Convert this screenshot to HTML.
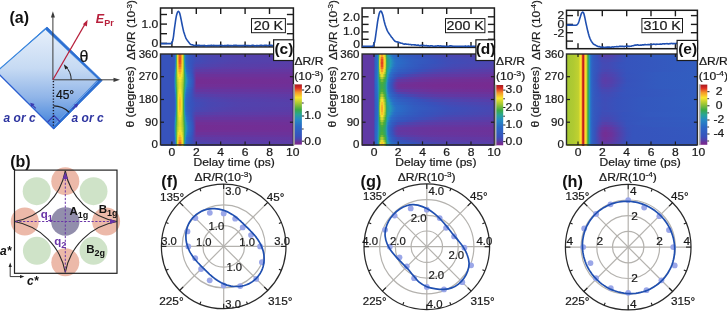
<!DOCTYPE html>
<html><head><meta charset="utf-8"><title>Figure</title>
<style>html,body{margin:0;padding:0;background:#fff}svg{display:block}text{font-family:"Liberation Sans", sans-serif}</style>
</head><body>
<svg width="727" height="311" viewBox="0 0 727 311">
<rect width="727" height="311" fill="#fff"/>
<defs>
<linearGradient id="ga" x1="0" y1="0" x2="0" y2="1"><stop offset="0" stop-color="#e6effa"/><stop offset="0.4" stop-color="#c6daf3"/><stop offset="0.7" stop-color="#8fb4e8"/><stop offset="0.88" stop-color="#5f96e0"/><stop offset="1" stop-color="#3f7ad8"/></linearGradient>
</defs>
<polygon points="47.0,27.0 102.2,80.5 54,129 -3,72.2" fill="#2c6fd2" stroke="#2c6fd2" stroke-width="0.8" stroke-linejoin="round"/>
<polygon points="45.4,29.4 98.2,79.3 52.3,127.0 -3.5,71.6" fill="url(#ga)" stroke="#4a8ee0" stroke-width="0.6"/>
<line x1="-3" y1="72.2" x2="54" y2="129" stroke="#2d5fd0" stroke-width="1.2"/>
<line x1="-3.5" y1="71.8" x2="46" y2="28.4" stroke="#3c88de" stroke-width="1.2"/>
<line x1="97.6" y1="81.2" x2="53.6" y2="125.8" stroke="#b9d2f4" stroke-width="0.5"/>
<path d="M47.6,122.2 L54,115.6 L60.2,121.8" fill="none" stroke="#3a3ab0" stroke-width="1.1"/>
<line x1="52.9" y1="79.8" x2="52.9" y2="14" stroke="#3a3a3a" stroke-width="1"/>
<polygon points="52.9,11.2 50.9,17.5 54.9,17.5" fill="#3a3a3a"/>
<line x1="52.9" y1="79.8" x2="116" y2="79.8" stroke="#3a3a3a" stroke-width="1"/>
<polygon points="120,79.8 113.5,77.7 113.5,81.9" fill="#3a3a3a"/>
<line x1="52.9" y1="79.8" x2="85.4" y2="23.4" stroke="#b8203c" stroke-width="1.2"/>
<polygon points="87.6,19.8 86.9,26.6 82.9,24.3" fill="#b8203c"/>
<path d="M71.2,79.8 A18.3,18.3 0 0 0 65.6,66.6" fill="none" stroke="#222" stroke-width="1"/>
<polygon points="63.8,64.2 68.2,67.6 65.2,69.6" fill="#222"/>
<line x1="53.4" y1="81" x2="53.4" y2="127.5" stroke="#1c1c2c" stroke-width="1.4" stroke-dasharray="1.3,1.6"/>
<path d="M53.6,105.8 A22.8,22.8 0 0 1 69.2,112.2" fill="none" stroke="#222" stroke-width="1.2"/>
<line x1="72.6" y1="109" x2="76.4" y2="105.2" stroke="#3a3ab0" stroke-width="1.1"/><polygon points="78.2,103.4 76.9,107.8 73.8,104.7" fill="#3a3ab0"/>
<line x1="35.8" y1="108.4" x2="32" y2="104.6" stroke="#3a3ab0" stroke-width="1.1"/><polygon points="30.2,102.8 34.6,104.1 31.5,107.2" fill="#3a3ab0"/>
<text transform="translate(9.5 23.2) scale(1 1)" font-size="16" font-weight="bold" fill="#111">(a)</text>
<text transform="translate(95.8 23.0) scale(1 1)" font-size="12.5" font-weight="bold" font-style="italic" fill="#b8203c">E</text>
<text transform="translate(104.2 26.2) scale(1 1)" font-size="9" font-weight="bold" fill="#b8203c">Pr</text>
<text transform="translate(79.6 62.0) scale(1 1)" font-size="16" fill="#111" font-family='"Liberation Serif", serif' stroke="#111" stroke-width="0.22">θ</text>
<text transform="translate(56.0 98.6) scale(1 1)" font-size="12" fill="#111" stroke="#111" stroke-width="0.22">45°</text>
<text transform="translate(3.6 121.6) scale(1 1)" font-size="12" font-weight="bold" font-style="italic" fill="#2e35a0">a or c</text>
<text transform="translate(71.6 121.6) scale(1 1)" font-size="12" font-weight="bold" font-style="italic" fill="#2e35a0">a or c</text>
<circle cx="65.3" cy="181.2" r="14" fill="#ecb9a9"/>
<circle cx="65.3" cy="262.3" r="14" fill="#ecb9a9"/>
<circle cx="24.8" cy="221.5" r="14" fill="#ecb9a9"/>
<circle cx="106.1" cy="221.5" r="14" fill="#ecb9a9"/>
<circle cx="36.7" cy="191.2" r="14" fill="#cfe3c8"/>
<circle cx="93.5" cy="191.2" r="14" fill="#cfe3c8"/>
<circle cx="36.9" cy="250.8" r="14" fill="#cfe3c8"/>
<circle cx="93.5" cy="250.8" r="14" fill="#cfe3c8"/>
<circle cx="65.3" cy="221.5" r="14.2" fill="#928eac"/>
<rect x="14.5" y="170.1" width="102.5" height="103.20000000000002" fill="none" stroke="#222" stroke-width="1.2"/>
<path d="M14.5,221.5 A63,63 0 0 0 65.3,170.9 A63,63 0 0 0 117.0,221.5 A63,63 0 0 0 65.3,272.5 A63,63 0 0 0 14.5,221.5 Z" fill="none" stroke="#2a2a2a" stroke-width="1.1" stroke-linejoin="miter"/>
<line x1="15.5" y1="221.5" x2="112.0" y2="221.5" stroke="#6a35a8" stroke-width="1" stroke-dasharray="2.2,1.6"/>
<line x1="65.3" y1="272.3" x2="65.3" y2="177.1" stroke="#6a35a8" stroke-width="1" stroke-dasharray="2.2,1.6"/>
<polygon points="116.5,221.5 110.0,218.9 110.0,224.1" fill="#6a35a8"/>
<polygon points="65.3,172.1 62.699999999999996,179.1 67.89999999999999,179.1" fill="#6a35a8"/>
<text transform="translate(10.2 166.5) scale(1 1)" font-size="16" font-weight="bold" fill="#111">(b)</text>
<text transform="translate(69.4 215.2) scale(1 1)" font-size="11.5" font-weight="bold" fill="#111">A<tspan font-size="9" dy="2.6">1g</tspan></text>
<text transform="translate(98.8 213.4) scale(1 1)" font-size="11.5" font-weight="bold" fill="#111">B<tspan font-size="9" dy="2.6">1g</tspan></text>
<text transform="translate(86.2 253.2) scale(1 1)" font-size="11.5" font-weight="bold" fill="#111">B<tspan font-size="9" dy="2.6">2g</tspan></text>
<text transform="translate(40.8 218.2) scale(1 1)" font-size="11.5" font-weight="bold" fill="#6a35a8">q<tspan font-size="9" dy="2.6">1</tspan></text>
<text transform="translate(54.2 245.2) scale(1 1)" font-size="11.5" font-weight="bold" fill="#6a35a8">q<tspan font-size="9" dy="2.6">2</tspan></text>
<text transform="translate(0.0 254.8) scale(1 1)" font-size="12" font-weight="bold" font-style="italic" fill="#111">a*</text>
<text transform="translate(27.0 284.5) scale(1 1)" font-size="12" font-weight="bold" font-style="italic" fill="#111">c*</text>
<path d="M10.2,265 L10.2,276.6 L21.5,276.6" fill="none" stroke="#222" stroke-width="0.9"/>
<polygon points="10.2,262.6 8.6,267 11.8,267" fill="#222"/><polygon points="24.4,276.6 20,275 20,278.2" fill="#222"/>
<rect x="160.5" y="8.0" width="132.9" height="38.9" fill="#fff" stroke="#1c1c1c" stroke-width="1.5"/>
<line x1="171.9" y1="8.0" x2="171.9" y2="14.0" stroke="#1c1c1c" stroke-width="1.4"/>
<line x1="171.9" y1="46.9" x2="171.9" y2="41.4" stroke="#1c1c1c" stroke-width="1.4"/>
<line x1="196.3" y1="8.0" x2="196.3" y2="14.0" stroke="#1c1c1c" stroke-width="1.4"/>
<line x1="196.3" y1="46.9" x2="196.3" y2="41.4" stroke="#1c1c1c" stroke-width="1.4"/>
<line x1="220.7" y1="8.0" x2="220.7" y2="14.0" stroke="#1c1c1c" stroke-width="1.4"/>
<line x1="220.7" y1="46.9" x2="220.7" y2="41.4" stroke="#1c1c1c" stroke-width="1.4"/>
<line x1="245.1" y1="8.0" x2="245.1" y2="14.0" stroke="#1c1c1c" stroke-width="1.4"/>
<line x1="245.1" y1="46.9" x2="245.1" y2="41.4" stroke="#1c1c1c" stroke-width="1.4"/>
<line x1="269.5" y1="8.0" x2="269.5" y2="14.0" stroke="#1c1c1c" stroke-width="1.4"/>
<line x1="269.5" y1="46.9" x2="269.5" y2="41.4" stroke="#1c1c1c" stroke-width="1.4"/>
<line x1="160.5" y1="14.5" x2="167.0" y2="14.5" stroke="#1c1c1c" stroke-width="1.4"/>
<line x1="160.5" y1="24.1" x2="167.0" y2="24.1" stroke="#1c1c1c" stroke-width="1.4"/>
<line x1="160.5" y1="33.7" x2="167.0" y2="33.7" stroke="#1c1c1c" stroke-width="1.4"/>
<line x1="160.5" y1="43.4" x2="167.0" y2="43.4" stroke="#1c1c1c" stroke-width="1.4"/>
<line x1="293.4" y1="14.5" x2="286.9" y2="14.5" stroke="#1c1c1c" stroke-width="1.4"/>
<line x1="293.4" y1="24.1" x2="286.9" y2="24.1" stroke="#1c1c1c" stroke-width="1.4"/>
<line x1="293.4" y1="33.7" x2="286.9" y2="33.7" stroke="#1c1c1c" stroke-width="1.4"/>
<text transform="translate(158.3 28.1) scale(1.1 1)" font-size="11" text-anchor="end" fill="#1a1a1a" stroke="#1a1a1a" stroke-width="0.22">1.0</text>
<text transform="translate(158.3 47.4) scale(1.1 1)" font-size="11" text-anchor="end" fill="#1a1a1a" stroke="#1a1a1a" stroke-width="0.22">0</text>
<clipPath id="cp0"><rect x="160.5" y="8.0" width="132.9" height="38.9"/></clipPath>
<path d="M160.7,43.6 L161.3,43.6 L161.8,43.6 L162.3,43.6 L162.8,43.6 L163.3,43.6 L163.8,43.6 L164.3,43.6 L164.8,43.6 L165.3,43.6 L165.9,43.6 L166.4,43.6 L166.9,43.6 L167.4,43.6 L167.9,43.6 L168.4,43.6 L168.9,43.6 L169.4,43.6 L169.9,43.6 L170.5,43.6 L171.0,43.5 L171.5,43.2 L172.0,42.7 L172.5,41.4 L173.0,39.3 L173.5,36.3 L174.0,32.1 L174.5,28.1 L175.1,24.0 L175.6,20.4 L176.1,17.4 L176.6,14.9 L177.1,13.3 L177.6,12.0 L178.1,11.5 L178.6,11.4 L179.1,12.0 L179.7,13.2 L180.2,15.2 L180.7,17.5 L181.2,19.9 L181.7,22.5 L182.2,25.0 L182.7,27.4 L183.2,29.6 L183.7,31.7 L184.3,33.5 L184.8,35.1 L185.3,36.5 L185.8,37.8 L186.3,38.9 L186.8,39.6 L187.3,40.4 L187.8,41.0 L188.4,41.8 L188.9,42.4 L189.4,43.2 L189.9,43.7 L190.4,44.3 L190.9,44.5 L191.4,44.7 L191.9,44.7 L192.4,44.8 L193.0,45.1 L193.5,45.2 L194.0,45.4 L194.5,45.5 L195.0,45.5 L195.5,45.4 L196.0,45.4 L196.5,45.4 L197.0,45.6 L197.6,45.3 L198.1,45.4 L198.6,45.3 L199.1,45.4 L199.6,45.4 L200.1,45.6 L200.6,45.5 L201.1,45.6 L201.6,45.5 L202.2,45.6 L202.7,45.5 L203.2,45.5 L203.7,45.5 L204.2,45.4 L204.7,45.5 L205.2,45.8 L205.7,45.9 L206.2,45.9 L206.8,45.7 L207.3,45.7 L207.8,45.6 L208.3,45.6 L208.8,45.6 L209.3,45.5 L209.8,45.6 L210.3,45.6 L210.8,45.4 L211.4,45.3 L211.9,45.4 L212.4,45.6 L212.9,45.6 L213.4,45.4 L213.9,45.4 L214.4,45.5 L214.9,45.6 L215.4,45.6 L216.0,45.5 L216.5,45.5 L217.0,45.6 L217.5,45.6 L218.0,45.5 L218.5,45.6 L219.0,45.5 L219.5,45.5 L220.0,45.4 L220.6,45.5 L221.1,45.4 L221.6,45.5 L222.1,45.4 L222.6,45.6 L223.1,45.7 L223.6,45.7 L224.1,45.6 L224.6,45.5 L225.2,45.5 L225.7,45.6 L226.2,45.6 L226.7,45.7 L227.2,45.4 L227.7,45.3 L228.2,45.3 L228.7,45.5 L229.3,45.6 L229.8,45.6 L230.3,45.5 L230.8,45.5 L231.3,45.6 L231.8,45.8 L232.3,45.7 L232.8,45.6 L233.3,45.4 L233.9,45.5 L234.4,45.4 L234.9,45.5 L235.4,45.4 L235.9,45.4 L236.4,45.4 L236.9,45.5 L237.4,45.5 L237.9,45.6 L238.5,45.5 L239.0,45.6 L239.5,45.5 L240.0,45.6 L240.5,45.6 L241.0,45.6 L241.5,45.5 L242.0,45.5 L242.5,45.5 L243.1,45.6 L243.6,45.7 L244.1,45.4 L244.6,45.4 L245.1,45.4 L245.6,45.5 L246.1,45.6 L246.6,45.5 L247.1,45.5 L247.7,45.5 L248.2,45.5 L248.7,45.7 L249.2,45.6 L249.7,45.7 L250.2,45.8 L250.7,45.8 L251.2,45.6 L251.7,45.4 L252.3,45.2 L252.8,45.3 L253.3,45.4 L253.8,45.5 L254.3,45.8 L254.8,45.8 L255.3,45.9 L255.8,45.7 L256.3,45.5 L256.9,45.5 L257.4,45.6 L257.9,45.8 L258.4,45.7 L258.9,45.6 L259.4,45.5 L259.9,45.5 L260.4,45.4 L260.9,45.3 L261.5,45.3 L262.0,45.5 L262.5,45.6 L263.0,45.6 L263.5,45.5 L264.0,45.5 L264.5,45.4 L265.0,45.3 L265.5,45.3 L266.1,45.3 L266.6,45.4 L267.1,45.5 L267.6,45.6 L268.1,45.5 L268.6,45.5 L269.1,45.2 L269.6,45.4 L270.2,45.4 L270.7,45.4 L271.2,45.4 L271.7,45.4 L272.2,45.5 L272.7,45.6 L273.2,45.6 L273.7,45.6 L274.2,45.5 L274.8,45.5 L275.3,45.3 L275.8,45.6 L276.3,45.6 L276.8,45.7 L277.3,45.5 L277.8,45.4 L278.3,45.4 L278.8,45.4 L279.4,45.5 L279.9,45.3 L280.4,45.2 L280.9,45.2 L281.4,45.5 L281.9,45.5 L282.4,45.7 L282.9,45.6 L283.4,45.4 L284.0,45.3 L284.5,45.2 L285.0,45.3 L285.5,45.2 L286.0,45.2 L286.5,45.2 L287.0,45.2 L287.5,45.3 L288.0,45.3 L288.6,45.6 L289.1,45.6 L289.6,45.8 L290.1,45.6 L290.6,45.6 L291.1,45.7 L291.6,45.7 L292.1,45.4 L292.6,45.3 L293.2,45.3" fill="none" stroke="#1f4fb0" stroke-width="1.6" stroke-linejoin="round" clip-path="url(#cp0)"/>
<rect x="251.5" y="18.6" width="33.9" height="14.1" fill="#fff" stroke="#1c1c1c" stroke-width="1"/>
<text transform="translate(268.4 30.1) scale(1.1 1)" font-size="13" text-anchor="middle" fill="#1a1a1a" stroke="#1a1a1a" stroke-width="0.22">20 K</text>
<text transform="translate(135.3 60.0) rotate(-90) scale(1 0.94)" font-size="12" fill="#1a1a1a" stroke="#1a1a1a" stroke-width="0.22">ΔR/R (10<tspan font-size="7.5" dy="-4">-3</tspan><tspan dy="4">)</tspan></text>
<rect x="362.1" y="8.0" width="132.3" height="39.4" fill="#fff" stroke="#1c1c1c" stroke-width="1.5"/>
<line x1="374.0" y1="8.0" x2="374.0" y2="14.0" stroke="#1c1c1c" stroke-width="1.4"/>
<line x1="374.0" y1="47.4" x2="374.0" y2="41.9" stroke="#1c1c1c" stroke-width="1.4"/>
<line x1="398.2" y1="8.0" x2="398.2" y2="14.0" stroke="#1c1c1c" stroke-width="1.4"/>
<line x1="398.2" y1="47.4" x2="398.2" y2="41.9" stroke="#1c1c1c" stroke-width="1.4"/>
<line x1="422.5" y1="8.0" x2="422.5" y2="14.0" stroke="#1c1c1c" stroke-width="1.4"/>
<line x1="422.5" y1="47.4" x2="422.5" y2="41.9" stroke="#1c1c1c" stroke-width="1.4"/>
<line x1="446.7" y1="8.0" x2="446.7" y2="14.0" stroke="#1c1c1c" stroke-width="1.4"/>
<line x1="446.7" y1="47.4" x2="446.7" y2="41.9" stroke="#1c1c1c" stroke-width="1.4"/>
<line x1="471.0" y1="8.0" x2="471.0" y2="14.0" stroke="#1c1c1c" stroke-width="1.4"/>
<line x1="471.0" y1="47.4" x2="471.0" y2="41.9" stroke="#1c1c1c" stroke-width="1.4"/>
<line x1="362.1" y1="16.8" x2="368.6" y2="16.8" stroke="#1c1c1c" stroke-width="1.4"/>
<line x1="362.1" y1="24.4" x2="368.6" y2="24.4" stroke="#1c1c1c" stroke-width="1.4"/>
<line x1="362.1" y1="31.9" x2="368.6" y2="31.9" stroke="#1c1c1c" stroke-width="1.4"/>
<line x1="362.1" y1="39.3" x2="368.6" y2="39.3" stroke="#1c1c1c" stroke-width="1.4"/>
<line x1="494.4" y1="16.8" x2="487.9" y2="16.8" stroke="#1c1c1c" stroke-width="1.4"/>
<line x1="494.4" y1="24.4" x2="487.9" y2="24.4" stroke="#1c1c1c" stroke-width="1.4"/>
<line x1="494.4" y1="31.9" x2="487.9" y2="31.9" stroke="#1c1c1c" stroke-width="1.4"/>
<line x1="494.4" y1="39.3" x2="487.9" y2="39.3" stroke="#1c1c1c" stroke-width="1.4"/>
<text transform="translate(359.9 20.8) scale(1.1 1)" font-size="11" text-anchor="end" fill="#1a1a1a" stroke="#1a1a1a" stroke-width="0.22">2.0</text>
<text transform="translate(359.9 35.3) scale(1.1 1)" font-size="11" text-anchor="end" fill="#1a1a1a" stroke="#1a1a1a" stroke-width="0.22">1.0</text>
<text transform="translate(359.9 48.3) scale(1.1 1)" font-size="11" text-anchor="end" fill="#1a1a1a" stroke="#1a1a1a" stroke-width="0.22">0</text>
<clipPath id="cp1"><rect x="362.1" y="8.0" width="132.3" height="39.4"/></clipPath>
<path d="M362.3,46.3 L362.9,46.3 L363.4,46.3 L363.9,46.3 L364.4,46.3 L364.9,46.3 L365.4,46.3 L365.9,46.3 L366.4,46.3 L366.9,46.3 L367.4,46.3 L367.9,46.3 L368.4,46.3 L369.0,46.3 L369.5,46.3 L370.0,46.3 L370.5,46.3 L371.0,46.3 L371.5,46.3 L372.0,46.3 L372.5,46.3 L373.0,46.1 L373.5,45.2 L374.0,43.8 L374.6,42.2 L375.1,39.6 L375.6,36.1 L376.1,32.5 L376.6,29.0 L377.1,25.3 L377.6,21.7 L378.1,18.9 L378.6,16.3 L379.1,14.0 L379.6,12.4 L380.2,11.5 L380.7,11.0 L381.2,11.2 L381.7,12.1 L382.2,13.4 L382.7,14.8 L383.2,16.8 L383.7,19.2 L384.2,21.3 L384.7,23.2 L385.2,25.0 L385.8,26.7 L386.3,28.1 L386.8,29.4 L387.3,30.6 L387.8,31.6 L388.3,32.4 L388.8,33.3 L389.3,33.9 L389.8,34.6 L390.3,35.4 L390.8,36.1 L391.4,36.9 L391.9,37.5 L392.4,38.1 L392.9,38.8 L393.4,39.4 L393.9,40.2 L394.4,40.6 L394.9,41.2 L395.4,41.3 L395.9,41.7 L396.4,41.8 L397.0,41.9 L397.5,41.9 L398.0,42.1 L398.5,42.3 L399.0,42.5 L399.5,42.6 L400.0,42.8 L400.5,43.0 L401.0,43.2 L401.5,43.2 L402.0,43.3 L402.5,43.5 L403.1,43.8 L403.6,44.0 L404.1,44.1 L404.6,44.2 L405.1,43.9 L405.6,44.0 L406.1,44.1 L406.6,44.3 L407.1,44.3 L407.6,44.2 L408.1,44.3 L408.7,44.4 L409.2,44.5 L409.7,44.5 L410.2,44.5 L410.7,44.5 L411.2,44.7 L411.7,44.9 L412.2,44.8 L412.7,44.8 L413.2,44.7 L413.7,44.7 L414.3,44.9 L414.8,44.8 L415.3,44.9 L415.8,45.0 L416.3,45.2 L416.8,45.2 L417.3,45.3 L417.8,45.1 L418.3,45.1 L418.8,45.3 L419.3,45.5 L419.9,45.7 L420.4,45.5 L420.9,45.4 L421.4,45.3 L421.9,45.4 L422.4,45.6 L422.9,45.5 L423.4,45.4 L423.9,45.5 L424.4,45.6 L424.9,45.7 L425.5,45.7 L426.0,45.6 L426.5,45.6 L427.0,45.7 L427.5,45.9 L428.0,45.9 L428.5,45.9 L429.0,45.9 L429.5,46.1 L430.0,46.0 L430.5,45.9 L431.0,45.8 L431.6,45.8 L432.1,45.9 L432.6,46.0 L433.1,46.2 L433.6,46.2 L434.1,46.2 L434.6,46.2 L435.1,46.1 L435.6,46.1 L436.1,46.1 L436.6,46.0 L437.2,45.9 L437.7,45.8 L438.2,45.8 L438.7,45.9 L439.2,46.1 L439.7,46.0 L440.2,45.9 L440.7,46.0 L441.2,46.0 L441.7,46.1 L442.2,46.1 L442.8,46.2 L443.3,46.2 L443.8,46.1 L444.3,46.3 L444.8,46.3 L445.3,46.4 L445.8,46.4 L446.3,46.3 L446.8,46.4 L447.3,46.3 L447.8,46.5 L448.4,46.4 L448.9,46.3 L449.4,46.0 L449.9,45.9 L450.4,45.8 L450.9,46.0 L451.4,45.9 L451.9,46.1 L452.4,46.1 L452.9,46.4 L453.4,46.4 L454.0,46.3 L454.5,46.2 L455.0,46.3 L455.5,46.4 L456.0,46.4 L456.5,46.4 L457.0,46.5 L457.5,46.3 L458.0,46.5 L458.5,46.4 L459.0,46.5 L459.5,46.3 L460.1,46.2 L460.6,46.3 L461.1,46.3 L461.6,46.3 L462.1,46.2 L462.6,46.3 L463.1,46.3 L463.6,46.5 L464.1,46.4 L464.6,46.2 L465.1,46.1 L465.7,46.1 L466.2,46.3 L466.7,46.6 L467.2,46.4 L467.7,46.3 L468.2,46.1 L468.7,46.1 L469.2,46.2 L469.7,46.2 L470.2,46.4 L470.7,46.5 L471.3,46.4 L471.8,46.2 L472.3,46.3 L472.8,46.3 L473.3,46.4 L473.8,46.2 L474.3,46.3 L474.8,46.4 L475.3,46.4 L475.8,46.5 L476.3,46.2 L476.9,46.0 L477.4,46.0 L477.9,46.2 L478.4,46.3 L478.9,46.3 L479.4,46.1 L479.9,46.0 L480.4,45.9 L480.9,46.0 L481.4,46.3 L481.9,46.5 L482.5,46.4 L483.0,46.4 L483.5,46.3 L484.0,46.2 L484.5,46.1 L485.0,46.3 L485.5,46.3 L486.0,46.2 L486.5,46.3 L487.0,46.3 L487.5,46.5 L488.1,46.4 L488.6,46.4 L489.1,46.4 L489.6,46.2 L490.1,46.1 L490.6,46.2 L491.1,46.4 L491.6,46.4 L492.1,46.4 L492.6,46.3 L493.1,46.3 L493.6,46.2 L494.2,46.2" fill="none" stroke="#1f4fb0" stroke-width="1.6" stroke-linejoin="round" clip-path="url(#cp1)"/>
<rect x="445.5" y="18.6" width="39.4" height="14.1" fill="#fff" stroke="#1c1c1c" stroke-width="1"/>
<text transform="translate(465.2 30.1) scale(1.1 1)" font-size="13" text-anchor="middle" fill="#1a1a1a" stroke="#1a1a1a" stroke-width="0.22">200 K</text>
<text transform="translate(336.8 60.0) rotate(-90) scale(1 0.94)" font-size="12" fill="#1a1a1a" stroke="#1a1a1a" stroke-width="0.22">ΔR/R (10<tspan font-size="7.5" dy="-4">-3</tspan><tspan dy="4">)</tspan></text>
<rect x="566.5" y="10.3" width="130.9" height="38.4" fill="#fff" stroke="#1c1c1c" stroke-width="1.5"/>
<line x1="578.0" y1="10.3" x2="578.0" y2="16.3" stroke="#1c1c1c" stroke-width="1.4"/>
<line x1="578.0" y1="48.7" x2="578.0" y2="43.2" stroke="#1c1c1c" stroke-width="1.4"/>
<line x1="602.3" y1="10.3" x2="602.3" y2="16.3" stroke="#1c1c1c" stroke-width="1.4"/>
<line x1="602.3" y1="48.7" x2="602.3" y2="43.2" stroke="#1c1c1c" stroke-width="1.4"/>
<line x1="626.7" y1="10.3" x2="626.7" y2="16.3" stroke="#1c1c1c" stroke-width="1.4"/>
<line x1="626.7" y1="48.7" x2="626.7" y2="43.2" stroke="#1c1c1c" stroke-width="1.4"/>
<line x1="651.0" y1="10.3" x2="651.0" y2="16.3" stroke="#1c1c1c" stroke-width="1.4"/>
<line x1="651.0" y1="48.7" x2="651.0" y2="43.2" stroke="#1c1c1c" stroke-width="1.4"/>
<line x1="675.4" y1="10.3" x2="675.4" y2="16.3" stroke="#1c1c1c" stroke-width="1.4"/>
<line x1="675.4" y1="48.7" x2="675.4" y2="43.2" stroke="#1c1c1c" stroke-width="1.4"/>
<line x1="566.5" y1="15.6" x2="573.0" y2="15.6" stroke="#1c1c1c" stroke-width="1.4"/>
<line x1="566.5" y1="24.4" x2="573.0" y2="24.4" stroke="#1c1c1c" stroke-width="1.4"/>
<line x1="566.5" y1="32.7" x2="573.0" y2="32.7" stroke="#1c1c1c" stroke-width="1.4"/>
<line x1="566.5" y1="41.1" x2="573.0" y2="41.1" stroke="#1c1c1c" stroke-width="1.4"/>
<line x1="697.4" y1="15.6" x2="690.9" y2="15.6" stroke="#1c1c1c" stroke-width="1.4"/>
<line x1="697.4" y1="24.4" x2="690.9" y2="24.4" stroke="#1c1c1c" stroke-width="1.4"/>
<line x1="697.4" y1="32.7" x2="690.9" y2="32.7" stroke="#1c1c1c" stroke-width="1.4"/>
<text transform="translate(564.3 18.6) scale(1.1 1)" font-size="11" text-anchor="end" fill="#1a1a1a" stroke="#1a1a1a" stroke-width="0.22">2</text>
<text transform="translate(564.3 28.4) scale(1.1 1)" font-size="11" text-anchor="end" fill="#1a1a1a" stroke="#1a1a1a" stroke-width="0.22">0</text>
<text transform="translate(564.3 37.2) scale(1.1 1)" font-size="11" text-anchor="end" fill="#1a1a1a" stroke="#1a1a1a" stroke-width="0.22">-2</text>
<clipPath id="cp2"><rect x="566.5" y="10.3" width="130.9" height="38.4"/></clipPath>
<path d="M566.7,25.1 L567.2,25.1 L567.8,25.1 L568.3,25.1 L568.8,25.1 L569.3,25.1 L569.8,25.1 L570.3,25.1 L570.8,25.1 L571.3,25.1 L571.8,25.1 L572.3,25.1 L572.8,25.1 L573.3,25.2 L573.8,25.2 L574.3,25.2 L574.8,25.2 L575.3,25.2 L575.8,25.2 L576.3,25.1 L576.8,24.9 L577.3,24.6 L577.8,23.9 L578.3,23.1 L578.8,21.8 L579.3,20.2 L579.8,18.4 L580.3,16.9 L580.8,15.2 L581.3,13.7 L581.8,12.8 L582.4,12.3 L582.9,12.1 L583.4,12.5 L583.9,13.8 L584.4,15.7 L584.9,17.9 L585.4,20.4 L585.9,22.8 L586.4,25.1 L586.9,27.4 L587.4,29.6 L587.9,31.5 L588.4,33.5 L588.9,35.3 L589.4,36.9 L589.9,38.2 L590.4,39.4 L590.9,40.4 L591.4,41.3 L591.9,42.1 L592.4,42.7 L592.9,43.4 L593.4,44.0 L593.9,44.3 L594.4,44.7 L594.9,44.8 L595.4,45.1 L595.9,45.4 L596.5,45.8 L597.0,46.0 L597.5,46.2 L598.0,46.4 L598.5,46.6 L599.0,46.7 L599.5,46.6 L600.0,46.8 L600.5,47.1 L601.0,47.2 L601.5,47.4 L602.0,47.1 L602.5,47.0 L603.0,47.0 L603.5,47.2 L604.0,47.5 L604.5,47.5 L605.0,47.4 L605.5,47.3 L606.0,47.4 L606.5,47.2 L607.0,47.1 L607.5,47.1 L608.0,47.1 L608.5,47.1 L609.0,47.0 L609.5,47.1 L610.0,47.2 L610.6,47.3 L611.1,47.2 L611.6,47.1 L612.1,47.0 L612.6,46.9 L613.1,47.1 L613.6,47.0 L614.1,46.9 L614.6,46.8 L615.1,46.8 L615.6,46.8 L616.1,46.7 L616.6,46.5 L617.1,46.5 L617.6,46.7 L618.1,46.7 L618.6,46.6 L619.1,46.4 L619.6,46.5 L620.1,46.3 L620.6,46.5 L621.1,46.3 L621.6,46.5 L622.1,46.4 L622.6,46.4 L623.1,46.4 L623.6,46.5 L624.1,46.7 L624.6,46.6 L625.2,46.2 L625.7,46.2 L626.2,46.2 L626.7,46.2 L627.2,46.0 L627.7,46.0 L628.2,46.2 L628.7,46.4 L629.2,46.4 L629.7,46.2 L630.2,46.2 L630.7,46.3 L631.2,46.2 L631.7,46.0 L632.2,45.8 L632.7,45.8 L633.2,45.8 L633.7,45.6 L634.2,45.4 L634.7,45.1 L635.2,45.1 L635.7,45.1 L636.2,45.1 L636.7,45.0 L637.2,44.9 L637.7,44.8 L638.2,45.0 L638.7,45.2 L639.3,45.2 L639.8,45.2 L640.3,45.0 L640.8,45.1 L641.3,45.2 L641.8,45.0 L642.3,44.9 L642.8,44.8 L643.3,44.9 L643.8,44.9 L644.3,44.7 L644.8,44.5 L645.3,44.5 L645.8,44.7 L646.3,44.8 L646.8,44.8 L647.3,44.7 L647.8,44.6 L648.3,44.5 L648.8,44.6 L649.3,44.5 L649.8,44.6 L650.3,44.5 L650.8,44.5 L651.3,44.5 L651.8,44.5 L652.3,44.5 L652.8,44.3 L653.3,44.3 L653.9,44.1 L654.4,44.2 L654.9,44.3 L655.4,44.5 L655.9,44.4 L656.4,44.4 L656.9,44.1 L657.4,44.2 L657.9,44.2 L658.4,44.2 L658.9,44.2 L659.4,44.2 L659.9,44.1 L660.4,44.1 L660.9,44.1 L661.4,44.2 L661.9,44.1 L662.4,43.9 L662.9,43.8 L663.4,43.8 L663.9,43.9 L664.4,43.9 L664.9,43.9 L665.4,43.8 L665.9,43.8 L666.4,43.7 L666.9,43.6 L667.4,43.8 L668.0,43.9 L668.5,44.0 L669.0,43.9 L669.5,43.8 L670.0,43.6 L670.5,43.6 L671.0,43.6 L671.5,43.4 L672.0,43.5 L672.5,43.6 L673.0,43.8 L673.5,43.6 L674.0,43.5 L674.5,43.5 L675.0,43.6 L675.5,43.5 L676.0,43.5 L676.5,43.4 L677.0,43.5 L677.5,43.5 L678.0,43.4 L678.5,43.3 L679.0,43.3 L679.5,43.2 L680.0,43.3 L680.5,43.3 L681.0,43.2 L681.5,43.1 L682.1,43.1 L682.6,43.2 L683.1,43.3 L683.6,43.2 L684.1,43.1 L684.6,43.1 L685.1,43.3 L685.6,43.2 L686.1,43.3 L686.6,43.2 L687.1,43.3 L687.6,43.1 L688.1,43.0 L688.6,43.0 L689.1,43.0 L689.6,43.1 L690.1,43.2 L690.6,43.1 L691.1,43.1 L691.6,42.9 L692.1,42.9 L692.6,42.8 L693.1,42.7 L693.6,42.6 L694.1,42.6 L694.6,42.6 L695.1,42.6 L695.6,42.6 L696.1,42.7 L696.7,42.7 L697.2,42.8" fill="none" stroke="#1f4fb0" stroke-width="1.6" stroke-linejoin="round" clip-path="url(#cp2)"/>
<rect x="641.9" y="18.5" width="40.6" height="14.2" fill="#fff" stroke="#1c1c1c" stroke-width="1"/>
<text transform="translate(662.2 30.1) scale(1.1 1)" font-size="13" text-anchor="middle" fill="#1a1a1a" stroke="#1a1a1a" stroke-width="0.22">310 K</text>
<text transform="translate(539.8 60.0) rotate(-90) scale(1 0.94)" font-size="12" fill="#1a1a1a" stroke="#1a1a1a" stroke-width="0.22">ΔR/R (10<tspan font-size="7.5" dy="-4">-4</tspan><tspan dy="4">)</tspan></text>
<defs>
<linearGradient id="h0_0"><stop offset="0.000" stop-color="#3753bc"/><stop offset="0.100" stop-color="#3753bc"/><stop offset="0.104" stop-color="#3457be"/><stop offset="0.109" stop-color="#2e64c3"/><stop offset="0.113" stop-color="#277bc4"/><stop offset="0.118" stop-color="#28a092"/><stop offset="0.122" stop-color="#71b838"/><stop offset="0.127" stop-color="#e5de2e"/><stop offset="0.132" stop-color="#f8bf2b"/><stop offset="0.136" stop-color="#f59528"/><stop offset="0.141" stop-color="#ea6926"/><stop offset="0.145" stop-color="#e44e25"/><stop offset="0.150" stop-color="#e75c25"/><stop offset="0.155" stop-color="#f18427"/><stop offset="0.164" stop-color="#f8cc2b"/><stop offset="0.168" stop-color="#e4de2e"/><stop offset="0.173" stop-color="#9cc534"/><stop offset="0.178" stop-color="#37a85b"/><stop offset="0.182" stop-color="#249cae"/><stop offset="0.187" stop-color="#277bc4"/><stop offset="0.191" stop-color="#2a6cc6"/><stop offset="0.196" stop-color="#2d65c4"/><stop offset="0.219" stop-color="#3457be"/><stop offset="0.242" stop-color="#3851bb"/><stop offset="0.265" stop-color="#444ab5"/><stop offset="0.384" stop-color="#4d45b0"/><stop offset="0.545" stop-color="#5341ac"/><stop offset="1.000" stop-color="#583ea9"/></linearGradient>
<linearGradient id="h0_1"><stop offset="0.000" stop-color="#3753bc"/><stop offset="0.100" stop-color="#3753bc"/><stop offset="0.104" stop-color="#3557be"/><stop offset="0.109" stop-color="#2f63c3"/><stop offset="0.113" stop-color="#2778c5"/><stop offset="0.118" stop-color="#28a096"/><stop offset="0.122" stop-color="#6fb838"/><stop offset="0.127" stop-color="#e7df2e"/><stop offset="0.132" stop-color="#f7bb2a"/><stop offset="0.136" stop-color="#f38c28"/><stop offset="0.141" stop-color="#e85e25"/><stop offset="0.145" stop-color="#e14224"/><stop offset="0.150" stop-color="#e45025"/><stop offset="0.159" stop-color="#f6a229"/><stop offset="0.164" stop-color="#f8c82b"/><stop offset="0.168" stop-color="#e7df2e"/><stop offset="0.173" stop-color="#9bc434"/><stop offset="0.178" stop-color="#35a75e"/><stop offset="0.182" stop-color="#249cb3"/><stop offset="0.187" stop-color="#2778c5"/><stop offset="0.191" stop-color="#2b6bc6"/><stop offset="0.196" stop-color="#2e64c3"/><stop offset="0.214" stop-color="#3458bf"/><stop offset="0.242" stop-color="#3752bc"/><stop offset="0.265" stop-color="#404cb7"/><stop offset="0.361" stop-color="#4947b2"/><stop offset="0.591" stop-color="#5242ad"/><stop offset="1.000" stop-color="#5640aa"/></linearGradient>
<linearGradient id="h0_2"><stop offset="0.000" stop-color="#3753bc"/><stop offset="0.100" stop-color="#3753bc"/><stop offset="0.104" stop-color="#3557be"/><stop offset="0.109" stop-color="#2f63c3"/><stop offset="0.113" stop-color="#2779c5"/><stop offset="0.118" stop-color="#28a096"/><stop offset="0.122" stop-color="#6fb838"/><stop offset="0.127" stop-color="#e8df2e"/><stop offset="0.132" stop-color="#f7ba2a"/><stop offset="0.136" stop-color="#f28b27"/><stop offset="0.141" stop-color="#e75d25"/><stop offset="0.145" stop-color="#e14124"/><stop offset="0.150" stop-color="#e44f25"/><stop offset="0.159" stop-color="#f6a129"/><stop offset="0.164" stop-color="#f8c72b"/><stop offset="0.168" stop-color="#e7df2e"/><stop offset="0.173" stop-color="#9cc534"/><stop offset="0.178" stop-color="#35a75d"/><stop offset="0.182" stop-color="#249cb3"/><stop offset="0.187" stop-color="#2779c5"/><stop offset="0.191" stop-color="#2b6bc6"/><stop offset="0.196" stop-color="#2e64c3"/><stop offset="0.214" stop-color="#3458bf"/><stop offset="0.242" stop-color="#3752bc"/><stop offset="0.265" stop-color="#404cb7"/><stop offset="0.361" stop-color="#4947b2"/><stop offset="0.591" stop-color="#5242ad"/><stop offset="1.000" stop-color="#5640aa"/></linearGradient>
<linearGradient id="h0_3"><stop offset="0.000" stop-color="#3753bc"/><stop offset="0.100" stop-color="#3753bc"/><stop offset="0.104" stop-color="#3457be"/><stop offset="0.109" stop-color="#2e64c3"/><stop offset="0.113" stop-color="#277cc4"/><stop offset="0.118" stop-color="#28a091"/><stop offset="0.122" stop-color="#72b938"/><stop offset="0.127" stop-color="#e7df2e"/><stop offset="0.132" stop-color="#f7bd2a"/><stop offset="0.136" stop-color="#f49328"/><stop offset="0.141" stop-color="#ea6626"/><stop offset="0.145" stop-color="#e34b24"/><stop offset="0.150" stop-color="#e65925"/><stop offset="0.155" stop-color="#f08127"/><stop offset="0.164" stop-color="#f8ca2b"/><stop offset="0.168" stop-color="#e6df2e"/><stop offset="0.173" stop-color="#9ec534"/><stop offset="0.178" stop-color="#37a85a"/><stop offset="0.182" stop-color="#259dae"/><stop offset="0.187" stop-color="#277cc4"/><stop offset="0.191" stop-color="#2a6cc6"/><stop offset="0.196" stop-color="#2d65c4"/><stop offset="0.219" stop-color="#3457be"/><stop offset="0.242" stop-color="#3851bb"/><stop offset="0.265" stop-color="#444ab5"/><stop offset="0.384" stop-color="#4d45b0"/><stop offset="0.545" stop-color="#5341ac"/><stop offset="1.000" stop-color="#583ea9"/></linearGradient>
<linearGradient id="h0_4"><stop offset="0.000" stop-color="#3753bc"/><stop offset="0.100" stop-color="#3753bc"/><stop offset="0.104" stop-color="#3458be"/><stop offset="0.109" stop-color="#2d66c4"/><stop offset="0.113" stop-color="#2682c2"/><stop offset="0.118" stop-color="#29a188"/><stop offset="0.122" stop-color="#77ba37"/><stop offset="0.127" stop-color="#e4de2e"/><stop offset="0.132" stop-color="#f8c42b"/><stop offset="0.141" stop-color="#ee7927"/><stop offset="0.145" stop-color="#e86025"/><stop offset="0.150" stop-color="#eb6d26"/><stop offset="0.155" stop-color="#f49228"/><stop offset="0.159" stop-color="#f7ae2a"/><stop offset="0.164" stop-color="#f9d02c"/><stop offset="0.168" stop-color="#e3de2f"/><stop offset="0.173" stop-color="#a0c633"/><stop offset="0.178" stop-color="#3aa954"/><stop offset="0.182" stop-color="#269ea4"/><stop offset="0.187" stop-color="#2682c2"/><stop offset="0.191" stop-color="#296ec7"/><stop offset="0.201" stop-color="#2f63c3"/><stop offset="0.210" stop-color="#325cc0"/><stop offset="0.237" stop-color="#3752bc"/><stop offset="0.256" stop-color="#454ab4"/><stop offset="0.269" stop-color="#4b46b1"/><stop offset="0.499" stop-color="#5640aa"/><stop offset="1.000" stop-color="#5b3ca7"/></linearGradient>
<linearGradient id="h0_5"><stop offset="0.000" stop-color="#3753bc"/><stop offset="0.100" stop-color="#3753bc"/><stop offset="0.104" stop-color="#335abf"/><stop offset="0.109" stop-color="#2b69c5"/><stop offset="0.113" stop-color="#258abf"/><stop offset="0.118" stop-color="#2ba37d"/><stop offset="0.122" stop-color="#7dbc37"/><stop offset="0.127" stop-color="#dfdc2f"/><stop offset="0.132" stop-color="#f8ce2b"/><stop offset="0.136" stop-color="#f6ac29"/><stop offset="0.145" stop-color="#ef7e27"/><stop offset="0.150" stop-color="#f28827"/><stop offset="0.164" stop-color="#f9d82c"/><stop offset="0.168" stop-color="#dfdc2f"/><stop offset="0.173" stop-color="#a2c633"/><stop offset="0.178" stop-color="#3eaa4c"/><stop offset="0.182" stop-color="#28a097"/><stop offset="0.187" stop-color="#258abf"/><stop offset="0.191" stop-color="#2774c6"/><stop offset="0.201" stop-color="#2d66c4"/><stop offset="0.210" stop-color="#315ec1"/><stop offset="0.237" stop-color="#3851bb"/><stop offset="0.256" stop-color="#4b46b1"/><stop offset="0.269" stop-color="#5341ac"/><stop offset="0.453" stop-color="#5b3da8"/><stop offset="1.000" stop-color="#5f3aa5"/></linearGradient>
<linearGradient id="h0_6"><stop offset="0.000" stop-color="#3753bc"/><stop offset="0.100" stop-color="#3753bc"/><stop offset="0.104" stop-color="#325cc0"/><stop offset="0.109" stop-color="#296dc7"/><stop offset="0.113" stop-color="#2495bb"/><stop offset="0.118" stop-color="#2da56f"/><stop offset="0.122" stop-color="#82bd36"/><stop offset="0.127" stop-color="#d8d92f"/><stop offset="0.132" stop-color="#f9da2c"/><stop offset="0.136" stop-color="#f7be2a"/><stop offset="0.141" stop-color="#f6a929"/><stop offset="0.145" stop-color="#f59d28"/><stop offset="0.150" stop-color="#f6a329"/><stop offset="0.159" stop-color="#f8ca2b"/><stop offset="0.164" stop-color="#fae32d"/><stop offset="0.168" stop-color="#d8d92f"/><stop offset="0.173" stop-color="#a3c733"/><stop offset="0.178" stop-color="#42ab43"/><stop offset="0.182" stop-color="#2aa287"/><stop offset="0.187" stop-color="#2495bb"/><stop offset="0.191" stop-color="#267fc3"/><stop offset="0.196" stop-color="#286fc8"/><stop offset="0.205" stop-color="#2d65c4"/><stop offset="0.237" stop-color="#3852bc"/><stop offset="0.260" stop-color="#5640aa"/><stop offset="0.269" stop-color="#5c3ca6"/><stop offset="0.407" stop-color="#6139a4"/><stop offset="1.000" stop-color="#6437a1"/></linearGradient>
<linearGradient id="h0_7"><stop offset="0.000" stop-color="#3753bc"/><stop offset="0.100" stop-color="#3753bc"/><stop offset="0.104" stop-color="#3060c2"/><stop offset="0.109" stop-color="#2776c6"/><stop offset="0.113" stop-color="#249cb0"/><stop offset="0.118" stop-color="#33a763"/><stop offset="0.122" stop-color="#86be36"/><stop offset="0.127" stop-color="#d0d630"/><stop offset="0.132" stop-color="#f7e52d"/><stop offset="0.136" stop-color="#f9d02c"/><stop offset="0.141" stop-color="#f8bf2b"/><stop offset="0.145" stop-color="#f7b52a"/><stop offset="0.150" stop-color="#f7ba2a"/><stop offset="0.159" stop-color="#f9db2c"/><stop offset="0.164" stop-color="#efe22e"/><stop offset="0.168" stop-color="#cfd630"/><stop offset="0.173" stop-color="#a2c633"/><stop offset="0.178" stop-color="#47ac3c"/><stop offset="0.182" stop-color="#2ca478"/><stop offset="0.187" stop-color="#249cb0"/><stop offset="0.191" stop-color="#258bbf"/><stop offset="0.201" stop-color="#296ec7"/><stop offset="0.237" stop-color="#3653bc"/><stop offset="0.260" stop-color="#5b3ca7"/><stop offset="0.269" stop-color="#6536a0"/><stop offset="1.000" stop-color="#68349d"/></linearGradient>
<linearGradient id="h0_8"><stop offset="0.000" stop-color="#3753bc"/><stop offset="0.100" stop-color="#3753bc"/><stop offset="0.104" stop-color="#2e64c3"/><stop offset="0.109" stop-color="#2682c2"/><stop offset="0.113" stop-color="#279f9e"/><stop offset="0.118" stop-color="#38a859"/><stop offset="0.122" stop-color="#86be36"/><stop offset="0.127" stop-color="#c6d230"/><stop offset="0.132" stop-color="#e7df2e"/><stop offset="0.136" stop-color="#fae32d"/><stop offset="0.141" stop-color="#f9d52c"/><stop offset="0.145" stop-color="#f8cc2b"/><stop offset="0.150" stop-color="#f9d02c"/><stop offset="0.155" stop-color="#f9dd2c"/><stop offset="0.159" stop-color="#f4e42d"/><stop offset="0.164" stop-color="#e0dc2f"/><stop offset="0.168" stop-color="#c5d231"/><stop offset="0.173" stop-color="#9ec534"/><stop offset="0.178" stop-color="#4faf3b"/><stop offset="0.182" stop-color="#2ea56b"/><stop offset="0.187" stop-color="#279f9e"/><stop offset="0.191" stop-color="#2497bb"/><stop offset="0.201" stop-color="#2778c5"/><stop offset="0.205" stop-color="#296fc7"/><stop offset="0.242" stop-color="#3752bc"/><stop offset="0.260" stop-color="#5e3ba6"/><stop offset="0.269" stop-color="#6c329a"/><stop offset="1.000" stop-color="#6c329a"/></linearGradient>
<linearGradient id="h0_9"><stop offset="0.000" stop-color="#3753bc"/><stop offset="0.100" stop-color="#3753bc"/><stop offset="0.104" stop-color="#2c68c5"/><stop offset="0.109" stop-color="#258bbe"/><stop offset="0.113" stop-color="#28a092"/><stop offset="0.118" stop-color="#3ba953"/><stop offset="0.122" stop-color="#82bd36"/><stop offset="0.127" stop-color="#bbcf31"/><stop offset="0.132" stop-color="#d8d92f"/><stop offset="0.141" stop-color="#f9e62d"/><stop offset="0.145" stop-color="#fae02d"/><stop offset="0.150" stop-color="#fae32d"/><stop offset="0.155" stop-color="#f1e32e"/><stop offset="0.159" stop-color="#e3dd2f"/><stop offset="0.168" stop-color="#bbce31"/><stop offset="0.173" stop-color="#97c334"/><stop offset="0.178" stop-color="#53b03b"/><stop offset="0.182" stop-color="#32a663"/><stop offset="0.187" stop-color="#28a092"/><stop offset="0.191" stop-color="#249cb2"/><stop offset="0.196" stop-color="#248fbd"/><stop offset="0.210" stop-color="#296ec7"/><stop offset="0.246" stop-color="#3a50ba"/><stop offset="0.269" stop-color="#722f96"/><stop offset="1.000" stop-color="#6f3098"/></linearGradient>
<linearGradient id="h0_10"><stop offset="0.000" stop-color="#3753bc"/><stop offset="0.100" stop-color="#3753bc"/><stop offset="0.104" stop-color="#2b6ac6"/><stop offset="0.109" stop-color="#2490bd"/><stop offset="0.113" stop-color="#29a18d"/><stop offset="0.118" stop-color="#3ba952"/><stop offset="0.122" stop-color="#7cbb37"/><stop offset="0.127" stop-color="#b2cb32"/><stop offset="0.132" stop-color="#cbd530"/><stop offset="0.141" stop-color="#eae02e"/><stop offset="0.145" stop-color="#f1e32e"/><stop offset="0.150" stop-color="#ede12e"/><stop offset="0.159" stop-color="#d6d82f"/><stop offset="0.168" stop-color="#b1cb32"/><stop offset="0.173" stop-color="#8fc135"/><stop offset="0.178" stop-color="#50af3b"/><stop offset="0.182" stop-color="#33a761"/><stop offset="0.187" stop-color="#29a18d"/><stop offset="0.191" stop-color="#259dab"/><stop offset="0.196" stop-color="#2494bc"/><stop offset="0.210" stop-color="#2871c8"/><stop offset="0.246" stop-color="#3752bc"/><stop offset="0.260" stop-color="#5c3ca7"/><stop offset="0.269" stop-color="#742d93"/><stop offset="1.000" stop-color="#712f96"/></linearGradient>
<linearGradient id="h0_11"><stop offset="0.000" stop-color="#3753bc"/><stop offset="0.100" stop-color="#3753bc"/><stop offset="0.104" stop-color="#2b69c5"/><stop offset="0.109" stop-color="#248ebd"/><stop offset="0.113" stop-color="#28a091"/><stop offset="0.118" stop-color="#39a857"/><stop offset="0.122" stop-color="#73b938"/><stop offset="0.127" stop-color="#a9c833"/><stop offset="0.132" stop-color="#c3d131"/><stop offset="0.141" stop-color="#e1dd2f"/><stop offset="0.145" stop-color="#e8df2e"/><stop offset="0.150" stop-color="#e4de2e"/><stop offset="0.159" stop-color="#cdd530"/><stop offset="0.164" stop-color="#becf31"/><stop offset="0.168" stop-color="#a8c833"/><stop offset="0.173" stop-color="#85be36"/><stop offset="0.178" stop-color="#48ad3c"/><stop offset="0.182" stop-color="#31a666"/><stop offset="0.187" stop-color="#28a091"/><stop offset="0.191" stop-color="#249cae"/><stop offset="0.196" stop-color="#2492bc"/><stop offset="0.210" stop-color="#2870c8"/><stop offset="0.246" stop-color="#3752bc"/><stop offset="0.260" stop-color="#5d3ba6"/><stop offset="0.269" stop-color="#742d93"/><stop offset="1.000" stop-color="#712f96"/></linearGradient>
<linearGradient id="h0_12"><stop offset="0.000" stop-color="#3753bc"/><stop offset="0.100" stop-color="#3753bc"/><stop offset="0.104" stop-color="#2d67c4"/><stop offset="0.109" stop-color="#2587c0"/><stop offset="0.113" stop-color="#279f9d"/><stop offset="0.118" stop-color="#34a760"/><stop offset="0.122" stop-color="#68b639"/><stop offset="0.127" stop-color="#a1c633"/><stop offset="0.132" stop-color="#bfd031"/><stop offset="0.136" stop-color="#d2d730"/><stop offset="0.141" stop-color="#dfdc2f"/><stop offset="0.145" stop-color="#e7df2e"/><stop offset="0.150" stop-color="#e3dd2f"/><stop offset="0.159" stop-color="#cad430"/><stop offset="0.164" stop-color="#b9ce31"/><stop offset="0.168" stop-color="#a1c633"/><stop offset="0.173" stop-color="#7cbb37"/><stop offset="0.178" stop-color="#43ab43"/><stop offset="0.182" stop-color="#2da570"/><stop offset="0.187" stop-color="#279f9d"/><stop offset="0.191" stop-color="#239ab9"/><stop offset="0.196" stop-color="#258abf"/><stop offset="0.205" stop-color="#2873c7"/><stop offset="0.242" stop-color="#3654bd"/><stop offset="0.246" stop-color="#3c4fb9"/><stop offset="0.269" stop-color="#722f96"/><stop offset="1.000" stop-color="#6f3098"/></linearGradient>
<linearGradient id="h0_13"><stop offset="0.000" stop-color="#3753bc"/><stop offset="0.100" stop-color="#3753bc"/><stop offset="0.104" stop-color="#2f63c3"/><stop offset="0.109" stop-color="#277bc4"/><stop offset="0.113" stop-color="#249caf"/><stop offset="0.118" stop-color="#2da56d"/><stop offset="0.122" stop-color="#5cb23a"/><stop offset="0.127" stop-color="#9dc534"/><stop offset="0.132" stop-color="#bfd031"/><stop offset="0.141" stop-color="#e4de2e"/><stop offset="0.145" stop-color="#ede12e"/><stop offset="0.150" stop-color="#e8df2e"/><stop offset="0.159" stop-color="#cbd530"/><stop offset="0.164" stop-color="#b8cd31"/><stop offset="0.168" stop-color="#9cc534"/><stop offset="0.173" stop-color="#72b938"/><stop offset="0.178" stop-color="#3daa4d"/><stop offset="0.182" stop-color="#2ba37f"/><stop offset="0.187" stop-color="#249caf"/><stop offset="0.191" stop-color="#248fbd"/><stop offset="0.196" stop-color="#267fc3"/><stop offset="0.201" stop-color="#2872c7"/><stop offset="0.205" stop-color="#2a6dc7"/><stop offset="0.242" stop-color="#3951bb"/><stop offset="0.260" stop-color="#5f3aa5"/><stop offset="0.269" stop-color="#6c329a"/><stop offset="1.000" stop-color="#6c329a"/></linearGradient>
<linearGradient id="h0_14"><stop offset="0.000" stop-color="#3753bc"/><stop offset="0.100" stop-color="#3753bc"/><stop offset="0.109" stop-color="#286fc8"/><stop offset="0.113" stop-color="#2495bb"/><stop offset="0.118" stop-color="#2ba37d"/><stop offset="0.122" stop-color="#50af3b"/><stop offset="0.127" stop-color="#9ac434"/><stop offset="0.132" stop-color="#c2d131"/><stop offset="0.136" stop-color="#dbdb2f"/><stop offset="0.141" stop-color="#eee12e"/><stop offset="0.145" stop-color="#f8e52d"/><stop offset="0.150" stop-color="#f3e32d"/><stop offset="0.159" stop-color="#d1d730"/><stop offset="0.164" stop-color="#bace31"/><stop offset="0.168" stop-color="#9ac434"/><stop offset="0.173" stop-color="#69b639"/><stop offset="0.178" stop-color="#38a859"/><stop offset="0.182" stop-color="#28a091"/><stop offset="0.187" stop-color="#2495bb"/><stop offset="0.196" stop-color="#2872c7"/><stop offset="0.201" stop-color="#2a6cc6"/><stop offset="0.237" stop-color="#3752bc"/><stop offset="0.260" stop-color="#5c3ca7"/><stop offset="0.269" stop-color="#6536a0"/><stop offset="1.000" stop-color="#68349d"/></linearGradient>
<linearGradient id="h0_15"><stop offset="0.000" stop-color="#3753bc"/><stop offset="0.100" stop-color="#3753bc"/><stop offset="0.104" stop-color="#325bc0"/><stop offset="0.109" stop-color="#2b6ac6"/><stop offset="0.113" stop-color="#2589bf"/><stop offset="0.118" stop-color="#29a18e"/><stop offset="0.122" stop-color="#45ac3e"/><stop offset="0.127" stop-color="#99c434"/><stop offset="0.132" stop-color="#c7d330"/><stop offset="0.136" stop-color="#e5de2e"/><stop offset="0.141" stop-color="#fae62d"/><stop offset="0.145" stop-color="#f9db2c"/><stop offset="0.150" stop-color="#fae02d"/><stop offset="0.155" stop-color="#ede12e"/><stop offset="0.159" stop-color="#d8d92f"/><stop offset="0.164" stop-color="#bed031"/><stop offset="0.168" stop-color="#98c334"/><stop offset="0.173" stop-color="#60b439"/><stop offset="0.178" stop-color="#32a665"/><stop offset="0.182" stop-color="#269ea3"/><stop offset="0.187" stop-color="#2589bf"/><stop offset="0.191" stop-color="#2776c6"/><stop offset="0.201" stop-color="#2c67c4"/><stop offset="0.237" stop-color="#3951bb"/><stop offset="0.256" stop-color="#5142ad"/><stop offset="0.269" stop-color="#5c3ca6"/><stop offset="0.407" stop-color="#6139a4"/><stop offset="1.000" stop-color="#6437a1"/></linearGradient>
<linearGradient id="h0_16"><stop offset="0.000" stop-color="#3753bc"/><stop offset="0.100" stop-color="#3753bc"/><stop offset="0.104" stop-color="#3459bf"/><stop offset="0.109" stop-color="#2d66c4"/><stop offset="0.113" stop-color="#267ec3"/><stop offset="0.118" stop-color="#279f9d"/><stop offset="0.122" stop-color="#42ab45"/><stop offset="0.127" stop-color="#98c334"/><stop offset="0.132" stop-color="#cdd530"/><stop offset="0.136" stop-color="#efe22e"/><stop offset="0.141" stop-color="#f9da2c"/><stop offset="0.145" stop-color="#f8cd2b"/><stop offset="0.150" stop-color="#f9d32c"/><stop offset="0.155" stop-color="#f9e62d"/><stop offset="0.159" stop-color="#e0dc2f"/><stop offset="0.164" stop-color="#c2d131"/><stop offset="0.168" stop-color="#97c334"/><stop offset="0.173" stop-color="#58b13a"/><stop offset="0.178" stop-color="#2da570"/><stop offset="0.182" stop-color="#249cb4"/><stop offset="0.187" stop-color="#267ec3"/><stop offset="0.191" stop-color="#296ec7"/><stop offset="0.201" stop-color="#2e63c3"/><stop offset="0.233" stop-color="#3753bc"/><stop offset="0.260" stop-color="#4f44ae"/><stop offset="0.269" stop-color="#5341ac"/><stop offset="0.453" stop-color="#5b3da8"/><stop offset="1.000" stop-color="#5f3aa5"/></linearGradient>
<linearGradient id="h0_17"><stop offset="0.000" stop-color="#3753bc"/><stop offset="0.100" stop-color="#3753bc"/><stop offset="0.104" stop-color="#3457be"/><stop offset="0.109" stop-color="#2e63c3"/><stop offset="0.113" stop-color="#2776c6"/><stop offset="0.118" stop-color="#259da9"/><stop offset="0.122" stop-color="#3faa4b"/><stop offset="0.127" stop-color="#97c334"/><stop offset="0.132" stop-color="#d2d730"/><stop offset="0.136" stop-color="#f9e52d"/><stop offset="0.141" stop-color="#f9cf2c"/><stop offset="0.145" stop-color="#f8c12b"/><stop offset="0.150" stop-color="#f8c82b"/><stop offset="0.155" stop-color="#fade2d"/><stop offset="0.159" stop-color="#e8df2e"/><stop offset="0.164" stop-color="#c6d230"/><stop offset="0.168" stop-color="#97c334"/><stop offset="0.173" stop-color="#51af3b"/><stop offset="0.178" stop-color="#2ba37a"/><stop offset="0.182" stop-color="#2496bb"/><stop offset="0.187" stop-color="#2776c6"/><stop offset="0.196" stop-color="#2e65c4"/><stop offset="0.210" stop-color="#335bc0"/><stop offset="0.237" stop-color="#3851bb"/><stop offset="0.269" stop-color="#4b46b1"/><stop offset="0.499" stop-color="#5640aa"/><stop offset="1.000" stop-color="#5b3ca7"/></linearGradient>
<linearGradient id="h0_18"><stop offset="0.000" stop-color="#3753bc"/><stop offset="0.100" stop-color="#3753bc"/><stop offset="0.104" stop-color="#3556be"/><stop offset="0.113" stop-color="#2870c8"/><stop offset="0.118" stop-color="#249cb2"/><stop offset="0.122" stop-color="#3ca94f"/><stop offset="0.127" stop-color="#97c334"/><stop offset="0.132" stop-color="#d5d82f"/><stop offset="0.136" stop-color="#fae12d"/><stop offset="0.141" stop-color="#f8c72b"/><stop offset="0.145" stop-color="#f7b72a"/><stop offset="0.150" stop-color="#f8bf2b"/><stop offset="0.155" stop-color="#f9d72c"/><stop offset="0.159" stop-color="#ede12e"/><stop offset="0.164" stop-color="#c8d330"/><stop offset="0.168" stop-color="#96c334"/><stop offset="0.173" stop-color="#4cae3b"/><stop offset="0.178" stop-color="#2aa281"/><stop offset="0.182" stop-color="#2491bc"/><stop offset="0.187" stop-color="#2870c8"/><stop offset="0.201" stop-color="#315fc1"/><stop offset="0.237" stop-color="#3752bc"/><stop offset="0.265" stop-color="#444ab5"/><stop offset="0.384" stop-color="#4d45b0"/><stop offset="0.545" stop-color="#5341ac"/><stop offset="1.000" stop-color="#583ea9"/></linearGradient>
<linearGradient id="h0_19"><stop offset="0.000" stop-color="#3753bc"/><stop offset="0.100" stop-color="#3753bc"/><stop offset="0.104" stop-color="#3556be"/><stop offset="0.113" stop-color="#296fc8"/><stop offset="0.118" stop-color="#239bb7"/><stop offset="0.122" stop-color="#3ba952"/><stop offset="0.127" stop-color="#96c334"/><stop offset="0.132" stop-color="#d7d92f"/><stop offset="0.136" stop-color="#fadf2d"/><stop offset="0.141" stop-color="#f8c32b"/><stop offset="0.145" stop-color="#f7b32a"/><stop offset="0.150" stop-color="#f7bb2a"/><stop offset="0.155" stop-color="#f9d42c"/><stop offset="0.159" stop-color="#f0e22e"/><stop offset="0.164" stop-color="#c9d430"/><stop offset="0.168" stop-color="#95c334"/><stop offset="0.173" stop-color="#49ad3c"/><stop offset="0.178" stop-color="#2aa285"/><stop offset="0.182" stop-color="#248ebd"/><stop offset="0.187" stop-color="#296fc8"/><stop offset="0.201" stop-color="#315ec1"/><stop offset="0.219" stop-color="#3556be"/><stop offset="0.242" stop-color="#3752bc"/><stop offset="0.265" stop-color="#404cb7"/><stop offset="0.361" stop-color="#4947b2"/><stop offset="0.591" stop-color="#5242ad"/><stop offset="1.000" stop-color="#5640aa"/></linearGradient>
<linearGradient id="h0_20"><stop offset="0.000" stop-color="#3753bc"/><stop offset="0.100" stop-color="#3753bc"/><stop offset="0.104" stop-color="#3556be"/><stop offset="0.113" stop-color="#296fc8"/><stop offset="0.118" stop-color="#239bb7"/><stop offset="0.122" stop-color="#3ba952"/><stop offset="0.127" stop-color="#95c334"/><stop offset="0.132" stop-color="#d6d92f"/><stop offset="0.136" stop-color="#fadf2d"/><stop offset="0.141" stop-color="#f8c42b"/><stop offset="0.145" stop-color="#f7b32a"/><stop offset="0.150" stop-color="#f7bc2a"/><stop offset="0.155" stop-color="#f9d52c"/><stop offset="0.159" stop-color="#efe22e"/><stop offset="0.164" stop-color="#c9d430"/><stop offset="0.168" stop-color="#94c235"/><stop offset="0.173" stop-color="#48ad3c"/><stop offset="0.178" stop-color="#2aa286"/><stop offset="0.182" stop-color="#258ebe"/><stop offset="0.187" stop-color="#296fc8"/><stop offset="0.201" stop-color="#315ec1"/><stop offset="0.219" stop-color="#3556be"/><stop offset="0.242" stop-color="#3752bc"/><stop offset="0.265" stop-color="#404cb7"/><stop offset="0.361" stop-color="#4947b2"/><stop offset="0.591" stop-color="#5242ad"/><stop offset="1.000" stop-color="#5640aa"/></linearGradient>
<linearGradient id="h0_21"><stop offset="0.000" stop-color="#3753bc"/><stop offset="0.100" stop-color="#3753bc"/><stop offset="0.104" stop-color="#3556be"/><stop offset="0.113" stop-color="#2870c8"/><stop offset="0.118" stop-color="#249cb3"/><stop offset="0.122" stop-color="#3ca950"/><stop offset="0.127" stop-color="#94c235"/><stop offset="0.132" stop-color="#d3d830"/><stop offset="0.136" stop-color="#fae32d"/><stop offset="0.141" stop-color="#f8c92b"/><stop offset="0.145" stop-color="#f7b92a"/><stop offset="0.150" stop-color="#f8c12b"/><stop offset="0.155" stop-color="#f9d92c"/><stop offset="0.159" stop-color="#ebe02e"/><stop offset="0.164" stop-color="#c6d330"/><stop offset="0.168" stop-color="#94c235"/><stop offset="0.173" stop-color="#4aad3c"/><stop offset="0.178" stop-color="#2aa282"/><stop offset="0.182" stop-color="#2491bd"/><stop offset="0.187" stop-color="#2870c8"/><stop offset="0.201" stop-color="#315fc1"/><stop offset="0.237" stop-color="#3752bc"/><stop offset="0.265" stop-color="#444ab5"/><stop offset="0.384" stop-color="#4d45b0"/><stop offset="0.545" stop-color="#5341ac"/><stop offset="1.000" stop-color="#583ea9"/></linearGradient>
<linearGradient id="h0_22"><stop offset="0.000" stop-color="#3753bc"/><stop offset="0.100" stop-color="#3753bc"/><stop offset="0.104" stop-color="#3457be"/><stop offset="0.109" stop-color="#2e63c3"/><stop offset="0.113" stop-color="#2775c6"/><stop offset="0.118" stop-color="#259daa"/><stop offset="0.122" stop-color="#3eaa4d"/><stop offset="0.127" stop-color="#94c235"/><stop offset="0.132" stop-color="#ced630"/><stop offset="0.136" stop-color="#f5e42d"/><stop offset="0.145" stop-color="#f8c42b"/><stop offset="0.150" stop-color="#f8cb2b"/><stop offset="0.155" stop-color="#fae12d"/><stop offset="0.159" stop-color="#e4de2e"/><stop offset="0.164" stop-color="#c2d131"/><stop offset="0.168" stop-color="#93c235"/><stop offset="0.173" stop-color="#4eae3b"/><stop offset="0.178" stop-color="#2ba37c"/><stop offset="0.182" stop-color="#2496bb"/><stop offset="0.187" stop-color="#2775c6"/><stop offset="0.196" stop-color="#2e65c3"/><stop offset="0.205" stop-color="#315dc1"/><stop offset="0.237" stop-color="#3851bb"/><stop offset="0.269" stop-color="#4b46b1"/><stop offset="0.499" stop-color="#5640aa"/><stop offset="1.000" stop-color="#5b3ca7"/></linearGradient>
<linearGradient id="h0_23"><stop offset="0.000" stop-color="#3753bc"/><stop offset="0.100" stop-color="#3753bc"/><stop offset="0.104" stop-color="#3459bf"/><stop offset="0.109" stop-color="#2d66c4"/><stop offset="0.113" stop-color="#267ec3"/><stop offset="0.118" stop-color="#279f9f"/><stop offset="0.122" stop-color="#40aa47"/><stop offset="0.127" stop-color="#93c235"/><stop offset="0.132" stop-color="#c8d330"/><stop offset="0.136" stop-color="#eae02e"/><stop offset="0.141" stop-color="#fade2d"/><stop offset="0.145" stop-color="#f9d12c"/><stop offset="0.155" stop-color="#f4e42d"/><stop offset="0.159" stop-color="#dcdb2f"/><stop offset="0.164" stop-color="#bdcf31"/><stop offset="0.168" stop-color="#92c235"/><stop offset="0.173" stop-color="#54b03b"/><stop offset="0.178" stop-color="#2ca473"/><stop offset="0.182" stop-color="#239bb5"/><stop offset="0.187" stop-color="#267ec3"/><stop offset="0.191" stop-color="#296ec7"/><stop offset="0.201" stop-color="#2e63c3"/><stop offset="0.233" stop-color="#3753bc"/><stop offset="0.260" stop-color="#4f44ae"/><stop offset="0.269" stop-color="#5341ac"/><stop offset="0.453" stop-color="#5b3da8"/><stop offset="1.000" stop-color="#5f3aa5"/></linearGradient>
<linearGradient id="h0_24"><stop offset="0.000" stop-color="#3753bc"/><stop offset="0.100" stop-color="#3753bc"/><stop offset="0.104" stop-color="#325bc0"/><stop offset="0.109" stop-color="#2b6ac6"/><stop offset="0.113" stop-color="#2588c0"/><stop offset="0.118" stop-color="#28a090"/><stop offset="0.122" stop-color="#43ab41"/><stop offset="0.127" stop-color="#92c235"/><stop offset="0.132" stop-color="#c1d131"/><stop offset="0.136" stop-color="#dfdc2f"/><stop offset="0.141" stop-color="#f4e42d"/><stop offset="0.145" stop-color="#fae02d"/><stop offset="0.150" stop-color="#fae52d"/><stop offset="0.159" stop-color="#d2d730"/><stop offset="0.164" stop-color="#b8cd31"/><stop offset="0.168" stop-color="#92c235"/><stop offset="0.173" stop-color="#5bb23a"/><stop offset="0.178" stop-color="#30a668"/><stop offset="0.182" stop-color="#269ea5"/><stop offset="0.187" stop-color="#2588c0"/><stop offset="0.191" stop-color="#2775c6"/><stop offset="0.201" stop-color="#2d67c4"/><stop offset="0.233" stop-color="#3653bc"/><stop offset="0.260" stop-color="#563faa"/><stop offset="0.269" stop-color="#5c3ca6"/><stop offset="0.407" stop-color="#6139a4"/><stop offset="1.000" stop-color="#6437a1"/></linearGradient>
<linearGradient id="h0_25"><stop offset="0.000" stop-color="#3753bc"/><stop offset="0.100" stop-color="#3753bc"/><stop offset="0.104" stop-color="#315ec1"/><stop offset="0.109" stop-color="#286fc8"/><stop offset="0.113" stop-color="#2493bc"/><stop offset="0.118" stop-color="#2ba381"/><stop offset="0.122" stop-color="#49ad3c"/><stop offset="0.127" stop-color="#92c235"/><stop offset="0.132" stop-color="#bbcf31"/><stop offset="0.136" stop-color="#d4d830"/><stop offset="0.141" stop-color="#e6df2e"/><stop offset="0.145" stop-color="#f1e32e"/><stop offset="0.150" stop-color="#ece12e"/><stop offset="0.159" stop-color="#cad430"/><stop offset="0.164" stop-color="#b4cc32"/><stop offset="0.168" stop-color="#92c235"/><stop offset="0.173" stop-color="#62b439"/><stop offset="0.178" stop-color="#36a75d"/><stop offset="0.182" stop-color="#28a094"/><stop offset="0.187" stop-color="#2493bc"/><stop offset="0.196" stop-color="#2871c8"/><stop offset="0.214" stop-color="#3060c2"/><stop offset="0.237" stop-color="#3752bc"/><stop offset="0.260" stop-color="#5c3ca7"/><stop offset="0.269" stop-color="#6536a0"/><stop offset="1.000" stop-color="#68349d"/></linearGradient>
<linearGradient id="h0_26"><stop offset="0.000" stop-color="#3753bc"/><stop offset="0.100" stop-color="#3753bc"/><stop offset="0.104" stop-color="#2f62c3"/><stop offset="0.109" stop-color="#277ac4"/><stop offset="0.113" stop-color="#249cb2"/><stop offset="0.118" stop-color="#2da571"/><stop offset="0.122" stop-color="#54b03b"/><stop offset="0.127" stop-color="#94c235"/><stop offset="0.132" stop-color="#b8cd31"/><stop offset="0.136" stop-color="#cdd530"/><stop offset="0.141" stop-color="#dcdb2f"/><stop offset="0.145" stop-color="#e5de2e"/><stop offset="0.150" stop-color="#e0dc2f"/><stop offset="0.159" stop-color="#c4d231"/><stop offset="0.164" stop-color="#b1cb32"/><stop offset="0.168" stop-color="#93c235"/><stop offset="0.173" stop-color="#6ab639"/><stop offset="0.178" stop-color="#3ba952"/><stop offset="0.182" stop-color="#2aa283"/><stop offset="0.187" stop-color="#249cb2"/><stop offset="0.191" stop-color="#258dbe"/><stop offset="0.201" stop-color="#2871c8"/><stop offset="0.242" stop-color="#3951bb"/><stop offset="0.260" stop-color="#5f3aa5"/><stop offset="0.269" stop-color="#6c329a"/><stop offset="1.000" stop-color="#6c329a"/></linearGradient>
<linearGradient id="h0_27"><stop offset="0.000" stop-color="#3753bc"/><stop offset="0.100" stop-color="#3753bc"/><stop offset="0.104" stop-color="#2d66c4"/><stop offset="0.109" stop-color="#2685c1"/><stop offset="0.113" stop-color="#269ea0"/><stop offset="0.118" stop-color="#32a664"/><stop offset="0.122" stop-color="#5fb33a"/><stop offset="0.127" stop-color="#98c334"/><stop offset="0.132" stop-color="#b7cd31"/><stop offset="0.141" stop-color="#d6d92f"/><stop offset="0.145" stop-color="#dedc2f"/><stop offset="0.150" stop-color="#dada2f"/><stop offset="0.159" stop-color="#c2d131"/><stop offset="0.164" stop-color="#b1cb32"/><stop offset="0.168" stop-color="#97c334"/><stop offset="0.173" stop-color="#73b938"/><stop offset="0.178" stop-color="#40aa48"/><stop offset="0.182" stop-color="#2ca474"/><stop offset="0.187" stop-color="#269ea0"/><stop offset="0.191" stop-color="#2398ba"/><stop offset="0.201" stop-color="#277cc4"/><stop offset="0.205" stop-color="#2872c7"/><stop offset="0.242" stop-color="#3654bd"/><stop offset="0.246" stop-color="#3c4fb9"/><stop offset="0.269" stop-color="#722f96"/><stop offset="1.000" stop-color="#6f3098"/></linearGradient>
<linearGradient id="h0_28"><stop offset="0.000" stop-color="#3753bc"/><stop offset="0.100" stop-color="#3753bc"/><stop offset="0.104" stop-color="#2b69c5"/><stop offset="0.109" stop-color="#258dbe"/><stop offset="0.113" stop-color="#28a094"/><stop offset="0.118" stop-color="#36a85b"/><stop offset="0.122" stop-color="#6ab639"/><stop offset="0.127" stop-color="#9fc534"/><stop offset="0.132" stop-color="#bbce31"/><stop offset="0.141" stop-color="#d8d92f"/><stop offset="0.145" stop-color="#dfdc2f"/><stop offset="0.150" stop-color="#dcdb2f"/><stop offset="0.159" stop-color="#c5d231"/><stop offset="0.164" stop-color="#b5cc32"/><stop offset="0.168" stop-color="#9ec534"/><stop offset="0.173" stop-color="#7cbb37"/><stop offset="0.178" stop-color="#44ab40"/><stop offset="0.182" stop-color="#2fa66a"/><stop offset="0.187" stop-color="#28a094"/><stop offset="0.191" stop-color="#249cb2"/><stop offset="0.196" stop-color="#2490bd"/><stop offset="0.210" stop-color="#286fc8"/><stop offset="0.246" stop-color="#3752bc"/><stop offset="0.260" stop-color="#5d3ba6"/><stop offset="0.269" stop-color="#742d93"/><stop offset="1.000" stop-color="#712f96"/></linearGradient>
<linearGradient id="h0_29"><stop offset="0.000" stop-color="#3753bc"/><stop offset="0.100" stop-color="#3753bc"/><stop offset="0.104" stop-color="#2b69c5"/><stop offset="0.109" stop-color="#248ebd"/><stop offset="0.113" stop-color="#28a091"/><stop offset="0.118" stop-color="#39a857"/><stop offset="0.122" stop-color="#73b938"/><stop offset="0.127" stop-color="#a9c833"/><stop offset="0.132" stop-color="#c3d131"/><stop offset="0.141" stop-color="#e1dd2f"/><stop offset="0.145" stop-color="#e8df2e"/><stop offset="0.150" stop-color="#e4de2e"/><stop offset="0.159" stop-color="#cdd530"/><stop offset="0.164" stop-color="#becf31"/><stop offset="0.168" stop-color="#a8c833"/><stop offset="0.173" stop-color="#85be36"/><stop offset="0.178" stop-color="#48ad3c"/><stop offset="0.182" stop-color="#31a666"/><stop offset="0.187" stop-color="#28a091"/><stop offset="0.191" stop-color="#249cae"/><stop offset="0.196" stop-color="#2492bc"/><stop offset="0.210" stop-color="#2870c8"/><stop offset="0.246" stop-color="#3752bc"/><stop offset="0.260" stop-color="#5d3ba6"/><stop offset="0.269" stop-color="#742d93"/><stop offset="1.000" stop-color="#712f96"/></linearGradient>
<linearGradient id="h0_30"><stop offset="0.000" stop-color="#3753bc"/><stop offset="0.100" stop-color="#3753bc"/><stop offset="0.104" stop-color="#2c67c5"/><stop offset="0.109" stop-color="#258abf"/><stop offset="0.113" stop-color="#28a095"/><stop offset="0.118" stop-color="#38a857"/><stop offset="0.122" stop-color="#7abb37"/><stop offset="0.127" stop-color="#b4cc32"/><stop offset="0.132" stop-color="#d0d630"/><stop offset="0.141" stop-color="#f1e32e"/><stop offset="0.145" stop-color="#f9e62d"/><stop offset="0.150" stop-color="#f5e42d"/><stop offset="0.159" stop-color="#dbda2f"/><stop offset="0.168" stop-color="#b3cc32"/><stop offset="0.173" stop-color="#8ec135"/><stop offset="0.178" stop-color="#4bad3c"/><stop offset="0.182" stop-color="#30a668"/><stop offset="0.187" stop-color="#28a095"/><stop offset="0.191" stop-color="#249cb5"/><stop offset="0.196" stop-color="#258ebe"/><stop offset="0.205" stop-color="#2775c6"/><stop offset="0.210" stop-color="#296ec7"/><stop offset="0.242" stop-color="#3654bd"/><stop offset="0.246" stop-color="#3b50ba"/><stop offset="0.269" stop-color="#722f96"/><stop offset="1.000" stop-color="#6f3098"/></linearGradient>
<linearGradient id="h0_31"><stop offset="0.000" stop-color="#3753bc"/><stop offset="0.100" stop-color="#3753bc"/><stop offset="0.104" stop-color="#2e64c3"/><stop offset="0.109" stop-color="#2681c2"/><stop offset="0.113" stop-color="#269ea2"/><stop offset="0.118" stop-color="#36a75d"/><stop offset="0.122" stop-color="#7ebc37"/><stop offset="0.127" stop-color="#bfd031"/><stop offset="0.132" stop-color="#dfdc2f"/><stop offset="0.136" stop-color="#f6e52d"/><stop offset="0.145" stop-color="#f9d32c"/><stop offset="0.150" stop-color="#f9d72c"/><stop offset="0.155" stop-color="#fae42d"/><stop offset="0.159" stop-color="#ece12e"/><stop offset="0.164" stop-color="#d8d92f"/><stop offset="0.168" stop-color="#bed031"/><stop offset="0.173" stop-color="#96c334"/><stop offset="0.178" stop-color="#48ad3c"/><stop offset="0.182" stop-color="#2da56f"/><stop offset="0.187" stop-color="#269ea2"/><stop offset="0.191" stop-color="#2495bb"/><stop offset="0.201" stop-color="#2777c5"/><stop offset="0.205" stop-color="#296ec7"/><stop offset="0.242" stop-color="#3752bc"/><stop offset="0.260" stop-color="#5e3ba6"/><stop offset="0.269" stop-color="#6c329a"/><stop offset="1.000" stop-color="#6c329a"/></linearGradient>
<linearGradient id="h0_32"><stop offset="0.000" stop-color="#3753bc"/><stop offset="0.100" stop-color="#3753bc"/><stop offset="0.104" stop-color="#3060c1"/><stop offset="0.109" stop-color="#2775c6"/><stop offset="0.113" stop-color="#249cb3"/><stop offset="0.118" stop-color="#31a666"/><stop offset="0.122" stop-color="#7fbc37"/><stop offset="0.127" stop-color="#c9d430"/><stop offset="0.132" stop-color="#f1e32e"/><stop offset="0.136" stop-color="#f9d62c"/><stop offset="0.141" stop-color="#f8c52b"/><stop offset="0.145" stop-color="#f7bc2a"/><stop offset="0.150" stop-color="#f8c02b"/><stop offset="0.159" stop-color="#fae02d"/><stop offset="0.164" stop-color="#e8df2e"/><stop offset="0.168" stop-color="#c9d430"/><stop offset="0.173" stop-color="#9bc434"/><stop offset="0.178" stop-color="#44ac3f"/><stop offset="0.182" stop-color="#2ba37b"/><stop offset="0.187" stop-color="#249cb3"/><stop offset="0.191" stop-color="#258abf"/><stop offset="0.196" stop-color="#2779c5"/><stop offset="0.201" stop-color="#296ec7"/><stop offset="0.237" stop-color="#3753bc"/><stop offset="0.260" stop-color="#5b3ca7"/><stop offset="0.269" stop-color="#6536a0"/><stop offset="1.000" stop-color="#68349d"/></linearGradient>
<linearGradient id="h0_33"><stop offset="0.000" stop-color="#3753bc"/><stop offset="0.100" stop-color="#3753bc"/><stop offset="0.104" stop-color="#325cc0"/><stop offset="0.109" stop-color="#296dc7"/><stop offset="0.113" stop-color="#2494bc"/><stop offset="0.118" stop-color="#2ca472"/><stop offset="0.122" stop-color="#7dbc37"/><stop offset="0.127" stop-color="#d3d730"/><stop offset="0.132" stop-color="#fadf2d"/><stop offset="0.136" stop-color="#f8c32b"/><stop offset="0.141" stop-color="#f7ae2a"/><stop offset="0.145" stop-color="#f6a229"/><stop offset="0.150" stop-color="#f6a829"/><stop offset="0.164" stop-color="#f8e52d"/><stop offset="0.168" stop-color="#d3d730"/><stop offset="0.173" stop-color="#9dc534"/><stop offset="0.178" stop-color="#41ab46"/><stop offset="0.182" stop-color="#29a18a"/><stop offset="0.187" stop-color="#2494bc"/><stop offset="0.191" stop-color="#267ec3"/><stop offset="0.196" stop-color="#296fc8"/><stop offset="0.201" stop-color="#2b69c5"/><stop offset="0.219" stop-color="#325bc0"/><stop offset="0.237" stop-color="#3852bc"/><stop offset="0.260" stop-color="#5640aa"/><stop offset="0.269" stop-color="#5c3ca6"/><stop offset="0.407" stop-color="#6139a4"/><stop offset="1.000" stop-color="#6437a1"/></linearGradient>
<linearGradient id="h0_34"><stop offset="0.000" stop-color="#3753bc"/><stop offset="0.100" stop-color="#3753bc"/><stop offset="0.104" stop-color="#335abf"/><stop offset="0.109" stop-color="#2b69c5"/><stop offset="0.113" stop-color="#258abf"/><stop offset="0.118" stop-color="#2ba37f"/><stop offset="0.122" stop-color="#79bb37"/><stop offset="0.127" stop-color="#dbda2f"/><stop offset="0.132" stop-color="#f9d22c"/><stop offset="0.136" stop-color="#f7b02a"/><stop offset="0.145" stop-color="#f18427"/><stop offset="0.150" stop-color="#f38e28"/><stop offset="0.159" stop-color="#f8bf2b"/><stop offset="0.164" stop-color="#f9dc2c"/><stop offset="0.168" stop-color="#dbda2f"/><stop offset="0.173" stop-color="#9ec534"/><stop offset="0.178" stop-color="#3da94e"/><stop offset="0.182" stop-color="#279f99"/><stop offset="0.187" stop-color="#258abf"/><stop offset="0.191" stop-color="#2874c7"/><stop offset="0.201" stop-color="#2d66c4"/><stop offset="0.210" stop-color="#315ec1"/><stop offset="0.237" stop-color="#3851bb"/><stop offset="0.256" stop-color="#4b46b1"/><stop offset="0.269" stop-color="#5341ac"/><stop offset="0.453" stop-color="#5b3da8"/><stop offset="1.000" stop-color="#5f3aa5"/></linearGradient>
<linearGradient id="h0_35"><stop offset="0.000" stop-color="#3753bc"/><stop offset="0.100" stop-color="#3753bc"/><stop offset="0.104" stop-color="#3458be"/><stop offset="0.109" stop-color="#2d66c4"/><stop offset="0.113" stop-color="#2681c2"/><stop offset="0.118" stop-color="#29a18a"/><stop offset="0.122" stop-color="#74b938"/><stop offset="0.127" stop-color="#e1dd2f"/><stop offset="0.132" stop-color="#f8c72b"/><stop offset="0.136" stop-color="#f6a129"/><stop offset="0.141" stop-color="#ef7d27"/><stop offset="0.145" stop-color="#e96526"/><stop offset="0.150" stop-color="#ec7126"/><stop offset="0.155" stop-color="#f59628"/><stop offset="0.159" stop-color="#f7b12a"/><stop offset="0.164" stop-color="#f9d32c"/><stop offset="0.168" stop-color="#e0dc2f"/><stop offset="0.173" stop-color="#9dc534"/><stop offset="0.178" stop-color="#39a855"/><stop offset="0.182" stop-color="#269ea5"/><stop offset="0.187" stop-color="#2681c2"/><stop offset="0.191" stop-color="#296ec7"/><stop offset="0.196" stop-color="#2c67c5"/><stop offset="0.210" stop-color="#325cc0"/><stop offset="0.237" stop-color="#3752bc"/><stop offset="0.256" stop-color="#454ab4"/><stop offset="0.269" stop-color="#4b46b1"/><stop offset="0.499" stop-color="#5640aa"/><stop offset="1.000" stop-color="#5b3ca7"/></linearGradient>
</defs>
<rect x="160.5" y="54.00" width="132.9" height="3.13" fill="url(#h0_0)" shape-rendering="crispEdges"/>
<rect x="160.5" y="56.52" width="132.9" height="3.13" fill="url(#h0_1)" shape-rendering="crispEdges"/>
<rect x="160.5" y="59.05" width="132.9" height="3.13" fill="url(#h0_2)" shape-rendering="crispEdges"/>
<rect x="160.5" y="61.58" width="132.9" height="3.13" fill="url(#h0_3)" shape-rendering="crispEdges"/>
<rect x="160.5" y="64.10" width="132.9" height="3.13" fill="url(#h0_4)" shape-rendering="crispEdges"/>
<rect x="160.5" y="66.62" width="132.9" height="3.13" fill="url(#h0_5)" shape-rendering="crispEdges"/>
<rect x="160.5" y="69.15" width="132.9" height="3.13" fill="url(#h0_6)" shape-rendering="crispEdges"/>
<rect x="160.5" y="71.68" width="132.9" height="3.13" fill="url(#h0_7)" shape-rendering="crispEdges"/>
<rect x="160.5" y="74.20" width="132.9" height="3.13" fill="url(#h0_8)" shape-rendering="crispEdges"/>
<rect x="160.5" y="76.72" width="132.9" height="3.13" fill="url(#h0_9)" shape-rendering="crispEdges"/>
<rect x="160.5" y="79.25" width="132.9" height="3.13" fill="url(#h0_10)" shape-rendering="crispEdges"/>
<rect x="160.5" y="81.78" width="132.9" height="3.13" fill="url(#h0_11)" shape-rendering="crispEdges"/>
<rect x="160.5" y="84.30" width="132.9" height="3.13" fill="url(#h0_12)" shape-rendering="crispEdges"/>
<rect x="160.5" y="86.83" width="132.9" height="3.13" fill="url(#h0_13)" shape-rendering="crispEdges"/>
<rect x="160.5" y="89.35" width="132.9" height="3.13" fill="url(#h0_14)" shape-rendering="crispEdges"/>
<rect x="160.5" y="91.88" width="132.9" height="3.13" fill="url(#h0_15)" shape-rendering="crispEdges"/>
<rect x="160.5" y="94.40" width="132.9" height="3.13" fill="url(#h0_16)" shape-rendering="crispEdges"/>
<rect x="160.5" y="96.93" width="132.9" height="3.13" fill="url(#h0_17)" shape-rendering="crispEdges"/>
<rect x="160.5" y="99.45" width="132.9" height="3.13" fill="url(#h0_18)" shape-rendering="crispEdges"/>
<rect x="160.5" y="101.98" width="132.9" height="3.13" fill="url(#h0_19)" shape-rendering="crispEdges"/>
<rect x="160.5" y="104.50" width="132.9" height="3.13" fill="url(#h0_20)" shape-rendering="crispEdges"/>
<rect x="160.5" y="107.03" width="132.9" height="3.13" fill="url(#h0_21)" shape-rendering="crispEdges"/>
<rect x="160.5" y="109.55" width="132.9" height="3.13" fill="url(#h0_22)" shape-rendering="crispEdges"/>
<rect x="160.5" y="112.08" width="132.9" height="3.13" fill="url(#h0_23)" shape-rendering="crispEdges"/>
<rect x="160.5" y="114.60" width="132.9" height="3.13" fill="url(#h0_24)" shape-rendering="crispEdges"/>
<rect x="160.5" y="117.12" width="132.9" height="3.13" fill="url(#h0_25)" shape-rendering="crispEdges"/>
<rect x="160.5" y="119.65" width="132.9" height="3.13" fill="url(#h0_26)" shape-rendering="crispEdges"/>
<rect x="160.5" y="122.18" width="132.9" height="3.13" fill="url(#h0_27)" shape-rendering="crispEdges"/>
<rect x="160.5" y="124.70" width="132.9" height="3.13" fill="url(#h0_28)" shape-rendering="crispEdges"/>
<rect x="160.5" y="127.23" width="132.9" height="3.13" fill="url(#h0_29)" shape-rendering="crispEdges"/>
<rect x="160.5" y="129.75" width="132.9" height="3.13" fill="url(#h0_30)" shape-rendering="crispEdges"/>
<rect x="160.5" y="132.28" width="132.9" height="3.13" fill="url(#h0_31)" shape-rendering="crispEdges"/>
<rect x="160.5" y="134.80" width="132.9" height="3.13" fill="url(#h0_32)" shape-rendering="crispEdges"/>
<rect x="160.5" y="137.33" width="132.9" height="3.13" fill="url(#h0_33)" shape-rendering="crispEdges"/>
<rect x="160.5" y="139.85" width="132.9" height="3.13" fill="url(#h0_34)" shape-rendering="crispEdges"/>
<rect x="160.5" y="142.38" width="132.9" height="3.13" fill="url(#h0_35)" shape-rendering="crispEdges"/>
<rect x="160.5" y="54.0" width="132.9" height="90.9" fill="none" stroke="#2a2a2a" stroke-width="1.4"/>
<line x1="171.9" y1="144.9" x2="171.9" y2="141.4" stroke="#1c1c1c" stroke-width="1.2"/>
<line x1="171.9" y1="54.0" x2="171.9" y2="57.0" stroke="#1c1c1c" stroke-width="1.2"/>
<line x1="196.3" y1="144.9" x2="196.3" y2="141.4" stroke="#1c1c1c" stroke-width="1.2"/>
<line x1="196.3" y1="54.0" x2="196.3" y2="57.0" stroke="#1c1c1c" stroke-width="1.2"/>
<line x1="220.7" y1="144.9" x2="220.7" y2="141.4" stroke="#1c1c1c" stroke-width="1.2"/>
<line x1="220.7" y1="54.0" x2="220.7" y2="57.0" stroke="#1c1c1c" stroke-width="1.2"/>
<line x1="245.1" y1="144.9" x2="245.1" y2="141.4" stroke="#1c1c1c" stroke-width="1.2"/>
<line x1="245.1" y1="54.0" x2="245.1" y2="57.0" stroke="#1c1c1c" stroke-width="1.2"/>
<line x1="269.5" y1="144.9" x2="269.5" y2="141.4" stroke="#1c1c1c" stroke-width="1.2"/>
<line x1="269.5" y1="54.0" x2="269.5" y2="57.0" stroke="#1c1c1c" stroke-width="1.2"/>
<text transform="translate(157.9 148.0) scale(1.05 1)" font-size="11" text-anchor="end" fill="#1a1a1a" stroke="#1a1a1a" stroke-width="0.22">0</text>
<line x1="160.5" y1="122.2" x2="164.0" y2="122.2" stroke="#1c1c1c" stroke-width="1.2"/>
<line x1="293.4" y1="122.2" x2="289.9" y2="122.2" stroke="#1c1c1c" stroke-width="1.2"/>
<text transform="translate(157.9 125.9) scale(1.05 1)" font-size="11" text-anchor="end" fill="#1a1a1a" stroke="#1a1a1a" stroke-width="0.22">90</text>
<line x1="160.5" y1="99.5" x2="164.0" y2="99.5" stroke="#1c1c1c" stroke-width="1.2"/>
<line x1="293.4" y1="99.5" x2="289.9" y2="99.5" stroke="#1c1c1c" stroke-width="1.2"/>
<text transform="translate(157.9 103.2) scale(1.05 1)" font-size="11" text-anchor="end" fill="#1a1a1a" stroke="#1a1a1a" stroke-width="0.22">180</text>
<line x1="160.5" y1="76.7" x2="164.0" y2="76.7" stroke="#1c1c1c" stroke-width="1.2"/>
<line x1="293.4" y1="76.7" x2="289.9" y2="76.7" stroke="#1c1c1c" stroke-width="1.2"/>
<text transform="translate(157.9 80.4) scale(1.05 1)" font-size="11" text-anchor="end" fill="#1a1a1a" stroke="#1a1a1a" stroke-width="0.22">270</text>
<text transform="translate(157.9 57.7) scale(1.05 1)" font-size="11" text-anchor="end" fill="#1a1a1a" stroke="#1a1a1a" stroke-width="0.22">360</text>
<text transform="translate(171.9 156.2) scale(1.1 1)" font-size="11" text-anchor="middle" fill="#1a1a1a" stroke="#1a1a1a" stroke-width="0.22">0</text>
<text transform="translate(196.3 156.2) scale(1.1 1)" font-size="11" text-anchor="middle" fill="#1a1a1a" stroke="#1a1a1a" stroke-width="0.22">2</text>
<text transform="translate(220.7 156.2) scale(1.1 1)" font-size="11" text-anchor="middle" fill="#1a1a1a" stroke="#1a1a1a" stroke-width="0.22">4</text>
<text transform="translate(245.1 156.2) scale(1.1 1)" font-size="11" text-anchor="middle" fill="#1a1a1a" stroke="#1a1a1a" stroke-width="0.22">6</text>
<text transform="translate(269.5 156.2) scale(1.1 1)" font-size="11" text-anchor="middle" fill="#1a1a1a" stroke="#1a1a1a" stroke-width="0.22">8</text>
<text transform="translate(292.7 156.2) scale(1.1 1)" font-size="11" text-anchor="middle" fill="#1a1a1a" stroke="#1a1a1a" stroke-width="0.22">10</text>
<text transform="translate(234.1 166.1) scale(1.1 1)" font-size="11" text-anchor="middle" fill="#1a1a1a" stroke="#1a1a1a" stroke-width="0.22">Delay time (ps)</text>
<defs>
<linearGradient id="h1_0"><stop offset="0.000" stop-color="#5f3aa5"/><stop offset="0.090" stop-color="#5f3aa5"/><stop offset="0.095" stop-color="#3457be"/><stop offset="0.099" stop-color="#2e63c3"/><stop offset="0.113" stop-color="#296dc7"/><stop offset="0.117" stop-color="#277cc4"/><stop offset="0.122" stop-color="#2399ba"/><stop offset="0.127" stop-color="#3aa954"/><stop offset="0.131" stop-color="#a9c833"/><stop offset="0.136" stop-color="#efe22e"/><stop offset="0.140" stop-color="#f8c52b"/><stop offset="0.145" stop-color="#f6a629"/><stop offset="0.149" stop-color="#f49328"/><stop offset="0.154" stop-color="#f59d28"/><stop offset="0.163" stop-color="#f9d72c"/><stop offset="0.168" stop-color="#eae02e"/><stop offset="0.172" stop-color="#ced530"/><stop offset="0.177" stop-color="#a7c833"/><stop offset="0.182" stop-color="#4bad3c"/><stop offset="0.186" stop-color="#2da570"/><stop offset="0.191" stop-color="#29a18f"/><stop offset="0.195" stop-color="#269ea0"/><stop offset="0.204" stop-color="#239ab9"/><stop offset="0.218" stop-color="#2680c2"/><stop offset="0.232" stop-color="#296fc8"/><stop offset="0.264" stop-color="#2e63c3"/><stop offset="0.342" stop-color="#335abf"/><stop offset="0.456" stop-color="#3852bc"/><stop offset="0.640" stop-color="#4947b2"/><stop offset="1.000" stop-color="#5341ac"/></linearGradient>
<linearGradient id="h1_1"><stop offset="0.000" stop-color="#5f3aa5"/><stop offset="0.090" stop-color="#5f3aa5"/><stop offset="0.095" stop-color="#3557be"/><stop offset="0.099" stop-color="#2f63c3"/><stop offset="0.113" stop-color="#2a6cc7"/><stop offset="0.117" stop-color="#2779c5"/><stop offset="0.122" stop-color="#2496bb"/><stop offset="0.127" stop-color="#3ca94f"/><stop offset="0.131" stop-color="#bccf31"/><stop offset="0.136" stop-color="#f9d82c"/><stop offset="0.140" stop-color="#f6a729"/><stop offset="0.145" stop-color="#ef7c27"/><stop offset="0.149" stop-color="#e75d25"/><stop offset="0.154" stop-color="#eb6d26"/><stop offset="0.159" stop-color="#f59a28"/><stop offset="0.168" stop-color="#f9dd2c"/><stop offset="0.172" stop-color="#e6de2e"/><stop offset="0.177" stop-color="#bdcf31"/><stop offset="0.182" stop-color="#5db23a"/><stop offset="0.186" stop-color="#30a668"/><stop offset="0.191" stop-color="#2aa284"/><stop offset="0.209" stop-color="#249cb5"/><stop offset="0.218" stop-color="#258cbe"/><stop offset="0.241" stop-color="#2870c8"/><stop offset="0.273" stop-color="#2c67c4"/><stop offset="0.319" stop-color="#2f61c2"/><stop offset="0.456" stop-color="#3654bd"/><stop offset="0.640" stop-color="#434bb5"/><stop offset="1.000" stop-color="#4f44ae"/></linearGradient>
<linearGradient id="h1_2"><stop offset="0.000" stop-color="#5f3aa5"/><stop offset="0.090" stop-color="#5f3aa5"/><stop offset="0.095" stop-color="#3556be"/><stop offset="0.099" stop-color="#2f62c2"/><stop offset="0.113" stop-color="#2a6cc6"/><stop offset="0.117" stop-color="#2777c6"/><stop offset="0.122" stop-color="#2494bb"/><stop offset="0.127" stop-color="#3daa4d"/><stop offset="0.131" stop-color="#c7d330"/><stop offset="0.136" stop-color="#f8c92b"/><stop offset="0.140" stop-color="#f49328"/><stop offset="0.145" stop-color="#e75c25"/><stop offset="0.149" stop-color="#df3a24"/><stop offset="0.154" stop-color="#e34b24"/><stop offset="0.159" stop-color="#ef7e27"/><stop offset="0.163" stop-color="#f6ab29"/><stop offset="0.168" stop-color="#f9ce2c"/><stop offset="0.172" stop-color="#f5e42d"/><stop offset="0.177" stop-color="#cad430"/><stop offset="0.182" stop-color="#67b539"/><stop offset="0.186" stop-color="#32a664"/><stop offset="0.191" stop-color="#2ba37d"/><stop offset="0.204" stop-color="#279f9b"/><stop offset="0.214" stop-color="#239bb7"/><stop offset="0.241" stop-color="#2778c5"/><stop offset="0.259" stop-color="#296dc7"/><stop offset="0.365" stop-color="#315ec1"/><stop offset="0.548" stop-color="#3752bc"/><stop offset="0.640" stop-color="#3f4db7"/><stop offset="1.000" stop-color="#4c45b0"/></linearGradient>
<linearGradient id="h1_3"><stop offset="0.000" stop-color="#5f3aa5"/><stop offset="0.090" stop-color="#5f3aa5"/><stop offset="0.095" stop-color="#3556be"/><stop offset="0.099" stop-color="#2f62c2"/><stop offset="0.113" stop-color="#2a6bc6"/><stop offset="0.117" stop-color="#2776c6"/><stop offset="0.122" stop-color="#2493bc"/><stop offset="0.127" stop-color="#3eaa4d"/><stop offset="0.131" stop-color="#cbd530"/><stop offset="0.136" stop-color="#f8c42b"/><stop offset="0.140" stop-color="#f28a27"/><stop offset="0.145" stop-color="#e45125"/><stop offset="0.149" stop-color="#dc2e23"/><stop offset="0.154" stop-color="#e03f24"/><stop offset="0.163" stop-color="#f6a529"/><stop offset="0.168" stop-color="#f8c92b"/><stop offset="0.172" stop-color="#fae62d"/><stop offset="0.177" stop-color="#ced630"/><stop offset="0.182" stop-color="#6bb738"/><stop offset="0.186" stop-color="#33a762"/><stop offset="0.191" stop-color="#2ba37b"/><stop offset="0.204" stop-color="#28a097"/><stop offset="0.214" stop-color="#249cb3"/><stop offset="0.218" stop-color="#2397ba"/><stop offset="0.241" stop-color="#277bc4"/><stop offset="0.259" stop-color="#296ec7"/><stop offset="0.388" stop-color="#325cc0"/><stop offset="0.548" stop-color="#3752bc"/><stop offset="0.640" stop-color="#3f4db8"/><stop offset="1.000" stop-color="#4c45b0"/></linearGradient>
<linearGradient id="h1_4"><stop offset="0.000" stop-color="#5f3aa5"/><stop offset="0.090" stop-color="#5f3aa5"/><stop offset="0.095" stop-color="#3556be"/><stop offset="0.099" stop-color="#2f62c2"/><stop offset="0.113" stop-color="#2a6cc6"/><stop offset="0.117" stop-color="#2777c6"/><stop offset="0.122" stop-color="#2494bb"/><stop offset="0.127" stop-color="#3daa4d"/><stop offset="0.131" stop-color="#c7d330"/><stop offset="0.136" stop-color="#f8c92b"/><stop offset="0.140" stop-color="#f49328"/><stop offset="0.145" stop-color="#e75c25"/><stop offset="0.149" stop-color="#df3a24"/><stop offset="0.154" stop-color="#e34b24"/><stop offset="0.159" stop-color="#ef7e27"/><stop offset="0.163" stop-color="#f6ab29"/><stop offset="0.168" stop-color="#f9ce2c"/><stop offset="0.172" stop-color="#f5e42d"/><stop offset="0.177" stop-color="#cad430"/><stop offset="0.182" stop-color="#67b539"/><stop offset="0.186" stop-color="#32a664"/><stop offset="0.191" stop-color="#2ba37d"/><stop offset="0.204" stop-color="#279f9b"/><stop offset="0.214" stop-color="#239bb8"/><stop offset="0.232" stop-color="#2681c2"/><stop offset="0.250" stop-color="#2870c8"/><stop offset="0.269" stop-color="#2b6ac6"/><stop offset="0.342" stop-color="#3060c2"/><stop offset="0.456" stop-color="#3555bd"/><stop offset="0.685" stop-color="#444ab5"/><stop offset="1.000" stop-color="#4f44ae"/></linearGradient>
<linearGradient id="h1_5"><stop offset="0.000" stop-color="#5f3aa5"/><stop offset="0.090" stop-color="#5f3aa5"/><stop offset="0.095" stop-color="#3557be"/><stop offset="0.099" stop-color="#2f63c3"/><stop offset="0.113" stop-color="#2a6cc7"/><stop offset="0.117" stop-color="#2779c5"/><stop offset="0.122" stop-color="#2496bb"/><stop offset="0.127" stop-color="#3ca94f"/><stop offset="0.131" stop-color="#bccf31"/><stop offset="0.136" stop-color="#f9d82c"/><stop offset="0.140" stop-color="#f6a729"/><stop offset="0.145" stop-color="#ef7c27"/><stop offset="0.149" stop-color="#e75d25"/><stop offset="0.154" stop-color="#eb6d26"/><stop offset="0.159" stop-color="#f59a28"/><stop offset="0.168" stop-color="#f9dd2c"/><stop offset="0.172" stop-color="#e6de2e"/><stop offset="0.177" stop-color="#bdcf31"/><stop offset="0.182" stop-color="#5db23a"/><stop offset="0.186" stop-color="#30a668"/><stop offset="0.191" stop-color="#2aa284"/><stop offset="0.209" stop-color="#239bb6"/><stop offset="0.223" stop-color="#2684c1"/><stop offset="0.241" stop-color="#286fc8"/><stop offset="0.269" stop-color="#2d66c4"/><stop offset="0.342" stop-color="#315dc0"/><stop offset="0.456" stop-color="#3653bc"/><stop offset="0.640" stop-color="#4748b3"/><stop offset="1.000" stop-color="#5341ac"/></linearGradient>
<linearGradient id="h1_6"><stop offset="0.000" stop-color="#5f3aa5"/><stop offset="0.090" stop-color="#5f3aa5"/><stop offset="0.095" stop-color="#3457be"/><stop offset="0.099" stop-color="#2e63c3"/><stop offset="0.113" stop-color="#296dc7"/><stop offset="0.117" stop-color="#277cc4"/><stop offset="0.122" stop-color="#2399ba"/><stop offset="0.127" stop-color="#3aa954"/><stop offset="0.131" stop-color="#a9c833"/><stop offset="0.136" stop-color="#efe22e"/><stop offset="0.140" stop-color="#f8c52b"/><stop offset="0.145" stop-color="#f6a629"/><stop offset="0.149" stop-color="#f49328"/><stop offset="0.154" stop-color="#f59d28"/><stop offset="0.163" stop-color="#f9d72c"/><stop offset="0.168" stop-color="#eae02e"/><stop offset="0.172" stop-color="#ced530"/><stop offset="0.177" stop-color="#a7c833"/><stop offset="0.182" stop-color="#4bad3c"/><stop offset="0.186" stop-color="#2da570"/><stop offset="0.191" stop-color="#29a18f"/><stop offset="0.200" stop-color="#249cae"/><stop offset="0.204" stop-color="#239ab9"/><stop offset="0.214" stop-color="#2587c0"/><stop offset="0.227" stop-color="#2871c8"/><stop offset="0.273" stop-color="#3060c2"/><stop offset="0.411" stop-color="#3752bc"/><stop offset="0.548" stop-color="#4947b2"/><stop offset="0.777" stop-color="#5540ab"/><stop offset="1.000" stop-color="#5a3da8"/></linearGradient>
<linearGradient id="h1_7"><stop offset="0.000" stop-color="#5f3aa5"/><stop offset="0.090" stop-color="#5f3aa5"/><stop offset="0.095" stop-color="#3457be"/><stop offset="0.099" stop-color="#2e64c3"/><stop offset="0.113" stop-color="#296ec7"/><stop offset="0.117" stop-color="#267fc3"/><stop offset="0.122" stop-color="#239bb8"/><stop offset="0.127" stop-color="#37a85b"/><stop offset="0.131" stop-color="#8abf36"/><stop offset="0.136" stop-color="#ccd530"/><stop offset="0.140" stop-color="#f5e42d"/><stop offset="0.149" stop-color="#f8c22b"/><stop offset="0.154" stop-color="#f8c92b"/><stop offset="0.159" stop-color="#fae02d"/><stop offset="0.163" stop-color="#e3de2f"/><stop offset="0.172" stop-color="#aeca32"/><stop offset="0.177" stop-color="#85be36"/><stop offset="0.182" stop-color="#40aa48"/><stop offset="0.186" stop-color="#2ba37b"/><stop offset="0.191" stop-color="#279f9e"/><stop offset="0.195" stop-color="#249cb2"/><stop offset="0.200" stop-color="#2495bb"/><stop offset="0.218" stop-color="#2870c8"/><stop offset="0.250" stop-color="#305fc1"/><stop offset="0.273" stop-color="#3359bf"/><stop offset="0.342" stop-color="#3753bc"/><stop offset="0.456" stop-color="#4b46b0"/><stop offset="0.594" stop-color="#573faa"/><stop offset="1.000" stop-color="#6139a3"/></linearGradient>
<linearGradient id="h1_8"><stop offset="0.000" stop-color="#5f3aa5"/><stop offset="0.090" stop-color="#5f3aa5"/><stop offset="0.095" stop-color="#3458be"/><stop offset="0.099" stop-color="#2e65c4"/><stop offset="0.113" stop-color="#286fc8"/><stop offset="0.117" stop-color="#2681c2"/><stop offset="0.122" stop-color="#249cb5"/><stop offset="0.127" stop-color="#32a665"/><stop offset="0.131" stop-color="#66b539"/><stop offset="0.136" stop-color="#a1c633"/><stop offset="0.140" stop-color="#c5d231"/><stop offset="0.145" stop-color="#dddb2f"/><stop offset="0.149" stop-color="#ebe02e"/><stop offset="0.154" stop-color="#e4de2e"/><stop offset="0.163" stop-color="#b7cd31"/><stop offset="0.172" stop-color="#81bd36"/><stop offset="0.177" stop-color="#5cb23a"/><stop offset="0.182" stop-color="#37a85a"/><stop offset="0.186" stop-color="#29a189"/><stop offset="0.191" stop-color="#249cae"/><stop offset="0.195" stop-color="#2493bc"/><stop offset="0.209" stop-color="#2872c7"/><stop offset="0.241" stop-color="#325bc0"/><stop offset="0.273" stop-color="#3851bb"/><stop offset="0.365" stop-color="#4c45b0"/><stop offset="0.456" stop-color="#593ea9"/><stop offset="0.548" stop-color="#5f3aa5"/><stop offset="1.000" stop-color="#68359e"/></linearGradient>
<linearGradient id="h1_9"><stop offset="0.000" stop-color="#5f3aa5"/><stop offset="0.090" stop-color="#5f3aa5"/><stop offset="0.095" stop-color="#3458be"/><stop offset="0.099" stop-color="#2d65c4"/><stop offset="0.113" stop-color="#2870c8"/><stop offset="0.117" stop-color="#2682c2"/><stop offset="0.122" stop-color="#249cb5"/><stop offset="0.127" stop-color="#2da571"/><stop offset="0.131" stop-color="#44ab40"/><stop offset="0.136" stop-color="#6fb838"/><stop offset="0.140" stop-color="#90c135"/><stop offset="0.145" stop-color="#a7c833"/><stop offset="0.149" stop-color="#b3cc32"/><stop offset="0.154" stop-color="#aeca32"/><stop offset="0.172" stop-color="#52af3b"/><stop offset="0.177" stop-color="#40aa49"/><stop offset="0.182" stop-color="#2da56e"/><stop offset="0.186" stop-color="#279f98"/><stop offset="0.191" stop-color="#2397ba"/><stop offset="0.200" stop-color="#2779c5"/><stop offset="0.204" stop-color="#286fc8"/><stop offset="0.218" stop-color="#2f62c2"/><stop offset="0.246" stop-color="#3753bc"/><stop offset="0.269" stop-color="#4c45b0"/><stop offset="0.365" stop-color="#5d3ba6"/><stop offset="0.456" stop-color="#6537a0"/><stop offset="0.594" stop-color="#6a349c"/><stop offset="1.000" stop-color="#6e3198"/></linearGradient>
<linearGradient id="h1_10"><stop offset="0.000" stop-color="#5f3aa5"/><stop offset="0.090" stop-color="#5f3aa5"/><stop offset="0.095" stop-color="#3458be"/><stop offset="0.099" stop-color="#2e65c4"/><stop offset="0.113" stop-color="#286fc8"/><stop offset="0.117" stop-color="#2682c2"/><stop offset="0.122" stop-color="#239bb8"/><stop offset="0.127" stop-color="#2ba37f"/><stop offset="0.131" stop-color="#39a856"/><stop offset="0.136" stop-color="#45ac3e"/><stop offset="0.145" stop-color="#6fb838"/><stop offset="0.149" stop-color="#7abb37"/><stop offset="0.154" stop-color="#74b938"/><stop offset="0.163" stop-color="#51af3b"/><stop offset="0.168" stop-color="#43ab42"/><stop offset="0.172" stop-color="#3da94f"/><stop offset="0.177" stop-color="#34a761"/><stop offset="0.182" stop-color="#2aa283"/><stop offset="0.186" stop-color="#259da7"/><stop offset="0.191" stop-color="#258dbe"/><stop offset="0.200" stop-color="#296fc8"/><stop offset="0.214" stop-color="#3060c2"/><stop offset="0.232" stop-color="#3653bd"/><stop offset="0.264" stop-color="#5b3ca7"/><stop offset="0.269" stop-color="#5f3aa5"/><stop offset="0.296" stop-color="#6437a1"/><stop offset="0.548" stop-color="#703097"/><stop offset="1.000" stop-color="#732e94"/></linearGradient>
<linearGradient id="h1_11"><stop offset="0.000" stop-color="#5f3aa5"/><stop offset="0.090" stop-color="#5f3aa5"/><stop offset="0.095" stop-color="#3458be"/><stop offset="0.099" stop-color="#2e65c3"/><stop offset="0.113" stop-color="#296fc8"/><stop offset="0.117" stop-color="#2680c2"/><stop offset="0.122" stop-color="#2399ba"/><stop offset="0.127" stop-color="#29a18a"/><stop offset="0.131" stop-color="#31a667"/><stop offset="0.136" stop-color="#3ba953"/><stop offset="0.145" stop-color="#46ac3c"/><stop offset="0.149" stop-color="#4faf3b"/><stop offset="0.159" stop-color="#43ab42"/><stop offset="0.172" stop-color="#33a763"/><stop offset="0.177" stop-color="#2ca474"/><stop offset="0.186" stop-color="#249cb4"/><stop offset="0.191" stop-color="#2586c0"/><stop offset="0.195" stop-color="#2874c7"/><stop offset="0.200" stop-color="#2a6bc6"/><stop offset="0.209" stop-color="#2f61c2"/><stop offset="0.227" stop-color="#3752bc"/><stop offset="0.250" stop-color="#593ea8"/><stop offset="0.259" stop-color="#6338a2"/><stop offset="0.273" stop-color="#6b339b"/><stop offset="0.433" stop-color="#732e95"/><stop offset="1.000" stop-color="#762c91"/></linearGradient>
<linearGradient id="h1_12"><stop offset="0.000" stop-color="#5f3aa5"/><stop offset="0.090" stop-color="#5f3aa5"/><stop offset="0.095" stop-color="#3457be"/><stop offset="0.099" stop-color="#2e64c3"/><stop offset="0.113" stop-color="#296ec7"/><stop offset="0.117" stop-color="#267ec3"/><stop offset="0.122" stop-color="#2497bb"/><stop offset="0.127" stop-color="#28a092"/><stop offset="0.131" stop-color="#2da570"/><stop offset="0.136" stop-color="#35a75e"/><stop offset="0.145" stop-color="#40aa48"/><stop offset="0.149" stop-color="#42ab43"/><stop offset="0.154" stop-color="#41ab46"/><stop offset="0.163" stop-color="#39a857"/><stop offset="0.172" stop-color="#2da56d"/><stop offset="0.177" stop-color="#2ba37e"/><stop offset="0.186" stop-color="#239aba"/><stop offset="0.191" stop-color="#2682c2"/><stop offset="0.195" stop-color="#2870c8"/><stop offset="0.209" stop-color="#305fc1"/><stop offset="0.227" stop-color="#3a50ba"/><stop offset="0.241" stop-color="#5242ad"/><stop offset="0.255" stop-color="#6238a3"/><stop offset="0.273" stop-color="#6e3199"/><stop offset="0.296" stop-color="#712f96"/><stop offset="0.548" stop-color="#762c92"/><stop offset="1.000" stop-color="#772b91"/></linearGradient>
<linearGradient id="h1_13"><stop offset="0.000" stop-color="#5f3aa5"/><stop offset="0.090" stop-color="#5f3aa5"/><stop offset="0.095" stop-color="#3457be"/><stop offset="0.099" stop-color="#2e64c3"/><stop offset="0.113" stop-color="#296dc7"/><stop offset="0.117" stop-color="#277cc4"/><stop offset="0.122" stop-color="#2494bb"/><stop offset="0.127" stop-color="#28a094"/><stop offset="0.131" stop-color="#2da572"/><stop offset="0.136" stop-color="#35a75e"/><stop offset="0.145" stop-color="#40aa48"/><stop offset="0.149" stop-color="#43ab43"/><stop offset="0.154" stop-color="#41ab45"/><stop offset="0.172" stop-color="#2da56d"/><stop offset="0.177" stop-color="#2ba37e"/><stop offset="0.186" stop-color="#2399ba"/><stop offset="0.191" stop-color="#2682c2"/><stop offset="0.195" stop-color="#2870c8"/><stop offset="0.209" stop-color="#3060c2"/><stop offset="0.227" stop-color="#3752bc"/><stop offset="0.241" stop-color="#4e44af"/><stop offset="0.259" stop-color="#6238a2"/><stop offset="0.273" stop-color="#6a339c"/><stop offset="0.296" stop-color="#6d3299"/><stop offset="0.548" stop-color="#742e94"/><stop offset="1.000" stop-color="#762c92"/></linearGradient>
<linearGradient id="h1_14"><stop offset="0.000" stop-color="#5f3aa5"/><stop offset="0.090" stop-color="#5f3aa5"/><stop offset="0.095" stop-color="#3557be"/><stop offset="0.099" stop-color="#2e63c3"/><stop offset="0.113" stop-color="#2a6dc7"/><stop offset="0.117" stop-color="#277ac4"/><stop offset="0.122" stop-color="#2493bc"/><stop offset="0.127" stop-color="#28a092"/><stop offset="0.131" stop-color="#2fa56b"/><stop offset="0.136" stop-color="#3aa955"/><stop offset="0.145" stop-color="#48ac3c"/><stop offset="0.149" stop-color="#52af3b"/><stop offset="0.154" stop-color="#4dae3b"/><stop offset="0.159" stop-color="#43ab42"/><stop offset="0.172" stop-color="#32a664"/><stop offset="0.177" stop-color="#2ca475"/><stop offset="0.186" stop-color="#239bb7"/><stop offset="0.191" stop-color="#2586c0"/><stop offset="0.195" stop-color="#2776c6"/><stop offset="0.200" stop-color="#2a6dc7"/><stop offset="0.214" stop-color="#305fc1"/><stop offset="0.232" stop-color="#3653bc"/><stop offset="0.259" stop-color="#573faa"/><stop offset="0.269" stop-color="#5e3ba6"/><stop offset="0.296" stop-color="#6338a2"/><stop offset="0.548" stop-color="#6f3198"/><stop offset="1.000" stop-color="#722e95"/></linearGradient>
<linearGradient id="h1_15"><stop offset="0.000" stop-color="#5f3aa5"/><stop offset="0.090" stop-color="#5f3aa5"/><stop offset="0.095" stop-color="#3556be"/><stop offset="0.099" stop-color="#2f63c3"/><stop offset="0.113" stop-color="#2a6cc6"/><stop offset="0.117" stop-color="#2778c5"/><stop offset="0.122" stop-color="#2491bc"/><stop offset="0.127" stop-color="#29a18c"/><stop offset="0.131" stop-color="#35a75e"/><stop offset="0.136" stop-color="#42ab43"/><stop offset="0.140" stop-color="#58b13a"/><stop offset="0.145" stop-color="#6eb738"/><stop offset="0.149" stop-color="#7abb37"/><stop offset="0.154" stop-color="#74b938"/><stop offset="0.163" stop-color="#4bae3b"/><stop offset="0.172" stop-color="#3ba953"/><stop offset="0.177" stop-color="#32a664"/><stop offset="0.186" stop-color="#259dad"/><stop offset="0.191" stop-color="#258dbe"/><stop offset="0.200" stop-color="#2872c7"/><stop offset="0.214" stop-color="#2e64c3"/><stop offset="0.246" stop-color="#3753bc"/><stop offset="0.269" stop-color="#4b46b1"/><stop offset="0.365" stop-color="#5b3ca7"/><stop offset="0.548" stop-color="#67359f"/><stop offset="1.000" stop-color="#6d329a"/></linearGradient>
<linearGradient id="h1_16"><stop offset="0.000" stop-color="#5f3aa5"/><stop offset="0.090" stop-color="#5f3aa5"/><stop offset="0.095" stop-color="#3556be"/><stop offset="0.099" stop-color="#2f62c2"/><stop offset="0.113" stop-color="#2a6bc6"/><stop offset="0.117" stop-color="#2775c6"/><stop offset="0.122" stop-color="#248fbd"/><stop offset="0.127" stop-color="#2aa285"/><stop offset="0.131" stop-color="#3daa4e"/><stop offset="0.136" stop-color="#5fb33a"/><stop offset="0.140" stop-color="#84be36"/><stop offset="0.145" stop-color="#9fc534"/><stop offset="0.149" stop-color="#afca32"/><stop offset="0.154" stop-color="#a7c833"/><stop offset="0.168" stop-color="#5ab23a"/><stop offset="0.172" stop-color="#45ac3d"/><stop offset="0.177" stop-color="#3ca950"/><stop offset="0.182" stop-color="#2ca477"/><stop offset="0.186" stop-color="#269ea1"/><stop offset="0.191" stop-color="#2496bb"/><stop offset="0.200" stop-color="#267fc3"/><stop offset="0.209" stop-color="#296fc7"/><stop offset="0.232" stop-color="#305fc1"/><stop offset="0.273" stop-color="#3752bc"/><stop offset="0.342" stop-color="#4649b4"/><stop offset="0.433" stop-color="#5440ab"/><stop offset="0.548" stop-color="#5d3ba6"/><stop offset="0.685" stop-color="#6238a3"/><stop offset="1.000" stop-color="#66369f"/></linearGradient>
<linearGradient id="h1_17"><stop offset="0.000" stop-color="#5f3aa5"/><stop offset="0.090" stop-color="#5f3aa5"/><stop offset="0.095" stop-color="#3556bd"/><stop offset="0.099" stop-color="#2f61c2"/><stop offset="0.113" stop-color="#2b6ac6"/><stop offset="0.117" stop-color="#2872c7"/><stop offset="0.122" stop-color="#258cbe"/><stop offset="0.127" stop-color="#2ba37f"/><stop offset="0.131" stop-color="#45ac3d"/><stop offset="0.136" stop-color="#85be36"/><stop offset="0.140" stop-color="#b3cb32"/><stop offset="0.145" stop-color="#cdd530"/><stop offset="0.149" stop-color="#dddb2f"/><stop offset="0.154" stop-color="#d5d82f"/><stop offset="0.159" stop-color="#bdcf31"/><stop offset="0.168" stop-color="#81bd36"/><stop offset="0.172" stop-color="#68b639"/><stop offset="0.177" stop-color="#46ac3c"/><stop offset="0.182" stop-color="#30a668"/><stop offset="0.186" stop-color="#28a095"/><stop offset="0.191" stop-color="#249cb3"/><stop offset="0.195" stop-color="#2495bb"/><stop offset="0.214" stop-color="#2873c7"/><stop offset="0.218" stop-color="#296ec7"/><stop offset="0.269" stop-color="#335abf"/><stop offset="0.365" stop-color="#3852bc"/><stop offset="0.456" stop-color="#4947b2"/><stop offset="0.594" stop-color="#5441ab"/><stop offset="1.000" stop-color="#5f3aa5"/></linearGradient>
<linearGradient id="h1_18"><stop offset="0.000" stop-color="#5f3aa5"/><stop offset="0.090" stop-color="#5f3aa5"/><stop offset="0.095" stop-color="#3555bd"/><stop offset="0.099" stop-color="#3060c2"/><stop offset="0.113" stop-color="#2c69c5"/><stop offset="0.117" stop-color="#2870c8"/><stop offset="0.122" stop-color="#2589bf"/><stop offset="0.127" stop-color="#2ba37a"/><stop offset="0.131" stop-color="#5cb23a"/><stop offset="0.136" stop-color="#a9c833"/><stop offset="0.140" stop-color="#d6d92f"/><stop offset="0.145" stop-color="#f6e52d"/><stop offset="0.149" stop-color="#f9d92c"/><stop offset="0.154" stop-color="#fae12d"/><stop offset="0.159" stop-color="#e2dd2f"/><stop offset="0.172" stop-color="#88bf36"/><stop offset="0.177" stop-color="#63b439"/><stop offset="0.182" stop-color="#37a85a"/><stop offset="0.186" stop-color="#29a18b"/><stop offset="0.191" stop-color="#269ea5"/><stop offset="0.200" stop-color="#2399ba"/><stop offset="0.218" stop-color="#277bc4"/><stop offset="0.232" stop-color="#296dc7"/><stop offset="0.264" stop-color="#2f62c3"/><stop offset="0.296" stop-color="#315ec1"/><stop offset="0.433" stop-color="#3752bc"/><stop offset="0.548" stop-color="#4649b3"/><stop offset="0.777" stop-color="#5242ad"/><stop offset="1.000" stop-color="#573faa"/></linearGradient>
<linearGradient id="h1_19"><stop offset="0.000" stop-color="#5f3aa5"/><stop offset="0.090" stop-color="#5f3aa5"/><stop offset="0.095" stop-color="#3655bd"/><stop offset="0.099" stop-color="#305fc1"/><stop offset="0.117" stop-color="#296ec7"/><stop offset="0.122" stop-color="#2586c0"/><stop offset="0.127" stop-color="#2ca477"/><stop offset="0.131" stop-color="#6eb838"/><stop offset="0.136" stop-color="#c1d131"/><stop offset="0.140" stop-color="#f3e32d"/><stop offset="0.145" stop-color="#f8cd2b"/><stop offset="0.149" stop-color="#f7ba2a"/><stop offset="0.154" stop-color="#f8c32b"/><stop offset="0.159" stop-color="#fae02d"/><stop offset="0.163" stop-color="#dddb2f"/><stop offset="0.172" stop-color="#a2c633"/><stop offset="0.177" stop-color="#7abb37"/><stop offset="0.182" stop-color="#3ca950"/><stop offset="0.186" stop-color="#2aa283"/><stop offset="0.191" stop-color="#279f9a"/><stop offset="0.204" stop-color="#249cb4"/><stop offset="0.209" stop-color="#2397ba"/><stop offset="0.227" stop-color="#277cc4"/><stop offset="0.241" stop-color="#286fc8"/><stop offset="0.269" stop-color="#2c67c5"/><stop offset="0.388" stop-color="#3359bf"/><stop offset="0.502" stop-color="#3752bc"/><stop offset="0.640" stop-color="#444ab5"/><stop offset="1.000" stop-color="#5043ae"/></linearGradient>
<linearGradient id="h1_20"><stop offset="0.000" stop-color="#5f3aa5"/><stop offset="0.090" stop-color="#5f3aa5"/><stop offset="0.095" stop-color="#3654bd"/><stop offset="0.099" stop-color="#315fc1"/><stop offset="0.113" stop-color="#2c67c5"/><stop offset="0.117" stop-color="#296ec7"/><stop offset="0.122" stop-color="#2684c1"/><stop offset="0.127" stop-color="#2ca475"/><stop offset="0.131" stop-color="#7abb37"/><stop offset="0.136" stop-color="#cfd630"/><stop offset="0.140" stop-color="#f9dc2c"/><stop offset="0.145" stop-color="#f7ba2a"/><stop offset="0.149" stop-color="#f6a629"/><stop offset="0.154" stop-color="#f7b02a"/><stop offset="0.159" stop-color="#f9cf2c"/><stop offset="0.163" stop-color="#eee22e"/><stop offset="0.168" stop-color="#cbd430"/><stop offset="0.172" stop-color="#b1cb32"/><stop offset="0.177" stop-color="#88bf36"/><stop offset="0.182" stop-color="#3faa4a"/><stop offset="0.186" stop-color="#2ba37e"/><stop offset="0.191" stop-color="#28a093"/><stop offset="0.204" stop-color="#259da8"/><stop offset="0.209" stop-color="#249cb3"/><stop offset="0.214" stop-color="#2397ba"/><stop offset="0.232" stop-color="#2680c2"/><stop offset="0.250" stop-color="#2870c8"/><stop offset="0.388" stop-color="#325cc0"/><stop offset="0.548" stop-color="#3752bc"/><stop offset="0.685" stop-color="#414cb7"/><stop offset="1.000" stop-color="#4b46b0"/></linearGradient>
<linearGradient id="h1_21"><stop offset="0.000" stop-color="#5f3aa5"/><stop offset="0.090" stop-color="#5f3aa5"/><stop offset="0.095" stop-color="#3654bd"/><stop offset="0.099" stop-color="#315fc1"/><stop offset="0.117" stop-color="#296dc7"/><stop offset="0.122" stop-color="#2683c1"/><stop offset="0.127" stop-color="#2ca475"/><stop offset="0.131" stop-color="#7ebc37"/><stop offset="0.136" stop-color="#d4d830"/><stop offset="0.140" stop-color="#f9d62c"/><stop offset="0.145" stop-color="#f7b42a"/><stop offset="0.149" stop-color="#f69f29"/><stop offset="0.154" stop-color="#f6a929"/><stop offset="0.159" stop-color="#f8c92b"/><stop offset="0.163" stop-color="#f4e42d"/><stop offset="0.168" stop-color="#d0d630"/><stop offset="0.172" stop-color="#b6cc32"/><stop offset="0.177" stop-color="#8cc035"/><stop offset="0.182" stop-color="#40aa48"/><stop offset="0.186" stop-color="#2ba37c"/><stop offset="0.191" stop-color="#28a090"/><stop offset="0.204" stop-color="#269ea3"/><stop offset="0.214" stop-color="#239ab9"/><stop offset="0.232" stop-color="#2683c1"/><stop offset="0.259" stop-color="#296fc8"/><stop offset="0.388" stop-color="#315dc1"/><stop offset="0.640" stop-color="#3b4fba"/><stop offset="1.000" stop-color="#4947b2"/></linearGradient>
<linearGradient id="h1_22"><stop offset="0.000" stop-color="#5f3aa5"/><stop offset="0.090" stop-color="#5f3aa5"/><stop offset="0.095" stop-color="#3654bd"/><stop offset="0.099" stop-color="#315fc1"/><stop offset="0.113" stop-color="#2c67c5"/><stop offset="0.117" stop-color="#296ec7"/><stop offset="0.122" stop-color="#2684c1"/><stop offset="0.127" stop-color="#2ca475"/><stop offset="0.131" stop-color="#7abb37"/><stop offset="0.136" stop-color="#cfd630"/><stop offset="0.140" stop-color="#f9dc2c"/><stop offset="0.145" stop-color="#f7ba2a"/><stop offset="0.149" stop-color="#f6a629"/><stop offset="0.154" stop-color="#f7b02a"/><stop offset="0.159" stop-color="#f9cf2c"/><stop offset="0.163" stop-color="#eee22e"/><stop offset="0.168" stop-color="#cbd430"/><stop offset="0.172" stop-color="#b1cb32"/><stop offset="0.177" stop-color="#88bf36"/><stop offset="0.182" stop-color="#3faa4a"/><stop offset="0.186" stop-color="#2ba37e"/><stop offset="0.191" stop-color="#28a093"/><stop offset="0.204" stop-color="#259da7"/><stop offset="0.214" stop-color="#2397ba"/><stop offset="0.237" stop-color="#277cc4"/><stop offset="0.255" stop-color="#286fc8"/><stop offset="0.365" stop-color="#305fc1"/><stop offset="0.456" stop-color="#3457be"/><stop offset="0.640" stop-color="#3c4fb9"/><stop offset="1.000" stop-color="#4947b2"/></linearGradient>
<linearGradient id="h1_23"><stop offset="0.000" stop-color="#5f3aa5"/><stop offset="0.090" stop-color="#5f3aa5"/><stop offset="0.095" stop-color="#3655bd"/><stop offset="0.099" stop-color="#305fc1"/><stop offset="0.117" stop-color="#296ec7"/><stop offset="0.122" stop-color="#2586c0"/><stop offset="0.127" stop-color="#2ca477"/><stop offset="0.131" stop-color="#6eb838"/><stop offset="0.136" stop-color="#c1d131"/><stop offset="0.140" stop-color="#f3e32d"/><stop offset="0.145" stop-color="#f8cd2b"/><stop offset="0.149" stop-color="#f7ba2a"/><stop offset="0.154" stop-color="#f8c32b"/><stop offset="0.159" stop-color="#fae02d"/><stop offset="0.163" stop-color="#dddb2f"/><stop offset="0.172" stop-color="#a2c633"/><stop offset="0.177" stop-color="#7abb37"/><stop offset="0.182" stop-color="#3ca950"/><stop offset="0.186" stop-color="#2aa283"/><stop offset="0.191" stop-color="#279f9a"/><stop offset="0.204" stop-color="#249cb4"/><stop offset="0.209" stop-color="#2397ba"/><stop offset="0.223" stop-color="#2683c1"/><stop offset="0.241" stop-color="#2870c8"/><stop offset="0.264" stop-color="#2b69c5"/><stop offset="0.365" stop-color="#315dc0"/><stop offset="0.456" stop-color="#3555bd"/><stop offset="0.640" stop-color="#3f4db7"/><stop offset="1.000" stop-color="#4b46b0"/></linearGradient>
<linearGradient id="h1_24"><stop offset="0.000" stop-color="#5f3aa5"/><stop offset="0.090" stop-color="#5f3aa5"/><stop offset="0.095" stop-color="#3555bd"/><stop offset="0.099" stop-color="#3060c2"/><stop offset="0.113" stop-color="#2c69c5"/><stop offset="0.117" stop-color="#2870c8"/><stop offset="0.122" stop-color="#2589bf"/><stop offset="0.127" stop-color="#2ba37a"/><stop offset="0.131" stop-color="#5cb23a"/><stop offset="0.136" stop-color="#a9c833"/><stop offset="0.140" stop-color="#d6d92f"/><stop offset="0.145" stop-color="#f6e52d"/><stop offset="0.149" stop-color="#f9d92c"/><stop offset="0.154" stop-color="#fae12d"/><stop offset="0.159" stop-color="#e2dd2f"/><stop offset="0.172" stop-color="#88bf36"/><stop offset="0.177" stop-color="#63b439"/><stop offset="0.182" stop-color="#37a85a"/><stop offset="0.186" stop-color="#29a18b"/><stop offset="0.191" stop-color="#269ea5"/><stop offset="0.200" stop-color="#2399ba"/><stop offset="0.218" stop-color="#277cc4"/><stop offset="0.232" stop-color="#296ec7"/><stop offset="0.269" stop-color="#2e63c3"/><stop offset="0.342" stop-color="#325bc0"/><stop offset="0.456" stop-color="#3753bc"/><stop offset="0.640" stop-color="#4649b4"/><stop offset="1.000" stop-color="#5043ae"/></linearGradient>
<linearGradient id="h1_25"><stop offset="0.000" stop-color="#5f3aa5"/><stop offset="0.090" stop-color="#5f3aa5"/><stop offset="0.095" stop-color="#3556bd"/><stop offset="0.099" stop-color="#2f61c2"/><stop offset="0.113" stop-color="#2b6ac6"/><stop offset="0.117" stop-color="#2872c7"/><stop offset="0.122" stop-color="#258cbe"/><stop offset="0.127" stop-color="#2ba37f"/><stop offset="0.131" stop-color="#45ac3d"/><stop offset="0.136" stop-color="#85be36"/><stop offset="0.140" stop-color="#b3cb32"/><stop offset="0.145" stop-color="#cdd530"/><stop offset="0.149" stop-color="#dddb2f"/><stop offset="0.154" stop-color="#d5d82f"/><stop offset="0.159" stop-color="#bdcf31"/><stop offset="0.168" stop-color="#81bd36"/><stop offset="0.172" stop-color="#68b639"/><stop offset="0.177" stop-color="#46ac3c"/><stop offset="0.182" stop-color="#30a668"/><stop offset="0.186" stop-color="#28a095"/><stop offset="0.191" stop-color="#249cb3"/><stop offset="0.195" stop-color="#2495bb"/><stop offset="0.218" stop-color="#296fc8"/><stop offset="0.241" stop-color="#2e64c3"/><stop offset="0.273" stop-color="#325cc0"/><stop offset="0.388" stop-color="#3753bc"/><stop offset="0.594" stop-color="#4c46b0"/><stop offset="1.000" stop-color="#563faa"/></linearGradient>
<linearGradient id="h1_26"><stop offset="0.000" stop-color="#5f3aa5"/><stop offset="0.090" stop-color="#5f3aa5"/><stop offset="0.095" stop-color="#3556be"/><stop offset="0.099" stop-color="#2f62c2"/><stop offset="0.113" stop-color="#2a6bc6"/><stop offset="0.117" stop-color="#2775c6"/><stop offset="0.122" stop-color="#248fbd"/><stop offset="0.127" stop-color="#2aa285"/><stop offset="0.131" stop-color="#3daa4e"/><stop offset="0.136" stop-color="#5fb33a"/><stop offset="0.140" stop-color="#84be36"/><stop offset="0.145" stop-color="#9fc534"/><stop offset="0.149" stop-color="#afca32"/><stop offset="0.154" stop-color="#a7c833"/><stop offset="0.168" stop-color="#5ab23a"/><stop offset="0.172" stop-color="#45ac3d"/><stop offset="0.177" stop-color="#3ca950"/><stop offset="0.182" stop-color="#2ca477"/><stop offset="0.186" stop-color="#269ea1"/><stop offset="0.191" stop-color="#2496bb"/><stop offset="0.209" stop-color="#286fc8"/><stop offset="0.223" stop-color="#2d65c4"/><stop offset="0.264" stop-color="#3556be"/><stop offset="0.319" stop-color="#3752bc"/><stop offset="0.411" stop-color="#4748b3"/><stop offset="0.502" stop-color="#5043ae"/><stop offset="0.640" stop-color="#573faa"/><stop offset="1.000" stop-color="#5d3ba6"/></linearGradient>
<linearGradient id="h1_27"><stop offset="0.000" stop-color="#5f3aa5"/><stop offset="0.090" stop-color="#5f3aa5"/><stop offset="0.095" stop-color="#3556be"/><stop offset="0.099" stop-color="#2f63c3"/><stop offset="0.113" stop-color="#2a6cc6"/><stop offset="0.117" stop-color="#2778c5"/><stop offset="0.122" stop-color="#2491bc"/><stop offset="0.127" stop-color="#29a18c"/><stop offset="0.131" stop-color="#35a75e"/><stop offset="0.136" stop-color="#42ab43"/><stop offset="0.140" stop-color="#58b13a"/><stop offset="0.145" stop-color="#6eb738"/><stop offset="0.149" stop-color="#7abb37"/><stop offset="0.154" stop-color="#74b938"/><stop offset="0.163" stop-color="#4bae3b"/><stop offset="0.172" stop-color="#3ba953"/><stop offset="0.177" stop-color="#32a664"/><stop offset="0.186" stop-color="#259dad"/><stop offset="0.191" stop-color="#258dbe"/><stop offset="0.200" stop-color="#2873c7"/><stop offset="0.227" stop-color="#325cc0"/><stop offset="0.255" stop-color="#3752bc"/><stop offset="0.269" stop-color="#414cb6"/><stop offset="0.365" stop-color="#5043ae"/><stop offset="0.433" stop-color="#573faa"/><stop offset="0.594" stop-color="#5e3ba6"/><stop offset="1.000" stop-color="#6338a2"/></linearGradient>
<linearGradient id="h1_28"><stop offset="0.000" stop-color="#5f3aa5"/><stop offset="0.090" stop-color="#5f3aa5"/><stop offset="0.095" stop-color="#3557be"/><stop offset="0.099" stop-color="#2e63c3"/><stop offset="0.113" stop-color="#2a6dc7"/><stop offset="0.117" stop-color="#277ac4"/><stop offset="0.122" stop-color="#2493bc"/><stop offset="0.127" stop-color="#28a092"/><stop offset="0.131" stop-color="#2fa56b"/><stop offset="0.136" stop-color="#3aa955"/><stop offset="0.145" stop-color="#48ac3c"/><stop offset="0.149" stop-color="#52af3b"/><stop offset="0.154" stop-color="#4dae3b"/><stop offset="0.159" stop-color="#43ab42"/><stop offset="0.172" stop-color="#32a664"/><stop offset="0.177" stop-color="#2ca475"/><stop offset="0.186" stop-color="#239bb7"/><stop offset="0.191" stop-color="#2586c0"/><stop offset="0.195" stop-color="#2776c6"/><stop offset="0.200" stop-color="#296dc7"/><stop offset="0.214" stop-color="#3060c2"/><stop offset="0.237" stop-color="#3753bc"/><stop offset="0.255" stop-color="#4947b2"/><stop offset="0.269" stop-color="#5341ac"/><stop offset="0.296" stop-color="#573faa"/><stop offset="0.502" stop-color="#6338a2"/><stop offset="1.000" stop-color="#67359e"/></linearGradient>
<linearGradient id="h1_29"><stop offset="0.000" stop-color="#5f3aa5"/><stop offset="0.090" stop-color="#5f3aa5"/><stop offset="0.095" stop-color="#3457be"/><stop offset="0.099" stop-color="#2e64c3"/><stop offset="0.113" stop-color="#296dc7"/><stop offset="0.117" stop-color="#277cc4"/><stop offset="0.122" stop-color="#2494bb"/><stop offset="0.127" stop-color="#28a094"/><stop offset="0.131" stop-color="#2da572"/><stop offset="0.136" stop-color="#35a75e"/><stop offset="0.145" stop-color="#40aa48"/><stop offset="0.149" stop-color="#43ab43"/><stop offset="0.154" stop-color="#41ab45"/><stop offset="0.172" stop-color="#2da56d"/><stop offset="0.177" stop-color="#2ba37e"/><stop offset="0.186" stop-color="#2399ba"/><stop offset="0.191" stop-color="#2682c2"/><stop offset="0.195" stop-color="#2871c8"/><stop offset="0.204" stop-color="#2d65c4"/><stop offset="0.227" stop-color="#3654bd"/><stop offset="0.250" stop-color="#5043ae"/><stop offset="0.273" stop-color="#603aa5"/><stop offset="0.433" stop-color="#67359f"/><stop offset="1.000" stop-color="#6b339b"/></linearGradient>
<linearGradient id="h1_30"><stop offset="0.000" stop-color="#5f3aa5"/><stop offset="0.090" stop-color="#5f3aa5"/><stop offset="0.095" stop-color="#3457be"/><stop offset="0.099" stop-color="#2e64c3"/><stop offset="0.113" stop-color="#296ec7"/><stop offset="0.117" stop-color="#267ec3"/><stop offset="0.122" stop-color="#2497bb"/><stop offset="0.127" stop-color="#28a092"/><stop offset="0.131" stop-color="#2da570"/><stop offset="0.136" stop-color="#35a75e"/><stop offset="0.145" stop-color="#40aa48"/><stop offset="0.149" stop-color="#42ab43"/><stop offset="0.154" stop-color="#41ab46"/><stop offset="0.163" stop-color="#39a857"/><stop offset="0.172" stop-color="#2da56d"/><stop offset="0.177" stop-color="#2ba37e"/><stop offset="0.186" stop-color="#239ab9"/><stop offset="0.191" stop-color="#2682c2"/><stop offset="0.195" stop-color="#2870c8"/><stop offset="0.209" stop-color="#3060c2"/><stop offset="0.227" stop-color="#3752bc"/><stop offset="0.241" stop-color="#4a46b1"/><stop offset="0.259" stop-color="#5d3ba6"/><stop offset="0.269" stop-color="#6238a2"/><stop offset="0.296" stop-color="#6536a0"/><stop offset="0.594" stop-color="#6b339b"/><stop offset="1.000" stop-color="#6c329a"/></linearGradient>
<linearGradient id="h1_31"><stop offset="0.000" stop-color="#5f3aa5"/><stop offset="0.090" stop-color="#5f3aa5"/><stop offset="0.095" stop-color="#3458be"/><stop offset="0.099" stop-color="#2e65c3"/><stop offset="0.113" stop-color="#296fc8"/><stop offset="0.117" stop-color="#2680c2"/><stop offset="0.122" stop-color="#2399ba"/><stop offset="0.127" stop-color="#29a18a"/><stop offset="0.131" stop-color="#31a667"/><stop offset="0.136" stop-color="#3ba953"/><stop offset="0.145" stop-color="#46ac3c"/><stop offset="0.149" stop-color="#4faf3b"/><stop offset="0.159" stop-color="#43ab42"/><stop offset="0.172" stop-color="#33a763"/><stop offset="0.177" stop-color="#2ca474"/><stop offset="0.186" stop-color="#249cb4"/><stop offset="0.191" stop-color="#2586c0"/><stop offset="0.195" stop-color="#2874c7"/><stop offset="0.204" stop-color="#2d66c4"/><stop offset="0.214" stop-color="#315dc1"/><stop offset="0.232" stop-color="#3951bb"/><stop offset="0.255" stop-color="#5540ab"/><stop offset="0.273" stop-color="#6039a4"/><stop offset="0.456" stop-color="#68359e"/><stop offset="1.000" stop-color="#6b339b"/></linearGradient>
<linearGradient id="h1_32"><stop offset="0.000" stop-color="#5f3aa5"/><stop offset="0.090" stop-color="#5f3aa5"/><stop offset="0.095" stop-color="#3458be"/><stop offset="0.099" stop-color="#2e65c4"/><stop offset="0.113" stop-color="#286fc8"/><stop offset="0.117" stop-color="#2682c2"/><stop offset="0.122" stop-color="#239bb8"/><stop offset="0.127" stop-color="#2ba37f"/><stop offset="0.131" stop-color="#39a856"/><stop offset="0.136" stop-color="#45ac3e"/><stop offset="0.145" stop-color="#6fb838"/><stop offset="0.149" stop-color="#7abb37"/><stop offset="0.154" stop-color="#74b938"/><stop offset="0.163" stop-color="#51af3b"/><stop offset="0.168" stop-color="#43ab42"/><stop offset="0.172" stop-color="#3da94f"/><stop offset="0.177" stop-color="#34a761"/><stop offset="0.182" stop-color="#2aa283"/><stop offset="0.186" stop-color="#259da7"/><stop offset="0.191" stop-color="#258dbe"/><stop offset="0.200" stop-color="#286fc8"/><stop offset="0.218" stop-color="#315dc1"/><stop offset="0.237" stop-color="#3753bc"/><stop offset="0.264" stop-color="#5142ad"/><stop offset="0.296" stop-color="#583ea9"/><stop offset="0.502" stop-color="#6437a1"/><stop offset="1.000" stop-color="#68349d"/></linearGradient>
<linearGradient id="h1_33"><stop offset="0.000" stop-color="#5f3aa5"/><stop offset="0.090" stop-color="#5f3aa5"/><stop offset="0.095" stop-color="#3458be"/><stop offset="0.099" stop-color="#2d65c4"/><stop offset="0.113" stop-color="#2870c8"/><stop offset="0.117" stop-color="#2682c2"/><stop offset="0.122" stop-color="#249cb5"/><stop offset="0.127" stop-color="#2da571"/><stop offset="0.131" stop-color="#44ab40"/><stop offset="0.136" stop-color="#6fb838"/><stop offset="0.140" stop-color="#90c135"/><stop offset="0.145" stop-color="#a7c833"/><stop offset="0.149" stop-color="#b3cc32"/><stop offset="0.154" stop-color="#aeca32"/><stop offset="0.172" stop-color="#52af3b"/><stop offset="0.177" stop-color="#40aa49"/><stop offset="0.182" stop-color="#2da56e"/><stop offset="0.186" stop-color="#279f98"/><stop offset="0.191" stop-color="#2397ba"/><stop offset="0.195" stop-color="#2587c0"/><stop offset="0.204" stop-color="#286fc8"/><stop offset="0.227" stop-color="#315dc0"/><stop offset="0.255" stop-color="#3752bc"/><stop offset="0.269" stop-color="#424bb6"/><stop offset="0.365" stop-color="#5142ad"/><stop offset="0.456" stop-color="#5a3da8"/><stop offset="0.594" stop-color="#603aa5"/><stop offset="1.000" stop-color="#6437a1"/></linearGradient>
<linearGradient id="h1_34"><stop offset="0.000" stop-color="#5f3aa5"/><stop offset="0.090" stop-color="#5f3aa5"/><stop offset="0.095" stop-color="#3458be"/><stop offset="0.099" stop-color="#2e65c4"/><stop offset="0.113" stop-color="#286fc8"/><stop offset="0.117" stop-color="#2681c2"/><stop offset="0.122" stop-color="#249cb5"/><stop offset="0.127" stop-color="#32a665"/><stop offset="0.131" stop-color="#66b539"/><stop offset="0.136" stop-color="#a1c633"/><stop offset="0.140" stop-color="#c5d231"/><stop offset="0.145" stop-color="#dddb2f"/><stop offset="0.149" stop-color="#ebe02e"/><stop offset="0.154" stop-color="#e4de2e"/><stop offset="0.163" stop-color="#b7cd31"/><stop offset="0.172" stop-color="#81bd36"/><stop offset="0.177" stop-color="#5cb23a"/><stop offset="0.182" stop-color="#37a85a"/><stop offset="0.186" stop-color="#29a189"/><stop offset="0.191" stop-color="#249cae"/><stop offset="0.195" stop-color="#2493bc"/><stop offset="0.209" stop-color="#2873c7"/><stop offset="0.214" stop-color="#296dc7"/><stop offset="0.237" stop-color="#305fc1"/><stop offset="0.269" stop-color="#3555bd"/><stop offset="0.319" stop-color="#3951bb"/><stop offset="0.456" stop-color="#4f44ae"/><stop offset="0.548" stop-color="#5540ab"/><stop offset="1.000" stop-color="#5f3aa5"/></linearGradient>
<linearGradient id="h1_35"><stop offset="0.000" stop-color="#5f3aa5"/><stop offset="0.090" stop-color="#5f3aa5"/><stop offset="0.095" stop-color="#3457be"/><stop offset="0.099" stop-color="#2e64c3"/><stop offset="0.113" stop-color="#296ec7"/><stop offset="0.117" stop-color="#267fc3"/><stop offset="0.122" stop-color="#239bb8"/><stop offset="0.127" stop-color="#37a85b"/><stop offset="0.131" stop-color="#8abf36"/><stop offset="0.136" stop-color="#ccd530"/><stop offset="0.140" stop-color="#f5e42d"/><stop offset="0.149" stop-color="#f8c22b"/><stop offset="0.154" stop-color="#f8c92b"/><stop offset="0.159" stop-color="#fae02d"/><stop offset="0.163" stop-color="#e3de2f"/><stop offset="0.172" stop-color="#aeca32"/><stop offset="0.177" stop-color="#85be36"/><stop offset="0.182" stop-color="#40aa48"/><stop offset="0.186" stop-color="#2ba37b"/><stop offset="0.191" stop-color="#279f9d"/><stop offset="0.195" stop-color="#249cb2"/><stop offset="0.200" stop-color="#2495bb"/><stop offset="0.214" stop-color="#2779c5"/><stop offset="0.223" stop-color="#296dc7"/><stop offset="0.273" stop-color="#325bc0"/><stop offset="0.388" stop-color="#3752bc"/><stop offset="0.456" stop-color="#434bb5"/><stop offset="0.594" stop-color="#4e44af"/><stop offset="1.000" stop-color="#593ea9"/></linearGradient>
</defs>
<rect x="362.1" y="54.00" width="132.3" height="3.13" fill="url(#h1_0)" shape-rendering="crispEdges"/>
<rect x="362.1" y="56.52" width="132.3" height="3.13" fill="url(#h1_1)" shape-rendering="crispEdges"/>
<rect x="362.1" y="59.05" width="132.3" height="3.13" fill="url(#h1_2)" shape-rendering="crispEdges"/>
<rect x="362.1" y="61.58" width="132.3" height="3.13" fill="url(#h1_3)" shape-rendering="crispEdges"/>
<rect x="362.1" y="64.10" width="132.3" height="3.13" fill="url(#h1_4)" shape-rendering="crispEdges"/>
<rect x="362.1" y="66.62" width="132.3" height="3.13" fill="url(#h1_5)" shape-rendering="crispEdges"/>
<rect x="362.1" y="69.15" width="132.3" height="3.13" fill="url(#h1_6)" shape-rendering="crispEdges"/>
<rect x="362.1" y="71.68" width="132.3" height="3.13" fill="url(#h1_7)" shape-rendering="crispEdges"/>
<rect x="362.1" y="74.20" width="132.3" height="3.13" fill="url(#h1_8)" shape-rendering="crispEdges"/>
<rect x="362.1" y="76.72" width="132.3" height="3.13" fill="url(#h1_9)" shape-rendering="crispEdges"/>
<rect x="362.1" y="79.25" width="132.3" height="3.13" fill="url(#h1_10)" shape-rendering="crispEdges"/>
<rect x="362.1" y="81.78" width="132.3" height="3.13" fill="url(#h1_11)" shape-rendering="crispEdges"/>
<rect x="362.1" y="84.30" width="132.3" height="3.13" fill="url(#h1_12)" shape-rendering="crispEdges"/>
<rect x="362.1" y="86.83" width="132.3" height="3.13" fill="url(#h1_13)" shape-rendering="crispEdges"/>
<rect x="362.1" y="89.35" width="132.3" height="3.13" fill="url(#h1_14)" shape-rendering="crispEdges"/>
<rect x="362.1" y="91.88" width="132.3" height="3.13" fill="url(#h1_15)" shape-rendering="crispEdges"/>
<rect x="362.1" y="94.40" width="132.3" height="3.13" fill="url(#h1_16)" shape-rendering="crispEdges"/>
<rect x="362.1" y="96.93" width="132.3" height="3.13" fill="url(#h1_17)" shape-rendering="crispEdges"/>
<rect x="362.1" y="99.45" width="132.3" height="3.13" fill="url(#h1_18)" shape-rendering="crispEdges"/>
<rect x="362.1" y="101.98" width="132.3" height="3.13" fill="url(#h1_19)" shape-rendering="crispEdges"/>
<rect x="362.1" y="104.50" width="132.3" height="3.13" fill="url(#h1_20)" shape-rendering="crispEdges"/>
<rect x="362.1" y="107.03" width="132.3" height="3.13" fill="url(#h1_21)" shape-rendering="crispEdges"/>
<rect x="362.1" y="109.55" width="132.3" height="3.13" fill="url(#h1_22)" shape-rendering="crispEdges"/>
<rect x="362.1" y="112.08" width="132.3" height="3.13" fill="url(#h1_23)" shape-rendering="crispEdges"/>
<rect x="362.1" y="114.60" width="132.3" height="3.13" fill="url(#h1_24)" shape-rendering="crispEdges"/>
<rect x="362.1" y="117.12" width="132.3" height="3.13" fill="url(#h1_25)" shape-rendering="crispEdges"/>
<rect x="362.1" y="119.65" width="132.3" height="3.13" fill="url(#h1_26)" shape-rendering="crispEdges"/>
<rect x="362.1" y="122.18" width="132.3" height="3.13" fill="url(#h1_27)" shape-rendering="crispEdges"/>
<rect x="362.1" y="124.70" width="132.3" height="3.13" fill="url(#h1_28)" shape-rendering="crispEdges"/>
<rect x="362.1" y="127.23" width="132.3" height="3.13" fill="url(#h1_29)" shape-rendering="crispEdges"/>
<rect x="362.1" y="129.75" width="132.3" height="3.13" fill="url(#h1_30)" shape-rendering="crispEdges"/>
<rect x="362.1" y="132.28" width="132.3" height="3.13" fill="url(#h1_31)" shape-rendering="crispEdges"/>
<rect x="362.1" y="134.80" width="132.3" height="3.13" fill="url(#h1_32)" shape-rendering="crispEdges"/>
<rect x="362.1" y="137.33" width="132.3" height="3.13" fill="url(#h1_33)" shape-rendering="crispEdges"/>
<rect x="362.1" y="139.85" width="132.3" height="3.13" fill="url(#h1_34)" shape-rendering="crispEdges"/>
<rect x="362.1" y="142.38" width="132.3" height="3.13" fill="url(#h1_35)" shape-rendering="crispEdges"/>
<rect x="362.1" y="54.0" width="132.3" height="90.9" fill="none" stroke="#2a2a2a" stroke-width="1.4"/>
<line x1="374.0" y1="144.9" x2="374.0" y2="141.4" stroke="#1c1c1c" stroke-width="1.2"/>
<line x1="374.0" y1="54.0" x2="374.0" y2="57.0" stroke="#1c1c1c" stroke-width="1.2"/>
<line x1="398.2" y1="144.9" x2="398.2" y2="141.4" stroke="#1c1c1c" stroke-width="1.2"/>
<line x1="398.2" y1="54.0" x2="398.2" y2="57.0" stroke="#1c1c1c" stroke-width="1.2"/>
<line x1="422.5" y1="144.9" x2="422.5" y2="141.4" stroke="#1c1c1c" stroke-width="1.2"/>
<line x1="422.5" y1="54.0" x2="422.5" y2="57.0" stroke="#1c1c1c" stroke-width="1.2"/>
<line x1="446.7" y1="144.9" x2="446.7" y2="141.4" stroke="#1c1c1c" stroke-width="1.2"/>
<line x1="446.7" y1="54.0" x2="446.7" y2="57.0" stroke="#1c1c1c" stroke-width="1.2"/>
<line x1="471.0" y1="144.9" x2="471.0" y2="141.4" stroke="#1c1c1c" stroke-width="1.2"/>
<line x1="471.0" y1="54.0" x2="471.0" y2="57.0" stroke="#1c1c1c" stroke-width="1.2"/>
<text transform="translate(359.5 148.0) scale(1.05 1)" font-size="11" text-anchor="end" fill="#1a1a1a" stroke="#1a1a1a" stroke-width="0.22">0</text>
<line x1="362.1" y1="122.2" x2="365.6" y2="122.2" stroke="#1c1c1c" stroke-width="1.2"/>
<line x1="494.4" y1="122.2" x2="490.9" y2="122.2" stroke="#1c1c1c" stroke-width="1.2"/>
<text transform="translate(359.5 125.9) scale(1.05 1)" font-size="11" text-anchor="end" fill="#1a1a1a" stroke="#1a1a1a" stroke-width="0.22">90</text>
<line x1="362.1" y1="99.5" x2="365.6" y2="99.5" stroke="#1c1c1c" stroke-width="1.2"/>
<line x1="494.4" y1="99.5" x2="490.9" y2="99.5" stroke="#1c1c1c" stroke-width="1.2"/>
<text transform="translate(359.5 103.2) scale(1.05 1)" font-size="11" text-anchor="end" fill="#1a1a1a" stroke="#1a1a1a" stroke-width="0.22">180</text>
<line x1="362.1" y1="76.7" x2="365.6" y2="76.7" stroke="#1c1c1c" stroke-width="1.2"/>
<line x1="494.4" y1="76.7" x2="490.9" y2="76.7" stroke="#1c1c1c" stroke-width="1.2"/>
<text transform="translate(359.5 80.4) scale(1.05 1)" font-size="11" text-anchor="end" fill="#1a1a1a" stroke="#1a1a1a" stroke-width="0.22">270</text>
<text transform="translate(359.5 57.7) scale(1.05 1)" font-size="11" text-anchor="end" fill="#1a1a1a" stroke="#1a1a1a" stroke-width="0.22">360</text>
<text transform="translate(374.0 156.2) scale(1.1 1)" font-size="11" text-anchor="middle" fill="#1a1a1a" stroke="#1a1a1a" stroke-width="0.22">0</text>
<text transform="translate(398.2 156.2) scale(1.1 1)" font-size="11" text-anchor="middle" fill="#1a1a1a" stroke="#1a1a1a" stroke-width="0.22">2</text>
<text transform="translate(422.5 156.2) scale(1.1 1)" font-size="11" text-anchor="middle" fill="#1a1a1a" stroke="#1a1a1a" stroke-width="0.22">4</text>
<text transform="translate(446.7 156.2) scale(1.1 1)" font-size="11" text-anchor="middle" fill="#1a1a1a" stroke="#1a1a1a" stroke-width="0.22">6</text>
<text transform="translate(471.0 156.2) scale(1.1 1)" font-size="11" text-anchor="middle" fill="#1a1a1a" stroke="#1a1a1a" stroke-width="0.22">8</text>
<text transform="translate(494.0 156.2) scale(1.1 1)" font-size="11" text-anchor="middle" fill="#1a1a1a" stroke="#1a1a1a" stroke-width="0.22">10</text>
<text transform="translate(435.8 166.1) scale(1.1 1)" font-size="11" text-anchor="middle" fill="#1a1a1a" stroke="#1a1a1a" stroke-width="0.22">Delay time (ps)</text>
<defs>
<linearGradient id="h2_0"><stop offset="0.000" stop-color="#a4c733"/><stop offset="0.051" stop-color="#afca32"/><stop offset="0.088" stop-color="#bed031"/><stop offset="0.093" stop-color="#c2d131"/><stop offset="0.097" stop-color="#ced630"/><stop offset="0.106" stop-color="#f6e52d"/><stop offset="0.111" stop-color="#f9d72c"/><stop offset="0.116" stop-color="#f7b02a"/><stop offset="0.120" stop-color="#e24824"/><stop offset="0.125" stop-color="#c32421"/><stop offset="0.130" stop-color="#bd2220"/><stop offset="0.134" stop-color="#df3924"/><stop offset="0.139" stop-color="#f7b62a"/><stop offset="0.144" stop-color="#f9d62c"/><stop offset="0.148" stop-color="#ece12e"/><stop offset="0.153" stop-color="#cad430"/><stop offset="0.158" stop-color="#93c235"/><stop offset="0.162" stop-color="#4fae3b"/><stop offset="0.167" stop-color="#34a760"/><stop offset="0.172" stop-color="#29a190"/><stop offset="0.176" stop-color="#2399ba"/><stop offset="0.181" stop-color="#2681c2"/><stop offset="0.185" stop-color="#296fc7"/><stop offset="0.190" stop-color="#2c67c5"/><stop offset="0.204" stop-color="#325bc0"/><stop offset="0.227" stop-color="#3752bc"/><stop offset="0.274" stop-color="#5441ab"/><stop offset="0.297" stop-color="#573fa9"/><stop offset="0.344" stop-color="#5242ad"/><stop offset="0.460" stop-color="#3753bc"/><stop offset="0.692" stop-color="#335abf"/><stop offset="1.000" stop-color="#325dc0"/></linearGradient>
<linearGradient id="h2_1"><stop offset="0.000" stop-color="#a4c733"/><stop offset="0.051" stop-color="#afca32"/><stop offset="0.088" stop-color="#bed031"/><stop offset="0.093" stop-color="#c2d131"/><stop offset="0.097" stop-color="#ced630"/><stop offset="0.106" stop-color="#f6e52d"/><stop offset="0.111" stop-color="#f9d72c"/><stop offset="0.116" stop-color="#f7b02a"/><stop offset="0.120" stop-color="#e24824"/><stop offset="0.125" stop-color="#c32421"/><stop offset="0.130" stop-color="#bd2220"/><stop offset="0.134" stop-color="#df3924"/><stop offset="0.139" stop-color="#f7b62a"/><stop offset="0.144" stop-color="#f9d62c"/><stop offset="0.148" stop-color="#ece12e"/><stop offset="0.153" stop-color="#cad430"/><stop offset="0.158" stop-color="#93c235"/><stop offset="0.162" stop-color="#4fae3b"/><stop offset="0.167" stop-color="#34a760"/><stop offset="0.172" stop-color="#29a190"/><stop offset="0.176" stop-color="#2399ba"/><stop offset="0.181" stop-color="#2681c2"/><stop offset="0.185" stop-color="#296fc7"/><stop offset="0.195" stop-color="#2f63c3"/><stop offset="0.204" stop-color="#325bc0"/><stop offset="0.232" stop-color="#3752bc"/><stop offset="0.274" stop-color="#4c45b0"/><stop offset="0.320" stop-color="#4e44af"/><stop offset="0.436" stop-color="#3752bc"/><stop offset="0.460" stop-color="#3653bd"/><stop offset="0.692" stop-color="#335abf"/><stop offset="1.000" stop-color="#325dc0"/></linearGradient>
<linearGradient id="h2_2"><stop offset="0.000" stop-color="#a4c733"/><stop offset="0.051" stop-color="#afca32"/><stop offset="0.088" stop-color="#bed031"/><stop offset="0.093" stop-color="#c2d131"/><stop offset="0.097" stop-color="#ced630"/><stop offset="0.106" stop-color="#f6e52d"/><stop offset="0.111" stop-color="#f9d72c"/><stop offset="0.116" stop-color="#f7b02a"/><stop offset="0.120" stop-color="#e24824"/><stop offset="0.125" stop-color="#c32421"/><stop offset="0.130" stop-color="#bd2220"/><stop offset="0.134" stop-color="#df3924"/><stop offset="0.139" stop-color="#f7b62a"/><stop offset="0.144" stop-color="#f9d62c"/><stop offset="0.148" stop-color="#ece12e"/><stop offset="0.153" stop-color="#cad430"/><stop offset="0.158" stop-color="#93c235"/><stop offset="0.162" stop-color="#4fae3b"/><stop offset="0.167" stop-color="#34a760"/><stop offset="0.172" stop-color="#29a190"/><stop offset="0.176" stop-color="#2399ba"/><stop offset="0.181" stop-color="#2681c2"/><stop offset="0.185" stop-color="#296fc7"/><stop offset="0.190" stop-color="#2c67c5"/><stop offset="0.209" stop-color="#3359bf"/><stop offset="0.237" stop-color="#3752bc"/><stop offset="0.269" stop-color="#4549b4"/><stop offset="0.320" stop-color="#4848b2"/><stop offset="0.460" stop-color="#3654bd"/><stop offset="1.000" stop-color="#325dc0"/></linearGradient>
<linearGradient id="h2_3"><stop offset="0.000" stop-color="#a4c733"/><stop offset="0.051" stop-color="#afca32"/><stop offset="0.088" stop-color="#bed031"/><stop offset="0.093" stop-color="#c2d131"/><stop offset="0.097" stop-color="#ced630"/><stop offset="0.106" stop-color="#f6e52d"/><stop offset="0.111" stop-color="#f9d72c"/><stop offset="0.116" stop-color="#f7b02a"/><stop offset="0.120" stop-color="#e24824"/><stop offset="0.125" stop-color="#c32421"/><stop offset="0.130" stop-color="#bd2220"/><stop offset="0.134" stop-color="#df3924"/><stop offset="0.139" stop-color="#f7b62a"/><stop offset="0.144" stop-color="#f9d62c"/><stop offset="0.148" stop-color="#ece12e"/><stop offset="0.153" stop-color="#cad430"/><stop offset="0.158" stop-color="#93c235"/><stop offset="0.162" stop-color="#4fae3b"/><stop offset="0.167" stop-color="#34a760"/><stop offset="0.172" stop-color="#29a190"/><stop offset="0.176" stop-color="#2399ba"/><stop offset="0.181" stop-color="#2681c2"/><stop offset="0.185" stop-color="#296fc7"/><stop offset="0.199" stop-color="#315fc1"/><stop offset="0.218" stop-color="#3556be"/><stop offset="0.241" stop-color="#3852bc"/><stop offset="0.269" stop-color="#424bb6"/><stop offset="0.297" stop-color="#4649b4"/><stop offset="0.413" stop-color="#3851bb"/><stop offset="0.460" stop-color="#3654bd"/><stop offset="1.000" stop-color="#325dc0"/></linearGradient>
<linearGradient id="h2_4"><stop offset="0.000" stop-color="#a4c733"/><stop offset="0.051" stop-color="#afca32"/><stop offset="0.088" stop-color="#bed031"/><stop offset="0.093" stop-color="#c2d131"/><stop offset="0.097" stop-color="#ced630"/><stop offset="0.106" stop-color="#f6e52d"/><stop offset="0.111" stop-color="#f9d72c"/><stop offset="0.116" stop-color="#f7b02a"/><stop offset="0.120" stop-color="#e24824"/><stop offset="0.125" stop-color="#c32421"/><stop offset="0.130" stop-color="#bd2220"/><stop offset="0.134" stop-color="#df3924"/><stop offset="0.139" stop-color="#f7b62a"/><stop offset="0.144" stop-color="#f9d62c"/><stop offset="0.148" stop-color="#ece12e"/><stop offset="0.153" stop-color="#cad430"/><stop offset="0.158" stop-color="#93c235"/><stop offset="0.162" stop-color="#4fae3b"/><stop offset="0.167" stop-color="#34a760"/><stop offset="0.172" stop-color="#29a190"/><stop offset="0.176" stop-color="#2399ba"/><stop offset="0.181" stop-color="#2681c2"/><stop offset="0.185" stop-color="#296fc7"/><stop offset="0.199" stop-color="#315fc1"/><stop offset="0.218" stop-color="#3556be"/><stop offset="0.241" stop-color="#3752bc"/><stop offset="0.274" stop-color="#434bb5"/><stop offset="0.320" stop-color="#444ab5"/><stop offset="0.413" stop-color="#3852bc"/><stop offset="0.460" stop-color="#3654bd"/><stop offset="1.000" stop-color="#325dc0"/></linearGradient>
<linearGradient id="h2_5"><stop offset="0.000" stop-color="#a4c733"/><stop offset="0.051" stop-color="#afca32"/><stop offset="0.088" stop-color="#bed031"/><stop offset="0.093" stop-color="#c2d131"/><stop offset="0.097" stop-color="#ced630"/><stop offset="0.106" stop-color="#f6e52d"/><stop offset="0.111" stop-color="#f9d72c"/><stop offset="0.116" stop-color="#f7b02a"/><stop offset="0.120" stop-color="#e24824"/><stop offset="0.125" stop-color="#c32421"/><stop offset="0.130" stop-color="#bd2220"/><stop offset="0.134" stop-color="#df3924"/><stop offset="0.139" stop-color="#f7b62a"/><stop offset="0.144" stop-color="#f9d62c"/><stop offset="0.148" stop-color="#ece12e"/><stop offset="0.153" stop-color="#cad430"/><stop offset="0.158" stop-color="#93c235"/><stop offset="0.162" stop-color="#4fae3b"/><stop offset="0.167" stop-color="#34a760"/><stop offset="0.172" stop-color="#29a190"/><stop offset="0.176" stop-color="#2399ba"/><stop offset="0.181" stop-color="#2681c2"/><stop offset="0.185" stop-color="#296fc7"/><stop offset="0.190" stop-color="#2c67c5"/><stop offset="0.199" stop-color="#315fc1"/><stop offset="0.218" stop-color="#3556be"/><stop offset="0.241" stop-color="#3851bb"/><stop offset="0.274" stop-color="#444ab5"/><stop offset="0.320" stop-color="#454ab4"/><stop offset="0.413" stop-color="#3851bb"/><stop offset="0.460" stop-color="#3654bd"/><stop offset="1.000" stop-color="#325dc0"/></linearGradient>
<linearGradient id="h2_6"><stop offset="0.000" stop-color="#a4c733"/><stop offset="0.051" stop-color="#afca32"/><stop offset="0.088" stop-color="#bed031"/><stop offset="0.093" stop-color="#c2d131"/><stop offset="0.097" stop-color="#ced630"/><stop offset="0.106" stop-color="#f6e52d"/><stop offset="0.111" stop-color="#f9d72c"/><stop offset="0.116" stop-color="#f7b02a"/><stop offset="0.120" stop-color="#e24824"/><stop offset="0.125" stop-color="#c32421"/><stop offset="0.130" stop-color="#bd2220"/><stop offset="0.134" stop-color="#df3924"/><stop offset="0.139" stop-color="#f7b62a"/><stop offset="0.144" stop-color="#f9d62c"/><stop offset="0.148" stop-color="#ece12e"/><stop offset="0.153" stop-color="#cad430"/><stop offset="0.158" stop-color="#93c235"/><stop offset="0.162" stop-color="#4fae3b"/><stop offset="0.167" stop-color="#34a760"/><stop offset="0.172" stop-color="#29a190"/><stop offset="0.176" stop-color="#2399ba"/><stop offset="0.181" stop-color="#2681c2"/><stop offset="0.185" stop-color="#296fc7"/><stop offset="0.190" stop-color="#2c67c5"/><stop offset="0.199" stop-color="#315fc1"/><stop offset="0.209" stop-color="#3359bf"/><stop offset="0.237" stop-color="#3852bc"/><stop offset="0.274" stop-color="#4748b3"/><stop offset="0.320" stop-color="#4947b2"/><stop offset="0.460" stop-color="#3654bd"/><stop offset="1.000" stop-color="#325dc0"/></linearGradient>
<linearGradient id="h2_7"><stop offset="0.000" stop-color="#a4c733"/><stop offset="0.051" stop-color="#afca32"/><stop offset="0.088" stop-color="#bed031"/><stop offset="0.093" stop-color="#c2d131"/><stop offset="0.097" stop-color="#ced630"/><stop offset="0.106" stop-color="#f6e52d"/><stop offset="0.111" stop-color="#f9d72c"/><stop offset="0.116" stop-color="#f7b02a"/><stop offset="0.120" stop-color="#e24824"/><stop offset="0.125" stop-color="#c32421"/><stop offset="0.130" stop-color="#bd2220"/><stop offset="0.134" stop-color="#df3924"/><stop offset="0.139" stop-color="#f7b62a"/><stop offset="0.144" stop-color="#f9d62c"/><stop offset="0.148" stop-color="#ece12e"/><stop offset="0.153" stop-color="#cad430"/><stop offset="0.158" stop-color="#93c235"/><stop offset="0.162" stop-color="#4fae3b"/><stop offset="0.167" stop-color="#34a760"/><stop offset="0.172" stop-color="#29a190"/><stop offset="0.176" stop-color="#2399ba"/><stop offset="0.181" stop-color="#2681c2"/><stop offset="0.185" stop-color="#296fc7"/><stop offset="0.190" stop-color="#2c67c5"/><stop offset="0.204" stop-color="#325bc0"/><stop offset="0.232" stop-color="#3752bc"/><stop offset="0.269" stop-color="#4b46b1"/><stop offset="0.297" stop-color="#4f43ae"/><stop offset="0.344" stop-color="#4b46b1"/><stop offset="0.460" stop-color="#3653bd"/><stop offset="0.692" stop-color="#335abf"/><stop offset="1.000" stop-color="#325dc0"/></linearGradient>
<linearGradient id="h2_8"><stop offset="0.000" stop-color="#a4c733"/><stop offset="0.051" stop-color="#afca32"/><stop offset="0.088" stop-color="#bed031"/><stop offset="0.093" stop-color="#c2d131"/><stop offset="0.097" stop-color="#ced630"/><stop offset="0.106" stop-color="#f6e52d"/><stop offset="0.111" stop-color="#f9d72c"/><stop offset="0.116" stop-color="#f7b02a"/><stop offset="0.120" stop-color="#e24824"/><stop offset="0.125" stop-color="#c32421"/><stop offset="0.130" stop-color="#bd2220"/><stop offset="0.134" stop-color="#df3924"/><stop offset="0.139" stop-color="#f7b62a"/><stop offset="0.144" stop-color="#f9d62c"/><stop offset="0.148" stop-color="#ece12e"/><stop offset="0.153" stop-color="#cad430"/><stop offset="0.158" stop-color="#93c235"/><stop offset="0.162" stop-color="#4fae3b"/><stop offset="0.167" stop-color="#34a760"/><stop offset="0.172" stop-color="#29a190"/><stop offset="0.176" stop-color="#2399ba"/><stop offset="0.181" stop-color="#2681c2"/><stop offset="0.185" stop-color="#296fc7"/><stop offset="0.190" stop-color="#2c67c5"/><stop offset="0.204" stop-color="#325bc0"/><stop offset="0.227" stop-color="#3752bc"/><stop offset="0.269" stop-color="#4f43ae"/><stop offset="0.297" stop-color="#5540ab"/><stop offset="0.367" stop-color="#4b46b1"/><stop offset="0.436" stop-color="#3951bb"/><stop offset="0.460" stop-color="#3753bc"/><stop offset="0.692" stop-color="#335abf"/><stop offset="1.000" stop-color="#325dc0"/></linearGradient>
<linearGradient id="h2_9"><stop offset="0.000" stop-color="#a4c733"/><stop offset="0.051" stop-color="#afca32"/><stop offset="0.088" stop-color="#bed031"/><stop offset="0.093" stop-color="#c2d131"/><stop offset="0.097" stop-color="#ced630"/><stop offset="0.106" stop-color="#f6e52d"/><stop offset="0.111" stop-color="#f9d72c"/><stop offset="0.116" stop-color="#f7b02a"/><stop offset="0.120" stop-color="#e24824"/><stop offset="0.125" stop-color="#c32421"/><stop offset="0.130" stop-color="#bd2220"/><stop offset="0.134" stop-color="#df3924"/><stop offset="0.139" stop-color="#f7b62a"/><stop offset="0.144" stop-color="#f9d62c"/><stop offset="0.148" stop-color="#ece12e"/><stop offset="0.153" stop-color="#cad430"/><stop offset="0.158" stop-color="#93c235"/><stop offset="0.162" stop-color="#4fae3b"/><stop offset="0.167" stop-color="#34a760"/><stop offset="0.172" stop-color="#29a190"/><stop offset="0.176" stop-color="#2399ba"/><stop offset="0.181" stop-color="#2681c2"/><stop offset="0.185" stop-color="#296fc7"/><stop offset="0.190" stop-color="#2c67c5"/><stop offset="0.204" stop-color="#325bc0"/><stop offset="0.227" stop-color="#3752bc"/><stop offset="0.274" stop-color="#5540ab"/><stop offset="0.297" stop-color="#593ea9"/><stop offset="0.344" stop-color="#5341ac"/><stop offset="0.460" stop-color="#3753bc"/><stop offset="0.692" stop-color="#335abf"/><stop offset="1.000" stop-color="#325dc0"/></linearGradient>
<linearGradient id="h2_10"><stop offset="0.000" stop-color="#a4c733"/><stop offset="0.051" stop-color="#afca32"/><stop offset="0.088" stop-color="#bed031"/><stop offset="0.093" stop-color="#c2d131"/><stop offset="0.097" stop-color="#ced630"/><stop offset="0.106" stop-color="#f6e52d"/><stop offset="0.111" stop-color="#f9d72c"/><stop offset="0.116" stop-color="#f7b02a"/><stop offset="0.120" stop-color="#e24824"/><stop offset="0.125" stop-color="#c32421"/><stop offset="0.130" stop-color="#bd2220"/><stop offset="0.134" stop-color="#df3924"/><stop offset="0.139" stop-color="#f7b62a"/><stop offset="0.144" stop-color="#f9d62c"/><stop offset="0.148" stop-color="#ece12e"/><stop offset="0.153" stop-color="#cad430"/><stop offset="0.158" stop-color="#93c235"/><stop offset="0.162" stop-color="#4fae3b"/><stop offset="0.167" stop-color="#34a760"/><stop offset="0.172" stop-color="#29a190"/><stop offset="0.176" stop-color="#2399ba"/><stop offset="0.181" stop-color="#2681c2"/><stop offset="0.185" stop-color="#296fc7"/><stop offset="0.190" stop-color="#2c67c5"/><stop offset="0.204" stop-color="#325bc0"/><stop offset="0.227" stop-color="#3851bb"/><stop offset="0.274" stop-color="#573faa"/><stop offset="0.297" stop-color="#5a3da8"/><stop offset="0.344" stop-color="#5440ab"/><stop offset="0.460" stop-color="#3752bc"/><stop offset="0.692" stop-color="#335abf"/><stop offset="1.000" stop-color="#325dc0"/></linearGradient>
<linearGradient id="h2_11"><stop offset="0.000" stop-color="#a4c733"/><stop offset="0.051" stop-color="#afca32"/><stop offset="0.088" stop-color="#bed031"/><stop offset="0.093" stop-color="#c2d131"/><stop offset="0.097" stop-color="#ced630"/><stop offset="0.106" stop-color="#f6e52d"/><stop offset="0.111" stop-color="#f9d72c"/><stop offset="0.116" stop-color="#f7b02a"/><stop offset="0.120" stop-color="#e24824"/><stop offset="0.125" stop-color="#c32421"/><stop offset="0.130" stop-color="#bd2220"/><stop offset="0.134" stop-color="#df3924"/><stop offset="0.139" stop-color="#f7b62a"/><stop offset="0.144" stop-color="#f9d62c"/><stop offset="0.148" stop-color="#ece12e"/><stop offset="0.153" stop-color="#cad430"/><stop offset="0.158" stop-color="#93c235"/><stop offset="0.162" stop-color="#4fae3b"/><stop offset="0.167" stop-color="#34a760"/><stop offset="0.172" stop-color="#29a190"/><stop offset="0.176" stop-color="#2399ba"/><stop offset="0.181" stop-color="#2681c2"/><stop offset="0.185" stop-color="#296fc7"/><stop offset="0.190" stop-color="#2c67c5"/><stop offset="0.204" stop-color="#325bc0"/><stop offset="0.227" stop-color="#3752bc"/><stop offset="0.274" stop-color="#5540ab"/><stop offset="0.297" stop-color="#593ea9"/><stop offset="0.344" stop-color="#5341ac"/><stop offset="0.460" stop-color="#3753bc"/><stop offset="0.692" stop-color="#335abf"/><stop offset="1.000" stop-color="#325dc0"/></linearGradient>
<linearGradient id="h2_12"><stop offset="0.000" stop-color="#a4c733"/><stop offset="0.051" stop-color="#afca32"/><stop offset="0.088" stop-color="#bed031"/><stop offset="0.093" stop-color="#c2d131"/><stop offset="0.097" stop-color="#ced630"/><stop offset="0.106" stop-color="#f6e52d"/><stop offset="0.111" stop-color="#f9d72c"/><stop offset="0.116" stop-color="#f7b02a"/><stop offset="0.120" stop-color="#e24824"/><stop offset="0.125" stop-color="#c32421"/><stop offset="0.130" stop-color="#bd2220"/><stop offset="0.134" stop-color="#df3924"/><stop offset="0.139" stop-color="#f7b62a"/><stop offset="0.144" stop-color="#f9d62c"/><stop offset="0.148" stop-color="#ece12e"/><stop offset="0.153" stop-color="#cad430"/><stop offset="0.158" stop-color="#93c235"/><stop offset="0.162" stop-color="#4fae3b"/><stop offset="0.167" stop-color="#34a760"/><stop offset="0.172" stop-color="#29a190"/><stop offset="0.176" stop-color="#2399ba"/><stop offset="0.181" stop-color="#2681c2"/><stop offset="0.185" stop-color="#296fc7"/><stop offset="0.190" stop-color="#2c67c5"/><stop offset="0.204" stop-color="#325bc0"/><stop offset="0.232" stop-color="#3951bb"/><stop offset="0.269" stop-color="#4f43ae"/><stop offset="0.297" stop-color="#5540ab"/><stop offset="0.344" stop-color="#4f43ae"/><stop offset="0.436" stop-color="#3951bb"/><stop offset="0.460" stop-color="#3753bc"/><stop offset="0.692" stop-color="#335abf"/><stop offset="1.000" stop-color="#325dc0"/></linearGradient>
<linearGradient id="h2_13"><stop offset="0.000" stop-color="#a4c733"/><stop offset="0.051" stop-color="#afca32"/><stop offset="0.088" stop-color="#bed031"/><stop offset="0.093" stop-color="#c2d131"/><stop offset="0.097" stop-color="#ced630"/><stop offset="0.106" stop-color="#f6e52d"/><stop offset="0.111" stop-color="#f9d72c"/><stop offset="0.116" stop-color="#f7b02a"/><stop offset="0.120" stop-color="#e24824"/><stop offset="0.125" stop-color="#c32421"/><stop offset="0.130" stop-color="#bd2220"/><stop offset="0.134" stop-color="#df3924"/><stop offset="0.139" stop-color="#f7b62a"/><stop offset="0.144" stop-color="#f9d62c"/><stop offset="0.148" stop-color="#ece12e"/><stop offset="0.153" stop-color="#cad430"/><stop offset="0.158" stop-color="#93c235"/><stop offset="0.162" stop-color="#4fae3b"/><stop offset="0.167" stop-color="#34a760"/><stop offset="0.172" stop-color="#29a190"/><stop offset="0.176" stop-color="#2399ba"/><stop offset="0.181" stop-color="#2681c2"/><stop offset="0.185" stop-color="#296fc7"/><stop offset="0.195" stop-color="#2f63c3"/><stop offset="0.204" stop-color="#325bc0"/><stop offset="0.232" stop-color="#3752bc"/><stop offset="0.274" stop-color="#4c45b0"/><stop offset="0.320" stop-color="#4d45af"/><stop offset="0.436" stop-color="#3752bc"/><stop offset="0.460" stop-color="#3653bd"/><stop offset="0.692" stop-color="#335abf"/><stop offset="1.000" stop-color="#325dc0"/></linearGradient>
<linearGradient id="h2_14"><stop offset="0.000" stop-color="#a4c733"/><stop offset="0.051" stop-color="#afca32"/><stop offset="0.088" stop-color="#bed031"/><stop offset="0.093" stop-color="#c2d131"/><stop offset="0.097" stop-color="#ced630"/><stop offset="0.106" stop-color="#f6e52d"/><stop offset="0.111" stop-color="#f9d72c"/><stop offset="0.116" stop-color="#f7b02a"/><stop offset="0.120" stop-color="#e24824"/><stop offset="0.125" stop-color="#c32421"/><stop offset="0.130" stop-color="#bd2220"/><stop offset="0.134" stop-color="#df3924"/><stop offset="0.139" stop-color="#f7b62a"/><stop offset="0.144" stop-color="#f9d62c"/><stop offset="0.148" stop-color="#ece12e"/><stop offset="0.153" stop-color="#cad430"/><stop offset="0.158" stop-color="#93c235"/><stop offset="0.162" stop-color="#4fae3b"/><stop offset="0.167" stop-color="#34a760"/><stop offset="0.172" stop-color="#29a190"/><stop offset="0.176" stop-color="#2399ba"/><stop offset="0.181" stop-color="#2681c2"/><stop offset="0.185" stop-color="#296fc7"/><stop offset="0.190" stop-color="#2c67c5"/><stop offset="0.209" stop-color="#3359bf"/><stop offset="0.237" stop-color="#3752bc"/><stop offset="0.269" stop-color="#4549b4"/><stop offset="0.320" stop-color="#4848b2"/><stop offset="0.460" stop-color="#3654bd"/><stop offset="1.000" stop-color="#325dc0"/></linearGradient>
<linearGradient id="h2_15"><stop offset="0.000" stop-color="#a4c733"/><stop offset="0.051" stop-color="#afca32"/><stop offset="0.088" stop-color="#bed031"/><stop offset="0.093" stop-color="#c2d131"/><stop offset="0.097" stop-color="#ced630"/><stop offset="0.106" stop-color="#f6e52d"/><stop offset="0.111" stop-color="#f9d72c"/><stop offset="0.116" stop-color="#f7b02a"/><stop offset="0.120" stop-color="#e24824"/><stop offset="0.125" stop-color="#c32421"/><stop offset="0.130" stop-color="#bd2220"/><stop offset="0.134" stop-color="#df3924"/><stop offset="0.139" stop-color="#f7b62a"/><stop offset="0.144" stop-color="#f9d62c"/><stop offset="0.148" stop-color="#ece12e"/><stop offset="0.153" stop-color="#cad430"/><stop offset="0.158" stop-color="#93c235"/><stop offset="0.162" stop-color="#4fae3b"/><stop offset="0.167" stop-color="#34a760"/><stop offset="0.172" stop-color="#29a190"/><stop offset="0.176" stop-color="#2399ba"/><stop offset="0.181" stop-color="#2681c2"/><stop offset="0.185" stop-color="#296fc7"/><stop offset="0.199" stop-color="#315fc1"/><stop offset="0.218" stop-color="#3556be"/><stop offset="0.241" stop-color="#3752bc"/><stop offset="0.274" stop-color="#434bb5"/><stop offset="0.320" stop-color="#444ab5"/><stop offset="0.413" stop-color="#3852bc"/><stop offset="0.460" stop-color="#3654bd"/><stop offset="1.000" stop-color="#325dc0"/></linearGradient>
<linearGradient id="h2_16"><stop offset="0.000" stop-color="#a4c733"/><stop offset="0.051" stop-color="#afca32"/><stop offset="0.088" stop-color="#bed031"/><stop offset="0.093" stop-color="#c2d131"/><stop offset="0.097" stop-color="#ced630"/><stop offset="0.106" stop-color="#f6e52d"/><stop offset="0.111" stop-color="#f9d72c"/><stop offset="0.116" stop-color="#f7b02a"/><stop offset="0.120" stop-color="#e24824"/><stop offset="0.125" stop-color="#c32421"/><stop offset="0.130" stop-color="#bd2220"/><stop offset="0.134" stop-color="#df3924"/><stop offset="0.139" stop-color="#f7b62a"/><stop offset="0.144" stop-color="#f9d62c"/><stop offset="0.148" stop-color="#ece12e"/><stop offset="0.153" stop-color="#cad430"/><stop offset="0.158" stop-color="#93c235"/><stop offset="0.162" stop-color="#4fae3b"/><stop offset="0.167" stop-color="#34a760"/><stop offset="0.172" stop-color="#29a190"/><stop offset="0.176" stop-color="#2399ba"/><stop offset="0.181" stop-color="#2681c2"/><stop offset="0.185" stop-color="#296fc7"/><stop offset="0.199" stop-color="#315fc1"/><stop offset="0.223" stop-color="#3555bd"/><stop offset="0.246" stop-color="#3752bc"/><stop offset="0.269" stop-color="#3f4db8"/><stop offset="0.320" stop-color="#414cb6"/><stop offset="0.436" stop-color="#3653bd"/><stop offset="1.000" stop-color="#325dc0"/></linearGradient>
<linearGradient id="h2_17"><stop offset="0.000" stop-color="#a4c733"/><stop offset="0.051" stop-color="#afca32"/><stop offset="0.088" stop-color="#bed031"/><stop offset="0.093" stop-color="#c2d131"/><stop offset="0.097" stop-color="#ced630"/><stop offset="0.106" stop-color="#f6e52d"/><stop offset="0.111" stop-color="#f9d72c"/><stop offset="0.116" stop-color="#f7b02a"/><stop offset="0.120" stop-color="#e24824"/><stop offset="0.125" stop-color="#c32421"/><stop offset="0.130" stop-color="#bd2220"/><stop offset="0.134" stop-color="#df3924"/><stop offset="0.139" stop-color="#f7b62a"/><stop offset="0.144" stop-color="#f9d62c"/><stop offset="0.148" stop-color="#ece12e"/><stop offset="0.153" stop-color="#cad430"/><stop offset="0.158" stop-color="#93c235"/><stop offset="0.162" stop-color="#4fae3b"/><stop offset="0.167" stop-color="#34a760"/><stop offset="0.172" stop-color="#29a190"/><stop offset="0.176" stop-color="#2399ba"/><stop offset="0.181" stop-color="#2681c2"/><stop offset="0.185" stop-color="#296fc7"/><stop offset="0.199" stop-color="#315fc1"/><stop offset="0.213" stop-color="#3458be"/><stop offset="0.269" stop-color="#3d4eb9"/><stop offset="0.297" stop-color="#404db7"/><stop offset="0.390" stop-color="#3851bb"/><stop offset="0.553" stop-color="#3457be"/><stop offset="1.000" stop-color="#325dc0"/></linearGradient>
<linearGradient id="h2_18"><stop offset="0.000" stop-color="#a4c733"/><stop offset="0.051" stop-color="#afca32"/><stop offset="0.088" stop-color="#bed031"/><stop offset="0.093" stop-color="#c2d131"/><stop offset="0.097" stop-color="#ced630"/><stop offset="0.106" stop-color="#f6e52d"/><stop offset="0.111" stop-color="#f9d72c"/><stop offset="0.116" stop-color="#f7b02a"/><stop offset="0.120" stop-color="#e24824"/><stop offset="0.125" stop-color="#c32421"/><stop offset="0.130" stop-color="#bd2220"/><stop offset="0.134" stop-color="#df3924"/><stop offset="0.139" stop-color="#f7b62a"/><stop offset="0.144" stop-color="#f9d62c"/><stop offset="0.148" stop-color="#ece12e"/><stop offset="0.153" stop-color="#cad430"/><stop offset="0.158" stop-color="#93c235"/><stop offset="0.162" stop-color="#4fae3b"/><stop offset="0.167" stop-color="#34a760"/><stop offset="0.172" stop-color="#29a190"/><stop offset="0.176" stop-color="#2399ba"/><stop offset="0.181" stop-color="#2681c2"/><stop offset="0.185" stop-color="#296fc7"/><stop offset="0.199" stop-color="#315fc1"/><stop offset="0.213" stop-color="#3458be"/><stop offset="0.251" stop-color="#3752bc"/><stop offset="0.274" stop-color="#3d4eb9"/><stop offset="0.297" stop-color="#3f4db8"/><stop offset="0.390" stop-color="#3752bc"/><stop offset="0.553" stop-color="#3457be"/><stop offset="1.000" stop-color="#325dc0"/></linearGradient>
<linearGradient id="h2_19"><stop offset="0.000" stop-color="#a4c733"/><stop offset="0.051" stop-color="#afca32"/><stop offset="0.088" stop-color="#bed031"/><stop offset="0.093" stop-color="#c2d131"/><stop offset="0.097" stop-color="#ced630"/><stop offset="0.106" stop-color="#f6e52d"/><stop offset="0.111" stop-color="#f9d72c"/><stop offset="0.116" stop-color="#f7b02a"/><stop offset="0.120" stop-color="#e24824"/><stop offset="0.125" stop-color="#c32421"/><stop offset="0.130" stop-color="#bd2220"/><stop offset="0.134" stop-color="#df3924"/><stop offset="0.139" stop-color="#f7b62a"/><stop offset="0.144" stop-color="#f9d62c"/><stop offset="0.148" stop-color="#ece12e"/><stop offset="0.153" stop-color="#cad430"/><stop offset="0.158" stop-color="#93c235"/><stop offset="0.162" stop-color="#4fae3b"/><stop offset="0.167" stop-color="#34a760"/><stop offset="0.172" stop-color="#29a190"/><stop offset="0.176" stop-color="#2399ba"/><stop offset="0.181" stop-color="#2681c2"/><stop offset="0.185" stop-color="#296fc7"/><stop offset="0.199" stop-color="#315fc1"/><stop offset="0.213" stop-color="#3458be"/><stop offset="0.269" stop-color="#3c4fb9"/><stop offset="0.297" stop-color="#3e4eb8"/><stop offset="0.390" stop-color="#3752bc"/><stop offset="0.553" stop-color="#3457be"/><stop offset="1.000" stop-color="#325dc0"/></linearGradient>
<linearGradient id="h2_20"><stop offset="0.000" stop-color="#a4c733"/><stop offset="0.051" stop-color="#afca32"/><stop offset="0.088" stop-color="#bed031"/><stop offset="0.093" stop-color="#c2d131"/><stop offset="0.097" stop-color="#ced630"/><stop offset="0.106" stop-color="#f6e52d"/><stop offset="0.111" stop-color="#f9d72c"/><stop offset="0.116" stop-color="#f7b02a"/><stop offset="0.120" stop-color="#e24824"/><stop offset="0.125" stop-color="#c32421"/><stop offset="0.130" stop-color="#bd2220"/><stop offset="0.134" stop-color="#df3924"/><stop offset="0.139" stop-color="#f7b62a"/><stop offset="0.144" stop-color="#f9d62c"/><stop offset="0.148" stop-color="#ece12e"/><stop offset="0.153" stop-color="#cad430"/><stop offset="0.158" stop-color="#93c235"/><stop offset="0.162" stop-color="#4fae3b"/><stop offset="0.167" stop-color="#34a760"/><stop offset="0.172" stop-color="#29a190"/><stop offset="0.176" stop-color="#2399ba"/><stop offset="0.181" stop-color="#2681c2"/><stop offset="0.185" stop-color="#296fc7"/><stop offset="0.199" stop-color="#315fc1"/><stop offset="0.213" stop-color="#3458be"/><stop offset="0.269" stop-color="#3c4fb9"/><stop offset="0.297" stop-color="#3e4eb8"/><stop offset="0.390" stop-color="#3752bc"/><stop offset="0.553" stop-color="#3457be"/><stop offset="1.000" stop-color="#325dc0"/></linearGradient>
<linearGradient id="h2_21"><stop offset="0.000" stop-color="#a4c733"/><stop offset="0.051" stop-color="#afca32"/><stop offset="0.088" stop-color="#bed031"/><stop offset="0.093" stop-color="#c2d131"/><stop offset="0.097" stop-color="#ced630"/><stop offset="0.106" stop-color="#f6e52d"/><stop offset="0.111" stop-color="#f9d72c"/><stop offset="0.116" stop-color="#f7b02a"/><stop offset="0.120" stop-color="#e24824"/><stop offset="0.125" stop-color="#c32421"/><stop offset="0.130" stop-color="#bd2220"/><stop offset="0.134" stop-color="#df3924"/><stop offset="0.139" stop-color="#f7b62a"/><stop offset="0.144" stop-color="#f9d62c"/><stop offset="0.148" stop-color="#ece12e"/><stop offset="0.153" stop-color="#cad430"/><stop offset="0.158" stop-color="#93c235"/><stop offset="0.162" stop-color="#4fae3b"/><stop offset="0.167" stop-color="#34a760"/><stop offset="0.172" stop-color="#29a190"/><stop offset="0.176" stop-color="#2399ba"/><stop offset="0.181" stop-color="#2681c2"/><stop offset="0.185" stop-color="#296fc7"/><stop offset="0.199" stop-color="#315fc1"/><stop offset="0.213" stop-color="#3458be"/><stop offset="0.251" stop-color="#3752bc"/><stop offset="0.274" stop-color="#3d4eb9"/><stop offset="0.297" stop-color="#3f4db8"/><stop offset="0.390" stop-color="#3752bc"/><stop offset="0.553" stop-color="#3457be"/><stop offset="1.000" stop-color="#325cc0"/></linearGradient>
<linearGradient id="h2_22"><stop offset="0.000" stop-color="#a4c733"/><stop offset="0.051" stop-color="#afca32"/><stop offset="0.088" stop-color="#bed031"/><stop offset="0.093" stop-color="#c2d131"/><stop offset="0.097" stop-color="#ced630"/><stop offset="0.106" stop-color="#f6e52d"/><stop offset="0.111" stop-color="#f9d72c"/><stop offset="0.116" stop-color="#f7b02a"/><stop offset="0.120" stop-color="#e24824"/><stop offset="0.125" stop-color="#c32421"/><stop offset="0.130" stop-color="#bd2220"/><stop offset="0.134" stop-color="#df3924"/><stop offset="0.139" stop-color="#f7b62a"/><stop offset="0.144" stop-color="#f9d62c"/><stop offset="0.148" stop-color="#ece12e"/><stop offset="0.153" stop-color="#cad430"/><stop offset="0.158" stop-color="#93c235"/><stop offset="0.162" stop-color="#4fae3b"/><stop offset="0.167" stop-color="#34a760"/><stop offset="0.172" stop-color="#29a190"/><stop offset="0.176" stop-color="#2399ba"/><stop offset="0.181" stop-color="#2681c2"/><stop offset="0.185" stop-color="#296fc7"/><stop offset="0.199" stop-color="#315fc1"/><stop offset="0.213" stop-color="#3458be"/><stop offset="0.251" stop-color="#3752bc"/><stop offset="0.274" stop-color="#3e4eb8"/><stop offset="0.553" stop-color="#3457be"/><stop offset="1.000" stop-color="#325cc0"/></linearGradient>
<linearGradient id="h2_23"><stop offset="0.000" stop-color="#a4c733"/><stop offset="0.051" stop-color="#afca32"/><stop offset="0.088" stop-color="#bed031"/><stop offset="0.093" stop-color="#c2d131"/><stop offset="0.097" stop-color="#ced630"/><stop offset="0.106" stop-color="#f6e52d"/><stop offset="0.111" stop-color="#f9d72c"/><stop offset="0.116" stop-color="#f7b02a"/><stop offset="0.120" stop-color="#e24824"/><stop offset="0.125" stop-color="#c32421"/><stop offset="0.130" stop-color="#bd2220"/><stop offset="0.134" stop-color="#df3924"/><stop offset="0.139" stop-color="#f7b62a"/><stop offset="0.144" stop-color="#f9d62c"/><stop offset="0.148" stop-color="#ece12e"/><stop offset="0.153" stop-color="#cad430"/><stop offset="0.158" stop-color="#93c235"/><stop offset="0.162" stop-color="#4fae3b"/><stop offset="0.167" stop-color="#34a760"/><stop offset="0.172" stop-color="#29a190"/><stop offset="0.176" stop-color="#2399ba"/><stop offset="0.181" stop-color="#2681c2"/><stop offset="0.185" stop-color="#296fc7"/><stop offset="0.199" stop-color="#315fc1"/><stop offset="0.213" stop-color="#3458be"/><stop offset="0.246" stop-color="#3752bc"/><stop offset="0.274" stop-color="#3f4db7"/><stop offset="0.320" stop-color="#404db7"/><stop offset="0.436" stop-color="#3653bd"/><stop offset="0.646" stop-color="#3459bf"/><stop offset="1.000" stop-color="#325cc0"/></linearGradient>
<linearGradient id="h2_24"><stop offset="0.000" stop-color="#a4c733"/><stop offset="0.051" stop-color="#afca32"/><stop offset="0.088" stop-color="#bed031"/><stop offset="0.093" stop-color="#c2d131"/><stop offset="0.097" stop-color="#ced630"/><stop offset="0.106" stop-color="#f6e52d"/><stop offset="0.111" stop-color="#f9d72c"/><stop offset="0.116" stop-color="#f7b02a"/><stop offset="0.120" stop-color="#e24824"/><stop offset="0.125" stop-color="#c32421"/><stop offset="0.130" stop-color="#bd2220"/><stop offset="0.134" stop-color="#df3924"/><stop offset="0.139" stop-color="#f7b62a"/><stop offset="0.144" stop-color="#f9d62c"/><stop offset="0.148" stop-color="#ece12e"/><stop offset="0.153" stop-color="#cad430"/><stop offset="0.158" stop-color="#93c235"/><stop offset="0.162" stop-color="#4fae3b"/><stop offset="0.167" stop-color="#34a760"/><stop offset="0.172" stop-color="#29a190"/><stop offset="0.176" stop-color="#2399ba"/><stop offset="0.181" stop-color="#2681c2"/><stop offset="0.185" stop-color="#296fc7"/><stop offset="0.199" stop-color="#315fc1"/><stop offset="0.223" stop-color="#3555bd"/><stop offset="0.246" stop-color="#3851bb"/><stop offset="0.269" stop-color="#414cb6"/><stop offset="0.320" stop-color="#434bb5"/><stop offset="0.436" stop-color="#3653bc"/><stop offset="0.646" stop-color="#3459bf"/><stop offset="1.000" stop-color="#325cc0"/></linearGradient>
<linearGradient id="h2_25"><stop offset="0.000" stop-color="#a4c733"/><stop offset="0.051" stop-color="#afca32"/><stop offset="0.088" stop-color="#bed031"/><stop offset="0.093" stop-color="#c2d131"/><stop offset="0.097" stop-color="#ced630"/><stop offset="0.106" stop-color="#f6e52d"/><stop offset="0.111" stop-color="#f9d72c"/><stop offset="0.116" stop-color="#f7b02a"/><stop offset="0.120" stop-color="#e24824"/><stop offset="0.125" stop-color="#c32421"/><stop offset="0.130" stop-color="#bd2220"/><stop offset="0.134" stop-color="#df3924"/><stop offset="0.139" stop-color="#f7b62a"/><stop offset="0.144" stop-color="#f9d62c"/><stop offset="0.148" stop-color="#ece12e"/><stop offset="0.153" stop-color="#cad430"/><stop offset="0.158" stop-color="#93c235"/><stop offset="0.162" stop-color="#4fae3b"/><stop offset="0.167" stop-color="#34a760"/><stop offset="0.172" stop-color="#29a190"/><stop offset="0.176" stop-color="#2399ba"/><stop offset="0.181" stop-color="#2681c2"/><stop offset="0.185" stop-color="#296fc7"/><stop offset="0.190" stop-color="#2c67c5"/><stop offset="0.199" stop-color="#315fc1"/><stop offset="0.209" stop-color="#3359bf"/><stop offset="0.237" stop-color="#3752bc"/><stop offset="0.274" stop-color="#4649b3"/><stop offset="0.320" stop-color="#4748b3"/><stop offset="0.413" stop-color="#3951bb"/><stop offset="0.460" stop-color="#3654bd"/><stop offset="1.000" stop-color="#325bc0"/></linearGradient>
<linearGradient id="h2_26"><stop offset="0.000" stop-color="#a4c733"/><stop offset="0.051" stop-color="#afca32"/><stop offset="0.088" stop-color="#bed031"/><stop offset="0.093" stop-color="#c2d131"/><stop offset="0.097" stop-color="#ced630"/><stop offset="0.106" stop-color="#f6e52d"/><stop offset="0.111" stop-color="#f9d72c"/><stop offset="0.116" stop-color="#f7b02a"/><stop offset="0.120" stop-color="#e24824"/><stop offset="0.125" stop-color="#c32421"/><stop offset="0.130" stop-color="#bd2220"/><stop offset="0.134" stop-color="#df3924"/><stop offset="0.139" stop-color="#f7b62a"/><stop offset="0.144" stop-color="#f9d62c"/><stop offset="0.148" stop-color="#ece12e"/><stop offset="0.153" stop-color="#cad430"/><stop offset="0.158" stop-color="#93c235"/><stop offset="0.162" stop-color="#4fae3b"/><stop offset="0.167" stop-color="#34a760"/><stop offset="0.172" stop-color="#29a190"/><stop offset="0.176" stop-color="#2399ba"/><stop offset="0.181" stop-color="#2681c2"/><stop offset="0.185" stop-color="#296fc7"/><stop offset="0.195" stop-color="#2f63c3"/><stop offset="0.204" stop-color="#325bc0"/><stop offset="0.232" stop-color="#3752bc"/><stop offset="0.274" stop-color="#4c45b0"/><stop offset="0.320" stop-color="#4d45af"/><stop offset="0.460" stop-color="#3653bc"/><stop offset="0.599" stop-color="#3458be"/><stop offset="1.000" stop-color="#335bc0"/></linearGradient>
<linearGradient id="h2_27"><stop offset="0.000" stop-color="#a4c733"/><stop offset="0.051" stop-color="#afca32"/><stop offset="0.088" stop-color="#bed031"/><stop offset="0.093" stop-color="#c2d131"/><stop offset="0.097" stop-color="#ced630"/><stop offset="0.106" stop-color="#f6e52d"/><stop offset="0.111" stop-color="#f9d72c"/><stop offset="0.116" stop-color="#f7b02a"/><stop offset="0.120" stop-color="#e24824"/><stop offset="0.125" stop-color="#c32421"/><stop offset="0.130" stop-color="#bd2220"/><stop offset="0.134" stop-color="#df3924"/><stop offset="0.139" stop-color="#f7b62a"/><stop offset="0.144" stop-color="#f9d62c"/><stop offset="0.148" stop-color="#ece12e"/><stop offset="0.153" stop-color="#cad430"/><stop offset="0.158" stop-color="#93c235"/><stop offset="0.162" stop-color="#4fae3b"/><stop offset="0.167" stop-color="#34a760"/><stop offset="0.172" stop-color="#29a190"/><stop offset="0.176" stop-color="#2399ba"/><stop offset="0.181" stop-color="#2681c2"/><stop offset="0.185" stop-color="#296fc7"/><stop offset="0.190" stop-color="#2c67c5"/><stop offset="0.204" stop-color="#325bc0"/><stop offset="0.227" stop-color="#3752bc"/><stop offset="0.274" stop-color="#5441ac"/><stop offset="0.297" stop-color="#573fa9"/><stop offset="0.344" stop-color="#5242ad"/><stop offset="0.460" stop-color="#3753bc"/><stop offset="0.553" stop-color="#3557be"/><stop offset="1.000" stop-color="#335abf"/></linearGradient>
<linearGradient id="h2_28"><stop offset="0.000" stop-color="#a4c733"/><stop offset="0.051" stop-color="#afca32"/><stop offset="0.088" stop-color="#bed031"/><stop offset="0.093" stop-color="#c2d131"/><stop offset="0.097" stop-color="#ced630"/><stop offset="0.106" stop-color="#f6e52d"/><stop offset="0.111" stop-color="#f9d72c"/><stop offset="0.116" stop-color="#f7b02a"/><stop offset="0.120" stop-color="#e24824"/><stop offset="0.125" stop-color="#c32421"/><stop offset="0.130" stop-color="#bd2220"/><stop offset="0.134" stop-color="#df3924"/><stop offset="0.139" stop-color="#f7b62a"/><stop offset="0.144" stop-color="#f9d62c"/><stop offset="0.148" stop-color="#ece12e"/><stop offset="0.153" stop-color="#cad430"/><stop offset="0.158" stop-color="#93c235"/><stop offset="0.162" stop-color="#4fae3b"/><stop offset="0.167" stop-color="#34a760"/><stop offset="0.172" stop-color="#29a190"/><stop offset="0.176" stop-color="#2399ba"/><stop offset="0.181" stop-color="#2681c2"/><stop offset="0.185" stop-color="#296fc7"/><stop offset="0.190" stop-color="#2c67c5"/><stop offset="0.204" stop-color="#325bc0"/><stop offset="0.223" stop-color="#3753bc"/><stop offset="0.269" stop-color="#5a3da8"/><stop offset="0.297" stop-color="#6139a4"/><stop offset="0.344" stop-color="#5a3da8"/><stop offset="0.460" stop-color="#3852bc"/><stop offset="0.646" stop-color="#3458be"/><stop offset="1.000" stop-color="#335abf"/></linearGradient>
<linearGradient id="h2_29"><stop offset="0.000" stop-color="#a4c733"/><stop offset="0.051" stop-color="#afca32"/><stop offset="0.088" stop-color="#bed031"/><stop offset="0.093" stop-color="#c2d131"/><stop offset="0.097" stop-color="#ced630"/><stop offset="0.106" stop-color="#f6e52d"/><stop offset="0.111" stop-color="#f9d72c"/><stop offset="0.116" stop-color="#f7b02a"/><stop offset="0.120" stop-color="#e24824"/><stop offset="0.125" stop-color="#c32421"/><stop offset="0.130" stop-color="#bd2220"/><stop offset="0.134" stop-color="#df3924"/><stop offset="0.139" stop-color="#f7b62a"/><stop offset="0.144" stop-color="#f9d62c"/><stop offset="0.148" stop-color="#ece12e"/><stop offset="0.153" stop-color="#cad430"/><stop offset="0.158" stop-color="#93c235"/><stop offset="0.162" stop-color="#4fae3b"/><stop offset="0.167" stop-color="#34a760"/><stop offset="0.172" stop-color="#29a190"/><stop offset="0.176" stop-color="#2399ba"/><stop offset="0.181" stop-color="#2681c2"/><stop offset="0.185" stop-color="#296fc7"/><stop offset="0.199" stop-color="#315ec1"/><stop offset="0.223" stop-color="#3851bb"/><stop offset="0.246" stop-color="#5043ae"/><stop offset="0.269" stop-color="#6238a2"/><stop offset="0.297" stop-color="#69349d"/><stop offset="0.344" stop-color="#6238a3"/><stop offset="0.460" stop-color="#3a50ba"/><stop offset="0.506" stop-color="#3654bd"/><stop offset="1.000" stop-color="#3459bf"/></linearGradient>
<linearGradient id="h2_30"><stop offset="0.000" stop-color="#a4c733"/><stop offset="0.051" stop-color="#afca32"/><stop offset="0.088" stop-color="#bed031"/><stop offset="0.093" stop-color="#c2d131"/><stop offset="0.097" stop-color="#ced630"/><stop offset="0.106" stop-color="#f6e52d"/><stop offset="0.111" stop-color="#f9d72c"/><stop offset="0.116" stop-color="#f7b02a"/><stop offset="0.120" stop-color="#e24824"/><stop offset="0.125" stop-color="#c32421"/><stop offset="0.130" stop-color="#bd2220"/><stop offset="0.134" stop-color="#df3924"/><stop offset="0.139" stop-color="#f7b62a"/><stop offset="0.144" stop-color="#f9d62c"/><stop offset="0.148" stop-color="#ece12e"/><stop offset="0.153" stop-color="#cad430"/><stop offset="0.158" stop-color="#93c235"/><stop offset="0.162" stop-color="#4fae3b"/><stop offset="0.167" stop-color="#34a760"/><stop offset="0.172" stop-color="#29a190"/><stop offset="0.176" stop-color="#2399ba"/><stop offset="0.181" stop-color="#2681c2"/><stop offset="0.185" stop-color="#296fc7"/><stop offset="0.199" stop-color="#315ec1"/><stop offset="0.218" stop-color="#3653bc"/><stop offset="0.264" stop-color="#6536a0"/><stop offset="0.274" stop-color="#6b339b"/><stop offset="0.297" stop-color="#703097"/><stop offset="0.344" stop-color="#68359e"/><stop offset="0.460" stop-color="#3c4fb9"/><stop offset="0.506" stop-color="#3654bd"/><stop offset="1.000" stop-color="#3458be"/></linearGradient>
<linearGradient id="h2_31"><stop offset="0.000" stop-color="#a4c733"/><stop offset="0.051" stop-color="#afca32"/><stop offset="0.088" stop-color="#bed031"/><stop offset="0.093" stop-color="#c2d131"/><stop offset="0.097" stop-color="#ced630"/><stop offset="0.106" stop-color="#f6e52d"/><stop offset="0.111" stop-color="#f9d72c"/><stop offset="0.116" stop-color="#f7b02a"/><stop offset="0.120" stop-color="#e24824"/><stop offset="0.125" stop-color="#c32421"/><stop offset="0.130" stop-color="#bd2220"/><stop offset="0.134" stop-color="#df3924"/><stop offset="0.139" stop-color="#f7b62a"/><stop offset="0.144" stop-color="#f9d62c"/><stop offset="0.148" stop-color="#ece12e"/><stop offset="0.153" stop-color="#cad430"/><stop offset="0.158" stop-color="#93c235"/><stop offset="0.162" stop-color="#4fae3b"/><stop offset="0.167" stop-color="#34a760"/><stop offset="0.172" stop-color="#29a190"/><stop offset="0.176" stop-color="#2399ba"/><stop offset="0.181" stop-color="#2681c2"/><stop offset="0.185" stop-color="#296fc7"/><stop offset="0.199" stop-color="#315ec1"/><stop offset="0.218" stop-color="#3753bc"/><stop offset="0.251" stop-color="#5c3ca7"/><stop offset="0.264" stop-color="#68359d"/><stop offset="0.274" stop-color="#6e3198"/><stop offset="0.297" stop-color="#732e94"/><stop offset="0.344" stop-color="#6b339b"/><stop offset="0.460" stop-color="#3d4eb9"/><stop offset="0.506" stop-color="#3654bd"/><stop offset="1.000" stop-color="#3458be"/></linearGradient>
<linearGradient id="h2_32"><stop offset="0.000" stop-color="#a4c733"/><stop offset="0.051" stop-color="#afca32"/><stop offset="0.088" stop-color="#bed031"/><stop offset="0.093" stop-color="#c2d131"/><stop offset="0.097" stop-color="#ced630"/><stop offset="0.106" stop-color="#f6e52d"/><stop offset="0.111" stop-color="#f9d72c"/><stop offset="0.116" stop-color="#f7b02a"/><stop offset="0.120" stop-color="#e24824"/><stop offset="0.125" stop-color="#c32421"/><stop offset="0.130" stop-color="#bd2220"/><stop offset="0.134" stop-color="#df3924"/><stop offset="0.139" stop-color="#f7b62a"/><stop offset="0.144" stop-color="#f9d62c"/><stop offset="0.148" stop-color="#ece12e"/><stop offset="0.153" stop-color="#cad430"/><stop offset="0.158" stop-color="#93c235"/><stop offset="0.162" stop-color="#4fae3b"/><stop offset="0.167" stop-color="#34a760"/><stop offset="0.172" stop-color="#29a190"/><stop offset="0.176" stop-color="#2399ba"/><stop offset="0.181" stop-color="#2681c2"/><stop offset="0.185" stop-color="#296fc7"/><stop offset="0.199" stop-color="#315ec1"/><stop offset="0.218" stop-color="#3753bc"/><stop offset="0.251" stop-color="#5c3ca7"/><stop offset="0.264" stop-color="#68359d"/><stop offset="0.274" stop-color="#6e3198"/><stop offset="0.297" stop-color="#732e94"/><stop offset="0.344" stop-color="#6b339b"/><stop offset="0.460" stop-color="#3d4eb9"/><stop offset="0.506" stop-color="#3654bd"/><stop offset="1.000" stop-color="#3457be"/></linearGradient>
<linearGradient id="h2_33"><stop offset="0.000" stop-color="#a4c733"/><stop offset="0.051" stop-color="#afca32"/><stop offset="0.088" stop-color="#bed031"/><stop offset="0.093" stop-color="#c2d131"/><stop offset="0.097" stop-color="#ced630"/><stop offset="0.106" stop-color="#f6e52d"/><stop offset="0.111" stop-color="#f9d72c"/><stop offset="0.116" stop-color="#f7b02a"/><stop offset="0.120" stop-color="#e24824"/><stop offset="0.125" stop-color="#c32421"/><stop offset="0.130" stop-color="#bd2220"/><stop offset="0.134" stop-color="#df3924"/><stop offset="0.139" stop-color="#f7b62a"/><stop offset="0.144" stop-color="#f9d62c"/><stop offset="0.148" stop-color="#ece12e"/><stop offset="0.153" stop-color="#cad430"/><stop offset="0.158" stop-color="#93c235"/><stop offset="0.162" stop-color="#4fae3b"/><stop offset="0.167" stop-color="#34a760"/><stop offset="0.172" stop-color="#29a190"/><stop offset="0.176" stop-color="#2399ba"/><stop offset="0.181" stop-color="#2681c2"/><stop offset="0.185" stop-color="#296fc7"/><stop offset="0.199" stop-color="#315ec1"/><stop offset="0.218" stop-color="#3653bc"/><stop offset="0.264" stop-color="#6536a0"/><stop offset="0.274" stop-color="#6b339b"/><stop offset="0.297" stop-color="#703097"/><stop offset="0.344" stop-color="#68359e"/><stop offset="0.460" stop-color="#3c4fb9"/><stop offset="0.506" stop-color="#3654bd"/><stop offset="1.000" stop-color="#3457be"/></linearGradient>
<linearGradient id="h2_34"><stop offset="0.000" stop-color="#a4c733"/><stop offset="0.051" stop-color="#afca32"/><stop offset="0.088" stop-color="#bed031"/><stop offset="0.093" stop-color="#c2d131"/><stop offset="0.097" stop-color="#ced630"/><stop offset="0.106" stop-color="#f6e52d"/><stop offset="0.111" stop-color="#f9d72c"/><stop offset="0.116" stop-color="#f7b02a"/><stop offset="0.120" stop-color="#e24824"/><stop offset="0.125" stop-color="#c32421"/><stop offset="0.130" stop-color="#bd2220"/><stop offset="0.134" stop-color="#df3924"/><stop offset="0.139" stop-color="#f7b62a"/><stop offset="0.144" stop-color="#f9d62c"/><stop offset="0.148" stop-color="#ece12e"/><stop offset="0.153" stop-color="#cad430"/><stop offset="0.158" stop-color="#93c235"/><stop offset="0.162" stop-color="#4fae3b"/><stop offset="0.167" stop-color="#34a760"/><stop offset="0.172" stop-color="#29a190"/><stop offset="0.176" stop-color="#2399ba"/><stop offset="0.181" stop-color="#2681c2"/><stop offset="0.185" stop-color="#296fc7"/><stop offset="0.199" stop-color="#315ec1"/><stop offset="0.223" stop-color="#3851bb"/><stop offset="0.246" stop-color="#5043ae"/><stop offset="0.269" stop-color="#6238a2"/><stop offset="0.297" stop-color="#69349d"/><stop offset="0.344" stop-color="#6238a3"/><stop offset="0.460" stop-color="#3a50ba"/><stop offset="0.506" stop-color="#3654bd"/><stop offset="1.000" stop-color="#3458be"/></linearGradient>
<linearGradient id="h2_35"><stop offset="0.000" stop-color="#a4c733"/><stop offset="0.051" stop-color="#afca32"/><stop offset="0.088" stop-color="#bed031"/><stop offset="0.093" stop-color="#c2d131"/><stop offset="0.097" stop-color="#ced630"/><stop offset="0.106" stop-color="#f6e52d"/><stop offset="0.111" stop-color="#f9d72c"/><stop offset="0.116" stop-color="#f7b02a"/><stop offset="0.120" stop-color="#e24824"/><stop offset="0.125" stop-color="#c32421"/><stop offset="0.130" stop-color="#bd2220"/><stop offset="0.134" stop-color="#df3924"/><stop offset="0.139" stop-color="#f7b62a"/><stop offset="0.144" stop-color="#f9d62c"/><stop offset="0.148" stop-color="#ece12e"/><stop offset="0.153" stop-color="#cad430"/><stop offset="0.158" stop-color="#93c235"/><stop offset="0.162" stop-color="#4fae3b"/><stop offset="0.167" stop-color="#34a760"/><stop offset="0.172" stop-color="#29a190"/><stop offset="0.176" stop-color="#2399ba"/><stop offset="0.181" stop-color="#2681c2"/><stop offset="0.185" stop-color="#296fc7"/><stop offset="0.190" stop-color="#2c67c5"/><stop offset="0.204" stop-color="#325bc0"/><stop offset="0.223" stop-color="#3753bc"/><stop offset="0.269" stop-color="#5a3da8"/><stop offset="0.297" stop-color="#6139a4"/><stop offset="0.344" stop-color="#5a3da8"/><stop offset="0.460" stop-color="#3852bc"/><stop offset="0.599" stop-color="#3557be"/><stop offset="1.000" stop-color="#3458be"/></linearGradient>
</defs>
<rect x="566.5" y="54.00" width="130.9" height="3.13" fill="url(#h2_0)" shape-rendering="crispEdges"/>
<rect x="566.5" y="56.52" width="130.9" height="3.13" fill="url(#h2_1)" shape-rendering="crispEdges"/>
<rect x="566.5" y="59.05" width="130.9" height="3.13" fill="url(#h2_2)" shape-rendering="crispEdges"/>
<rect x="566.5" y="61.58" width="130.9" height="3.13" fill="url(#h2_3)" shape-rendering="crispEdges"/>
<rect x="566.5" y="64.10" width="130.9" height="3.13" fill="url(#h2_4)" shape-rendering="crispEdges"/>
<rect x="566.5" y="66.62" width="130.9" height="3.13" fill="url(#h2_5)" shape-rendering="crispEdges"/>
<rect x="566.5" y="69.15" width="130.9" height="3.13" fill="url(#h2_6)" shape-rendering="crispEdges"/>
<rect x="566.5" y="71.68" width="130.9" height="3.13" fill="url(#h2_7)" shape-rendering="crispEdges"/>
<rect x="566.5" y="74.20" width="130.9" height="3.13" fill="url(#h2_8)" shape-rendering="crispEdges"/>
<rect x="566.5" y="76.72" width="130.9" height="3.13" fill="url(#h2_9)" shape-rendering="crispEdges"/>
<rect x="566.5" y="79.25" width="130.9" height="3.13" fill="url(#h2_10)" shape-rendering="crispEdges"/>
<rect x="566.5" y="81.78" width="130.9" height="3.13" fill="url(#h2_11)" shape-rendering="crispEdges"/>
<rect x="566.5" y="84.30" width="130.9" height="3.13" fill="url(#h2_12)" shape-rendering="crispEdges"/>
<rect x="566.5" y="86.83" width="130.9" height="3.13" fill="url(#h2_13)" shape-rendering="crispEdges"/>
<rect x="566.5" y="89.35" width="130.9" height="3.13" fill="url(#h2_14)" shape-rendering="crispEdges"/>
<rect x="566.5" y="91.88" width="130.9" height="3.13" fill="url(#h2_15)" shape-rendering="crispEdges"/>
<rect x="566.5" y="94.40" width="130.9" height="3.13" fill="url(#h2_16)" shape-rendering="crispEdges"/>
<rect x="566.5" y="96.93" width="130.9" height="3.13" fill="url(#h2_17)" shape-rendering="crispEdges"/>
<rect x="566.5" y="99.45" width="130.9" height="3.13" fill="url(#h2_18)" shape-rendering="crispEdges"/>
<rect x="566.5" y="101.98" width="130.9" height="3.13" fill="url(#h2_19)" shape-rendering="crispEdges"/>
<rect x="566.5" y="104.50" width="130.9" height="3.13" fill="url(#h2_20)" shape-rendering="crispEdges"/>
<rect x="566.5" y="107.03" width="130.9" height="3.13" fill="url(#h2_21)" shape-rendering="crispEdges"/>
<rect x="566.5" y="109.55" width="130.9" height="3.13" fill="url(#h2_22)" shape-rendering="crispEdges"/>
<rect x="566.5" y="112.08" width="130.9" height="3.13" fill="url(#h2_23)" shape-rendering="crispEdges"/>
<rect x="566.5" y="114.60" width="130.9" height="3.13" fill="url(#h2_24)" shape-rendering="crispEdges"/>
<rect x="566.5" y="117.12" width="130.9" height="3.13" fill="url(#h2_25)" shape-rendering="crispEdges"/>
<rect x="566.5" y="119.65" width="130.9" height="3.13" fill="url(#h2_26)" shape-rendering="crispEdges"/>
<rect x="566.5" y="122.18" width="130.9" height="3.13" fill="url(#h2_27)" shape-rendering="crispEdges"/>
<rect x="566.5" y="124.70" width="130.9" height="3.13" fill="url(#h2_28)" shape-rendering="crispEdges"/>
<rect x="566.5" y="127.23" width="130.9" height="3.13" fill="url(#h2_29)" shape-rendering="crispEdges"/>
<rect x="566.5" y="129.75" width="130.9" height="3.13" fill="url(#h2_30)" shape-rendering="crispEdges"/>
<rect x="566.5" y="132.28" width="130.9" height="3.13" fill="url(#h2_31)" shape-rendering="crispEdges"/>
<rect x="566.5" y="134.80" width="130.9" height="3.13" fill="url(#h2_32)" shape-rendering="crispEdges"/>
<rect x="566.5" y="137.33" width="130.9" height="3.13" fill="url(#h2_33)" shape-rendering="crispEdges"/>
<rect x="566.5" y="139.85" width="130.9" height="3.13" fill="url(#h2_34)" shape-rendering="crispEdges"/>
<rect x="566.5" y="142.38" width="130.9" height="3.13" fill="url(#h2_35)" shape-rendering="crispEdges"/>
<rect x="566.5" y="54.0" width="130.9" height="90.9" fill="none" stroke="#2a2a2a" stroke-width="1.4"/>
<line x1="578.0" y1="144.9" x2="578.0" y2="141.4" stroke="#1c1c1c" stroke-width="1.2"/>
<line x1="578.0" y1="54.0" x2="578.0" y2="57.0" stroke="#1c1c1c" stroke-width="1.2"/>
<line x1="602.3" y1="144.9" x2="602.3" y2="141.4" stroke="#1c1c1c" stroke-width="1.2"/>
<line x1="602.3" y1="54.0" x2="602.3" y2="57.0" stroke="#1c1c1c" stroke-width="1.2"/>
<line x1="626.7" y1="144.9" x2="626.7" y2="141.4" stroke="#1c1c1c" stroke-width="1.2"/>
<line x1="626.7" y1="54.0" x2="626.7" y2="57.0" stroke="#1c1c1c" stroke-width="1.2"/>
<line x1="651.0" y1="144.9" x2="651.0" y2="141.4" stroke="#1c1c1c" stroke-width="1.2"/>
<line x1="651.0" y1="54.0" x2="651.0" y2="57.0" stroke="#1c1c1c" stroke-width="1.2"/>
<line x1="675.4" y1="144.9" x2="675.4" y2="141.4" stroke="#1c1c1c" stroke-width="1.2"/>
<line x1="675.4" y1="54.0" x2="675.4" y2="57.0" stroke="#1c1c1c" stroke-width="1.2"/>
<text transform="translate(563.9 148.0) scale(1.05 1)" font-size="11" text-anchor="end" fill="#1a1a1a" stroke="#1a1a1a" stroke-width="0.22">0</text>
<line x1="566.5" y1="122.2" x2="570.0" y2="122.2" stroke="#1c1c1c" stroke-width="1.2"/>
<line x1="697.4" y1="122.2" x2="693.9" y2="122.2" stroke="#1c1c1c" stroke-width="1.2"/>
<text transform="translate(563.9 125.9) scale(1.05 1)" font-size="11" text-anchor="end" fill="#1a1a1a" stroke="#1a1a1a" stroke-width="0.22">90</text>
<line x1="566.5" y1="99.5" x2="570.0" y2="99.5" stroke="#1c1c1c" stroke-width="1.2"/>
<line x1="697.4" y1="99.5" x2="693.9" y2="99.5" stroke="#1c1c1c" stroke-width="1.2"/>
<text transform="translate(563.9 103.2) scale(1.05 1)" font-size="11" text-anchor="end" fill="#1a1a1a" stroke="#1a1a1a" stroke-width="0.22">180</text>
<line x1="566.5" y1="76.7" x2="570.0" y2="76.7" stroke="#1c1c1c" stroke-width="1.2"/>
<line x1="697.4" y1="76.7" x2="693.9" y2="76.7" stroke="#1c1c1c" stroke-width="1.2"/>
<text transform="translate(563.9 80.4) scale(1.05 1)" font-size="11" text-anchor="end" fill="#1a1a1a" stroke="#1a1a1a" stroke-width="0.22">270</text>
<text transform="translate(563.9 57.7) scale(1.05 1)" font-size="11" text-anchor="end" fill="#1a1a1a" stroke="#1a1a1a" stroke-width="0.22">360</text>
<text transform="translate(578.0 156.2) scale(1.1 1)" font-size="11" text-anchor="middle" fill="#1a1a1a" stroke="#1a1a1a" stroke-width="0.22">0</text>
<text transform="translate(602.3 156.2) scale(1.1 1)" font-size="11" text-anchor="middle" fill="#1a1a1a" stroke="#1a1a1a" stroke-width="0.22">2</text>
<text transform="translate(626.7 156.2) scale(1.1 1)" font-size="11" text-anchor="middle" fill="#1a1a1a" stroke="#1a1a1a" stroke-width="0.22">4</text>
<text transform="translate(651.0 156.2) scale(1.1 1)" font-size="11" text-anchor="middle" fill="#1a1a1a" stroke="#1a1a1a" stroke-width="0.22">6</text>
<text transform="translate(675.4 156.2) scale(1.1 1)" font-size="11" text-anchor="middle" fill="#1a1a1a" stroke="#1a1a1a" stroke-width="0.22">8</text>
<text transform="translate(698.5 156.2) scale(1.1 1)" font-size="11" text-anchor="middle" fill="#1a1a1a" stroke="#1a1a1a" stroke-width="0.22">10</text>
<text transform="translate(640.1 166.1) scale(1.1 1)" font-size="11" text-anchor="middle" fill="#1a1a1a" stroke="#1a1a1a" stroke-width="0.22">Delay time (ps)</text>
<rect x="273.6" y="39.8" width="20.0" height="20.7" fill="#fff" stroke="#1c1c1c" stroke-width="1.2"/>
<text transform="translate(283.9 54.3) scale(1 1)" font-size="15.5" text-anchor="middle" font-weight="bold" fill="#111">(c)</text>
<rect x="475.9" y="39.8" width="18.7" height="20.7" fill="#fff" stroke="#1c1c1c" stroke-width="1.2"/>
<text transform="translate(485.6 54.3) scale(1 1)" font-size="15.5" text-anchor="middle" font-weight="bold" fill="#111">(d)</text>
<rect x="677.1" y="40.4" width="20.5" height="20.1" fill="#fff" stroke="#1c1c1c" stroke-width="1.2"/>
<text transform="translate(687.6 54.3) scale(1 1)" font-size="15.5" text-anchor="middle" font-weight="bold" fill="#111">(e)</text>
<defs><linearGradient id="cb" x1="0" y1="1" x2="0" y2="0"><stop offset="0" stop-color="#7d288c"/><stop offset="0.04" stop-color="#6e3096"/><stop offset="0.09" stop-color="#4b44af"/><stop offset="0.14" stop-color="#3752bc"/><stop offset="0.3" stop-color="#2a69c6"/><stop offset="0.42" stop-color="#268cc3"/><stop offset="0.5" stop-color="#28a596"/><stop offset="0.58" stop-color="#3caa46"/><stop offset="0.68" stop-color="#a0c634"/><stop offset="0.78" stop-color="#fae62d"/><stop offset="0.87" stop-color="#f59628"/><stop offset="0.94" stop-color="#dc2d23"/><stop offset="1.0" stop-color="#a5191e"/></linearGradient></defs>
<rect x="293.2" y="84.10000000000001" width="1.8" height="60.8" fill="#a9a9a9"/>
<rect x="294.8" y="84.4" width="7.1" height="60.2" fill="url(#cb)"/>
<line x1="301.9" y1="103" x2="303.7" y2="103" stroke="#1c1c1c" stroke-width="0.9"/>
<line x1="301.9" y1="129" x2="303.7" y2="129" stroke="#1c1c1c" stroke-width="0.9"/>
<line x1="301.9" y1="90" x2="304.09999999999997" y2="90" stroke="#1c1c1c" stroke-width="1"/>
<text transform="translate(304.3 93.3) scale(1.1 1)" font-size="11" fill="#1a1a1a" stroke="#1a1a1a" stroke-width="0.22">2.0</text>
<line x1="301.9" y1="116" x2="304.09999999999997" y2="116" stroke="#1c1c1c" stroke-width="1"/>
<text transform="translate(304.3 119.3) scale(1.1 1)" font-size="11" fill="#1a1a1a" stroke="#1a1a1a" stroke-width="0.22">1.0</text>
<line x1="301.9" y1="141.2" x2="304.09999999999997" y2="141.2" stroke="#1c1c1c" stroke-width="1"/>
<text transform="translate(304.3 144.5) scale(1.1 1)" font-size="11" fill="#1a1a1a" stroke="#1a1a1a" stroke-width="0.22">0.0</text>
<text transform="translate(294.5 65.2) scale(1.1 1)" font-size="11" fill="#1a1a1a" stroke="#1a1a1a" stroke-width="0.22">ΔR/R</text>
<text transform="translate(294.3 80.0) scale(1.1 1)" font-size="11" fill="#1a1a1a" stroke="#1a1a1a" stroke-width="0.22">(10<tspan font-size="8" dy="-4.5">-3</tspan><tspan dy="4.5">)</tspan></text>
<rect x="494.8" y="84.7" width="1.8" height="60.9" fill="#a9a9a9"/>
<rect x="496.4" y="85" width="6.8" height="60.3" fill="url(#cb)"/>
<line x1="503.2" y1="98.8" x2="505.0" y2="98.8" stroke="#1c1c1c" stroke-width="0.9"/>
<line x1="503.2" y1="116.2" x2="505.0" y2="116.2" stroke="#1c1c1c" stroke-width="0.9"/>
<line x1="503.2" y1="133.6" x2="505.0" y2="133.6" stroke="#1c1c1c" stroke-width="0.9"/>
<line x1="503.2" y1="90.1" x2="505.4" y2="90.1" stroke="#1c1c1c" stroke-width="1"/>
<text transform="translate(505.6 93.4) scale(1.1 1)" font-size="11" fill="#1a1a1a" stroke="#1a1a1a" stroke-width="0.22">3.0</text>
<line x1="503.2" y1="107.5" x2="505.4" y2="107.5" stroke="#1c1c1c" stroke-width="1"/>
<text transform="translate(505.6 110.8) scale(1.1 1)" font-size="11" fill="#1a1a1a" stroke="#1a1a1a" stroke-width="0.22">2.0</text>
<line x1="503.2" y1="125" x2="505.4" y2="125" stroke="#1c1c1c" stroke-width="1"/>
<text transform="translate(505.6 128.3) scale(1.1 1)" font-size="11" fill="#1a1a1a" stroke="#1a1a1a" stroke-width="0.22">1.0</text>
<line x1="503.2" y1="141.6" x2="505.4" y2="141.6" stroke="#1c1c1c" stroke-width="1"/>
<text transform="translate(505.6 144.9) scale(1.1 1)" font-size="11" fill="#1a1a1a" stroke="#1a1a1a" stroke-width="0.22">0.0</text>
<text transform="translate(496.1 65.2) scale(1.1 1)" font-size="11" fill="#1a1a1a" stroke="#1a1a1a" stroke-width="0.22">ΔR/R</text>
<text transform="translate(495.9 80.0) scale(1.1 1)" font-size="11" fill="#1a1a1a" stroke="#1a1a1a" stroke-width="0.22">(10<tspan font-size="8" dy="-4.5">-3</tspan><tspan dy="4.5">)</tspan></text>
<rect x="698.9" y="84.3" width="1.8" height="60.8" fill="#a9a9a9"/>
<rect x="700.5" y="84.6" width="6.8" height="60.2" fill="url(#cb)"/>
<line x1="707.3" y1="98.7" x2="709.0999999999999" y2="98.7" stroke="#1c1c1c" stroke-width="0.9"/>
<line x1="707.3" y1="112.9" x2="709.0999999999999" y2="112.9" stroke="#1c1c1c" stroke-width="0.9"/>
<line x1="707.3" y1="127" x2="709.0999999999999" y2="127" stroke="#1c1c1c" stroke-width="0.9"/>
<line x1="707.3" y1="141" x2="709.0999999999999" y2="141" stroke="#1c1c1c" stroke-width="0.9"/>
<line x1="707.3" y1="91.7" x2="709.5" y2="91.7" stroke="#1c1c1c" stroke-width="1"/>
<text transform="translate(715.8 95.0) scale(1.1 1)" font-size="11" fill="#1a1a1a" stroke="#1a1a1a" stroke-width="0.22">2</text>
<line x1="707.3" y1="105.8" x2="709.5" y2="105.8" stroke="#1c1c1c" stroke-width="1"/>
<text transform="translate(715.8 109.1) scale(1.1 1)" font-size="11" fill="#1a1a1a" stroke="#1a1a1a" stroke-width="0.22">0</text>
<line x1="707.3" y1="120" x2="709.5" y2="120" stroke="#1c1c1c" stroke-width="1"/>
<text transform="translate(713.6 123.3) scale(1.1 1)" font-size="11" fill="#1a1a1a" stroke="#1a1a1a" stroke-width="0.22">-2</text>
<line x1="707.3" y1="134" x2="709.5" y2="134" stroke="#1c1c1c" stroke-width="1"/>
<text transform="translate(713.6 137.3) scale(1.1 1)" font-size="11" fill="#1a1a1a" stroke="#1a1a1a" stroke-width="0.22">-4</text>
<text transform="translate(698.9 65.2) scale(1.1 1)" font-size="11" fill="#1a1a1a" stroke="#1a1a1a" stroke-width="0.22">ΔR/R</text>
<text transform="translate(698.7 80.0) scale(1.1 1)" font-size="11" fill="#1a1a1a" stroke="#1a1a1a" stroke-width="0.22">(10<tspan font-size="8" dy="-4.5">-4</tspan><tspan dy="4.5">)</tspan></text>
<text transform="translate(134.4 127.6) rotate(-90) scale(1 0.94)" font-size="12" fill="#1a1a1a" stroke="#1a1a1a" stroke-width="0.22">θ (degrees)</text>
<text transform="translate(335.9 127.6) rotate(-90) scale(1 0.94)" font-size="12" fill="#1a1a1a" stroke="#1a1a1a" stroke-width="0.22">θ (degrees)</text>
<text transform="translate(538.9 127.6) rotate(-90) scale(1 0.94)" font-size="12" fill="#1a1a1a" stroke="#1a1a1a" stroke-width="0.22">θ (degrees)</text>
<circle cx="223.7" cy="246.4" r="62.3" fill="#fff"/>
<circle cx="223.7" cy="246.4" r="20.77" fill="none" stroke="#b4b2ae" stroke-width="1.2"/>
<circle cx="223.7" cy="246.4" r="41.53" fill="none" stroke="#b4b2ae" stroke-width="1.2"/>
<line x1="161.4" y1="246.4" x2="286.0" y2="246.4" stroke="#b4b2ae" stroke-width="1.2"/>
<line x1="179.6" y1="290.5" x2="267.8" y2="202.3" stroke="#b4b2ae" stroke-width="1.2"/>
<line x1="223.7" y1="308.7" x2="223.7" y2="184.1" stroke="#b4b2ae" stroke-width="1.2"/>
<line x1="267.8" y1="290.5" x2="179.6" y2="202.3" stroke="#b4b2ae" stroke-width="1.2"/>
<circle cx="260.1" cy="246.4" r="2.9" fill="#9ba7e8"/>
<circle cx="251.0" cy="235.1" r="2.9" fill="#9ba7e8"/>
<circle cx="242.7" cy="227.4" r="2.9" fill="#9ba7e8"/>
<circle cx="235.2" cy="218.7" r="2.9" fill="#9ba7e8"/>
<circle cx="223.7" cy="213.4" r="2.9" fill="#9ba7e8"/>
<circle cx="209.8" cy="212.8" r="2.9" fill="#9ba7e8"/>
<circle cx="195.4" cy="218.1" r="2.9" fill="#9ba7e8"/>
<circle cx="187.5" cy="231.4" r="2.9" fill="#9ba7e8"/>
<circle cx="188.3" cy="246.4" r="2.9" fill="#9ba7e8"/>
<circle cx="195.2" cy="258.2" r="2.9" fill="#9ba7e8"/>
<circle cx="201.1" cy="269.0" r="2.9" fill="#9ba7e8"/>
<circle cx="209.7" cy="280.3" r="2.9" fill="#9ba7e8"/>
<circle cx="223.7" cy="285.4" r="2.9" fill="#9ba7e8"/>
<circle cx="240.2" cy="286.1" r="2.9" fill="#9ba7e8"/>
<circle cx="256.2" cy="278.9" r="2.9" fill="#9ba7e8"/>
<circle cx="261.9" cy="262.2" r="2.9" fill="#9ba7e8"/>
<path d="M262.0,247.6 L261.2,245.7 L260.4,243.9 L259.4,242.1 L258.4,240.5 L257.4,238.9 L256.3,237.4 L255.2,236.0 L254.0,234.7 L252.9,233.4 L251.8,232.2 L250.6,231.0 L249.5,229.8 L248.4,228.7 L247.3,227.6 L246.1,226.5 L245.0,225.4 L243.9,224.3 L242.8,223.2 L241.6,222.1 L240.4,220.9 L239.1,219.8 L237.9,218.7 L236.5,217.6 L235.1,216.5 L233.6,215.4 L232.1,214.4 L230.4,213.4 L228.7,212.5 L226.9,211.6 L225.0,210.8 L223.0,210.1 L221.0,209.6 L218.9,209.1 L216.8,208.8 L214.6,208.7 L212.4,208.7 L210.1,208.9 L207.9,209.2 L205.7,209.7 L203.5,210.4 L201.4,211.3 L199.4,212.4 L197.5,213.6 L195.7,215.0 L194.0,216.6 L192.4,218.2 L191.0,220.1 L189.7,222.0 L188.6,224.0 L187.7,226.1 L187.0,228.2 L186.5,230.4 L186.1,232.7 L185.9,234.9 L185.9,237.1 L186.0,239.3 L186.3,241.5 L186.7,243.6 L187.3,245.6 L188.0,247.6 L188.8,249.5 L189.6,251.3 L190.6,253.1 L191.6,254.7 L192.6,256.3 L193.7,257.8 L194.8,259.2 L196.0,260.5 L197.1,261.8 L198.2,263.0 L199.4,264.2 L200.5,265.4 L201.6,266.5 L202.7,267.6 L203.9,268.7 L205.0,269.8 L206.1,270.9 L207.2,272.0 L208.4,273.1 L209.6,274.3 L210.9,275.4 L212.1,276.5 L213.5,277.6 L214.9,278.7 L216.4,279.8 L217.9,280.8 L219.6,281.8 L221.3,282.7 L223.1,283.6 L225.0,284.4 L227.0,285.1 L229.0,285.6 L231.1,286.1 L233.2,286.4 L235.4,286.5 L237.6,286.5 L239.9,286.3 L242.1,286.0 L244.3,285.5 L246.5,284.8 L248.6,283.9 L250.6,282.8 L252.5,281.6 L254.3,280.2 L256.0,278.6 L257.6,277.0 L259.0,275.1 L260.3,273.2 L261.4,271.2 L262.3,269.1 L263.0,267.0 L263.5,264.8 L263.9,262.5 L264.1,260.3 L264.1,258.1 L264.0,255.9 L263.7,253.7 L263.3,251.6 L262.7,249.6 Z" fill="none" stroke="#1f4fb0" stroke-width="1.7" stroke-linejoin="round"/>
<circle cx="223.7" cy="246.4" r="62.3" fill="none" stroke="#2a2a2a" stroke-width="1.25"/>
<line x1="286.0" y1="246.4" x2="281.0" y2="246.4" stroke="#1c1c1c" stroke-width="1.1"/>
<line x1="281.3" y1="222.6" x2="278.9" y2="223.6" stroke="#1c1c1c" stroke-width="1.1"/>
<line x1="267.8" y1="202.3" x2="264.2" y2="205.9" stroke="#1c1c1c" stroke-width="1.1"/>
<line x1="247.5" y1="188.8" x2="246.5" y2="191.2" stroke="#1c1c1c" stroke-width="1.1"/>
<line x1="223.7" y1="184.1" x2="223.7" y2="189.1" stroke="#1c1c1c" stroke-width="1.1"/>
<line x1="199.9" y1="188.8" x2="200.9" y2="191.2" stroke="#1c1c1c" stroke-width="1.1"/>
<line x1="179.6" y1="202.3" x2="183.2" y2="205.9" stroke="#1c1c1c" stroke-width="1.1"/>
<line x1="166.1" y1="222.6" x2="168.5" y2="223.6" stroke="#1c1c1c" stroke-width="1.1"/>
<line x1="161.4" y1="246.4" x2="166.4" y2="246.4" stroke="#1c1c1c" stroke-width="1.1"/>
<line x1="166.1" y1="270.2" x2="168.5" y2="269.2" stroke="#1c1c1c" stroke-width="1.1"/>
<line x1="179.6" y1="290.5" x2="183.2" y2="286.9" stroke="#1c1c1c" stroke-width="1.1"/>
<line x1="199.9" y1="304.0" x2="200.9" y2="301.6" stroke="#1c1c1c" stroke-width="1.1"/>
<line x1="223.7" y1="308.7" x2="223.7" y2="303.7" stroke="#1c1c1c" stroke-width="1.1"/>
<line x1="247.5" y1="304.0" x2="246.5" y2="301.6" stroke="#1c1c1c" stroke-width="1.1"/>
<line x1="267.8" y1="290.5" x2="264.2" y2="286.9" stroke="#1c1c1c" stroke-width="1.1"/>
<line x1="281.3" y1="270.2" x2="278.9" y2="269.2" stroke="#1c1c1c" stroke-width="1.1"/>
<text transform="translate(208.6 229.9) scale(0.967 1)" font-size="11.6" fill="#1a1a1a" stroke="#1a1a1a" stroke-width="0.22">1.0</text>
<text transform="translate(195.9 245.5) scale(0.967 1)" font-size="11.6" fill="#1a1a1a" stroke="#1a1a1a" stroke-width="0.22">1.0</text>
<text transform="translate(239.3 245.5) scale(0.967 1)" font-size="11.6" fill="#1a1a1a" stroke="#1a1a1a" stroke-width="0.22">1.0</text>
<text transform="translate(226.4 270.8) scale(0.967 1)" font-size="11.6" fill="#1a1a1a" stroke="#1a1a1a" stroke-width="0.22">1.0</text>
<text transform="translate(225.3 195.1) scale(0.967 1)" font-size="11.6" fill="#1a1a1a" stroke="#1a1a1a" stroke-width="0.22">3.0</text>
<text transform="translate(161.2 245.3) scale(0.967 1)" font-size="11.6" fill="#1a1a1a" stroke="#1a1a1a" stroke-width="0.22">3.0</text>
<text transform="translate(274.3 245.3) scale(0.967 1)" font-size="11.6" fill="#1a1a1a" stroke="#1a1a1a" stroke-width="0.22">3.0</text>
<text transform="translate(225.3 307.7) scale(0.967 1)" font-size="11.6" fill="#1a1a1a" stroke="#1a1a1a" stroke-width="0.22">3.0</text>
<text transform="translate(160.0 201.4) scale(1.009 1)" font-size="11.6" fill="#1a1a1a" stroke="#1a1a1a" stroke-width="0.22">135°</text>
<text transform="translate(266.8 201.4) scale(1.003 1)" font-size="11.6" fill="#1a1a1a" stroke="#1a1a1a" stroke-width="0.22">45°</text>
<text transform="translate(159.2 305.1) scale(1.021 1)" font-size="11.6" fill="#1a1a1a" stroke="#1a1a1a" stroke-width="0.22">225°</text>
<text transform="translate(268.0 305.1) scale(1.021 1)" font-size="11.6" fill="#1a1a1a" stroke="#1a1a1a" stroke-width="0.22">315°</text>
<text transform="translate(194.6 181.2) scale(1.1 1)" font-size="11" fill="#1a1a1a" stroke="#1a1a1a" stroke-width="0.22">ΔR/R(10<tspan font-size="7.5" dy="-4">-3</tspan><tspan dy="4">)</tspan></text>
<text transform="translate(161.3 187.4) scale(1 1)" font-size="16.3" font-weight="bold" fill="#111">(f)</text>
<circle cx="426.8" cy="246.7" r="62.8" fill="#fff"/>
<circle cx="426.8" cy="246.7" r="15.70" fill="none" stroke="#b4b2ae" stroke-width="1.2"/>
<circle cx="426.8" cy="246.7" r="31.40" fill="none" stroke="#b4b2ae" stroke-width="1.2"/>
<circle cx="426.8" cy="246.7" r="47.10" fill="none" stroke="#b4b2ae" stroke-width="1.2"/>
<line x1="364.0" y1="246.7" x2="489.6" y2="246.7" stroke="#b4b2ae" stroke-width="1.2"/>
<line x1="382.4" y1="291.1" x2="471.2" y2="202.3" stroke="#b4b2ae" stroke-width="1.2"/>
<line x1="426.8" y1="309.5" x2="426.8" y2="183.9" stroke="#b4b2ae" stroke-width="1.2"/>
<line x1="471.2" y1="291.1" x2="382.4" y2="202.3" stroke="#b4b2ae" stroke-width="1.2"/>
<circle cx="394.6" cy="215.6" r="2.9" fill="#9ba7e8"/>
<circle cx="410.7" cy="208.4" r="2.9" fill="#9ba7e8"/>
<circle cx="426.8" cy="209.7" r="2.9" fill="#9ba7e8"/>
<circle cx="439.7" cy="218.1" r="2.9" fill="#9ba7e8"/>
<circle cx="446.1" cy="227.8" r="2.9" fill="#9ba7e8"/>
<circle cx="454.1" cy="236.4" r="2.9" fill="#9ba7e8"/>
<circle cx="464.4" cy="247.7" r="2.9" fill="#9ba7e8"/>
<circle cx="471.1" cy="265.3" r="2.9" fill="#9ba7e8"/>
<circle cx="462.3" cy="282.2" r="2.9" fill="#9ba7e8"/>
<circle cx="444.0" cy="289.4" r="2.9" fill="#9ba7e8"/>
<circle cx="426.8" cy="286.9" r="2.9" fill="#9ba7e8"/>
<circle cx="414.1" cy="278.2" r="2.9" fill="#9ba7e8"/>
<circle cx="406.8" cy="266.3" r="2.9" fill="#9ba7e8"/>
<circle cx="399.5" cy="257.3" r="2.9" fill="#9ba7e8"/>
<circle cx="389.8" cy="246.7" r="2.9" fill="#9ba7e8"/>
<circle cx="385.1" cy="229.8" r="2.9" fill="#9ba7e8"/>
<path d="M412.7,204.6 C414.4,204.5 415.4,204.5 417.8,205.1 C420.2,205.7 424.0,207.0 426.8,208.4 C429.6,209.8 432.2,211.8 434.4,213.6 C436.6,215.4 438.3,217.0 440.2,219.0 C442.1,221.0 444.0,223.1 445.9,225.4 C447.8,227.7 449.8,230.3 451.7,232.7 C453.6,235.1 455.6,237.3 457.5,239.6 C459.4,241.9 461.2,243.9 462.8,246.4 C464.4,248.9 466.1,251.7 467.1,254.5 C468.2,257.3 469.0,260.5 469.1,263.2 C469.2,265.9 468.5,268.5 467.7,270.9 C466.9,273.3 465.8,275.5 464.3,277.7 C462.8,279.9 460.6,282.4 458.5,284.1 C456.4,285.8 454.1,287.0 451.7,287.9 C449.3,288.8 446.6,289.2 444.0,289.4 C441.4,289.6 438.7,289.3 435.8,288.9 C432.9,288.5 429.6,288.0 426.8,286.8 C424.0,285.6 421.0,283.7 418.8,281.9 C416.6,280.1 415.3,277.9 413.5,275.8 C411.7,273.7 409.8,271.1 407.9,269.0 C406.0,266.9 404.0,265.1 402.1,263.1 C400.2,261.1 398.2,259.3 396.3,257.1 C394.4,254.9 392.0,252.1 390.5,249.9 C389.0,247.7 388.1,246.2 387.2,244.0 C386.3,241.8 385.4,239.0 385.2,236.5 C384.9,234.0 385.1,231.4 385.7,228.9 C386.3,226.3 387.3,223.6 388.6,221.2 C389.9,218.8 391.5,216.6 393.4,214.5 C395.3,212.4 397.9,210.2 400.2,208.7 C402.5,207.2 405.2,206.2 407.3,205.5 C409.4,204.8 410.9,204.7 412.7,204.6 Z" fill="none" stroke="#1f4fb0" stroke-width="1.7" stroke-linejoin="round"/>
<circle cx="426.8" cy="246.7" r="62.8" fill="none" stroke="#2a2a2a" stroke-width="1.25"/>
<line x1="489.6" y1="246.7" x2="484.6" y2="246.7" stroke="#1c1c1c" stroke-width="1.1"/>
<line x1="484.8" y1="222.7" x2="482.4" y2="223.7" stroke="#1c1c1c" stroke-width="1.1"/>
<line x1="471.2" y1="202.3" x2="467.7" y2="205.8" stroke="#1c1c1c" stroke-width="1.1"/>
<line x1="450.8" y1="188.7" x2="449.8" y2="191.1" stroke="#1c1c1c" stroke-width="1.1"/>
<line x1="426.8" y1="183.9" x2="426.8" y2="188.9" stroke="#1c1c1c" stroke-width="1.1"/>
<line x1="402.8" y1="188.7" x2="403.8" y2="191.1" stroke="#1c1c1c" stroke-width="1.1"/>
<line x1="382.4" y1="202.3" x2="385.9" y2="205.8" stroke="#1c1c1c" stroke-width="1.1"/>
<line x1="368.8" y1="222.7" x2="371.2" y2="223.7" stroke="#1c1c1c" stroke-width="1.1"/>
<line x1="364.0" y1="246.7" x2="369.0" y2="246.7" stroke="#1c1c1c" stroke-width="1.1"/>
<line x1="368.8" y1="270.7" x2="371.2" y2="269.7" stroke="#1c1c1c" stroke-width="1.1"/>
<line x1="382.4" y1="291.1" x2="385.9" y2="287.6" stroke="#1c1c1c" stroke-width="1.1"/>
<line x1="402.8" y1="304.7" x2="403.8" y2="302.3" stroke="#1c1c1c" stroke-width="1.1"/>
<line x1="426.8" y1="309.5" x2="426.8" y2="304.5" stroke="#1c1c1c" stroke-width="1.1"/>
<line x1="450.8" y1="304.7" x2="449.8" y2="302.3" stroke="#1c1c1c" stroke-width="1.1"/>
<line x1="471.2" y1="291.1" x2="467.7" y2="287.6" stroke="#1c1c1c" stroke-width="1.1"/>
<line x1="484.8" y1="270.7" x2="482.4" y2="269.7" stroke="#1c1c1c" stroke-width="1.1"/>
<text transform="translate(410.8 222.1) scale(0.98 1)" font-size="11.6" fill="#1a1a1a" stroke="#1a1a1a" stroke-width="0.22">2.0</text>
<text transform="translate(390.0 245.3) scale(0.98 1)" font-size="11.6" fill="#1a1a1a" stroke="#1a1a1a" stroke-width="0.22">2.0</text>
<text transform="translate(448.4 259.0) scale(0.98 1)" font-size="11.6" fill="#1a1a1a" stroke="#1a1a1a" stroke-width="0.22">2.0</text>
<text transform="translate(428.4 279.2) scale(0.98 1)" font-size="11.6" fill="#1a1a1a" stroke="#1a1a1a" stroke-width="0.22">2.0</text>
<text transform="translate(428.4 195.1) scale(0.98 1)" font-size="11.6" fill="#1a1a1a" stroke="#1a1a1a" stroke-width="0.22">4.0</text>
<text transform="translate(362.3 245.3) scale(0.98 1)" font-size="11.6" fill="#1a1a1a" stroke="#1a1a1a" stroke-width="0.22">4.0</text>
<text transform="translate(476.5 245.3) scale(0.98 1)" font-size="11.6" fill="#1a1a1a" stroke="#1a1a1a" stroke-width="0.22">4.0</text>
<text transform="translate(426.8 307.7) scale(0.98 1)" font-size="11.6" fill="#1a1a1a" stroke="#1a1a1a" stroke-width="0.22">4.0</text>
<text transform="translate(363.1 200.2) scale(0.975 1)" font-size="11.6" fill="#1a1a1a" stroke="#1a1a1a" stroke-width="0.22">135°</text>
<text transform="translate(470.0 200.2) scale(1.003 1)" font-size="11.6" fill="#1a1a1a" stroke="#1a1a1a" stroke-width="0.22">45°</text>
<text transform="translate(362.8 304.5) scale(0.992 1)" font-size="11.6" fill="#1a1a1a" stroke="#1a1a1a" stroke-width="0.22">225°</text>
<text transform="translate(470.5 304.5) scale(1.009 1)" font-size="11.6" fill="#1a1a1a" stroke="#1a1a1a" stroke-width="0.22">315°</text>
<text transform="translate(397.8 181.2) scale(1.1 1)" font-size="11" fill="#1a1a1a" stroke="#1a1a1a" stroke-width="0.22">ΔR/R(10<tspan font-size="7.5" dy="-4">-3</tspan><tspan dy="4">)</tspan></text>
<text transform="translate(360.6 187.4) scale(1 1)" font-size="16.3" font-weight="bold" fill="#111">(g)</text>
<circle cx="628.2" cy="247.1" r="62.8" fill="#fff"/>
<circle cx="628.2" cy="247.1" r="15.70" fill="none" stroke="#b4b2ae" stroke-width="1.2"/>
<circle cx="628.2" cy="247.1" r="31.40" fill="none" stroke="#b4b2ae" stroke-width="1.2"/>
<circle cx="628.2" cy="247.1" r="47.10" fill="none" stroke="#b4b2ae" stroke-width="1.2"/>
<line x1="565.4" y1="247.1" x2="691.0" y2="247.1" stroke="#b4b2ae" stroke-width="1.2"/>
<line x1="583.8" y1="291.5" x2="672.6" y2="202.7" stroke="#b4b2ae" stroke-width="1.2"/>
<line x1="628.2" y1="309.9" x2="628.2" y2="184.3" stroke="#b4b2ae" stroke-width="1.2"/>
<line x1="672.6" y1="291.5" x2="583.8" y2="202.7" stroke="#b4b2ae" stroke-width="1.2"/>
<circle cx="596.1" cy="213.9" r="2.9" fill="#9ba7e8"/>
<circle cx="610.5" cy="204.3" r="2.9" fill="#9ba7e8"/>
<circle cx="628.2" cy="200.1" r="2.9" fill="#9ba7e8"/>
<circle cx="644.2" cy="207.5" r="2.9" fill="#9ba7e8"/>
<circle cx="659.4" cy="216.2" r="2.9" fill="#9ba7e8"/>
<circle cx="669.0" cy="230.0" r="2.9" fill="#9ba7e8"/>
<circle cx="673.2" cy="247.1" r="2.9" fill="#9ba7e8"/>
<circle cx="674.7" cy="265.4" r="2.9" fill="#9ba7e8"/>
<circle cx="661.4" cy="280.3" r="2.9" fill="#9ba7e8"/>
<circle cx="646.5" cy="290.2" r="2.9" fill="#9ba7e8"/>
<circle cx="628.2" cy="292.8" r="2.9" fill="#9ba7e8"/>
<circle cx="610.8" cy="288.1" r="2.9" fill="#9ba7e8"/>
<circle cx="596.0" cy="278.2" r="2.9" fill="#9ba7e8"/>
<circle cx="590.5" cy="263.1" r="2.9" fill="#9ba7e8"/>
<circle cx="583.2" cy="247.1" r="2.9" fill="#9ba7e8"/>
<circle cx="584.2" cy="228.4" r="2.9" fill="#9ba7e8"/>
<path d="M674.7,247.4 L674.5,245.0 L674.2,242.7 L673.8,240.3 L673.3,237.9 L672.6,235.6 L671.9,233.4 L671.0,231.1 L670.1,229.0 L669.0,226.9 L667.8,224.8 L666.5,222.8 L665.2,220.9 L663.7,219.0 L662.1,217.2 L660.5,215.5 L658.8,213.9 L657.0,212.3 L655.1,210.8 L653.2,209.5 L651.2,208.2 L649.1,207.0 L647.0,205.9 L644.9,205.0 L642.6,204.1 L640.4,203.4 L638.1,202.7 L635.7,202.2 L633.3,201.8 L631.0,201.5 L628.6,201.3 L626.1,201.3 L623.7,201.4 L621.3,201.6 L618.9,202.0 L616.5,202.5 L614.1,203.1 L611.8,203.8 L609.5,204.7 L607.3,205.7 L605.1,206.9 L603.0,208.1 L600.9,209.5 L599.0,210.9 L597.1,212.5 L595.3,214.2 L593.6,216.0 L592.0,217.9 L590.6,219.8 L589.2,221.9 L588.0,224.0 L586.8,226.2 L585.8,228.4 L584.9,230.7 L584.2,233.0 L583.6,235.4 L583.1,237.8 L582.7,240.2 L582.5,242.6 L582.4,245.0 L582.5,247.4 L582.6,249.9 L582.9,252.2 L583.3,254.6 L583.8,257.0 L584.5,259.3 L585.2,261.5 L586.1,263.8 L587.0,265.9 L588.1,268.0 L589.3,270.1 L590.6,272.1 L591.9,274.0 L593.4,275.9 L595.0,277.7 L596.6,279.4 L598.3,281.0 L600.1,282.6 L602.0,284.1 L603.9,285.4 L605.9,286.7 L608.0,287.9 L610.1,289.0 L612.2,289.9 L614.5,290.8 L616.7,291.5 L619.0,292.2 L621.4,292.7 L623.8,293.1 L626.1,293.4 L628.6,293.6 L631.0,293.6 L633.4,293.5 L635.8,293.3 L638.2,292.9 L640.6,292.4 L643.0,291.8 L645.3,291.1 L647.6,290.2 L649.8,289.2 L652.0,288.0 L654.1,286.8 L656.2,285.4 L658.1,284.0 L660.0,282.4 L661.8,280.7 L663.5,278.9 L665.1,277.0 L666.5,275.1 L667.9,273.0 L669.1,270.9 L670.3,268.7 L671.3,266.5 L672.2,264.2 L672.9,261.9 L673.5,259.5 L674.0,257.1 L674.4,254.7 L674.6,252.3 L674.7,249.9 Z" fill="none" stroke="#1f4fb0" stroke-width="1.7" stroke-linejoin="round"/>
<circle cx="628.2" cy="247.1" r="62.8" fill="none" stroke="#2a2a2a" stroke-width="1.25"/>
<line x1="691.0" y1="247.1" x2="686.0" y2="247.1" stroke="#1c1c1c" stroke-width="1.1"/>
<line x1="686.2" y1="223.1" x2="683.8" y2="224.1" stroke="#1c1c1c" stroke-width="1.1"/>
<line x1="672.6" y1="202.7" x2="669.1" y2="206.2" stroke="#1c1c1c" stroke-width="1.1"/>
<line x1="652.2" y1="189.1" x2="651.2" y2="191.5" stroke="#1c1c1c" stroke-width="1.1"/>
<line x1="628.2" y1="184.3" x2="628.2" y2="189.3" stroke="#1c1c1c" stroke-width="1.1"/>
<line x1="604.2" y1="189.1" x2="605.2" y2="191.5" stroke="#1c1c1c" stroke-width="1.1"/>
<line x1="583.8" y1="202.7" x2="587.3" y2="206.2" stroke="#1c1c1c" stroke-width="1.1"/>
<line x1="570.2" y1="223.1" x2="572.6" y2="224.1" stroke="#1c1c1c" stroke-width="1.1"/>
<line x1="565.4" y1="247.1" x2="570.4" y2="247.1" stroke="#1c1c1c" stroke-width="1.1"/>
<line x1="570.2" y1="271.1" x2="572.6" y2="270.1" stroke="#1c1c1c" stroke-width="1.1"/>
<line x1="583.8" y1="291.5" x2="587.3" y2="288.0" stroke="#1c1c1c" stroke-width="1.1"/>
<line x1="604.2" y1="305.1" x2="605.2" y2="302.7" stroke="#1c1c1c" stroke-width="1.1"/>
<line x1="628.2" y1="309.9" x2="628.2" y2="304.9" stroke="#1c1c1c" stroke-width="1.1"/>
<line x1="652.2" y1="305.1" x2="651.2" y2="302.7" stroke="#1c1c1c" stroke-width="1.1"/>
<line x1="672.6" y1="291.5" x2="669.1" y2="288.0" stroke="#1c1c1c" stroke-width="1.1"/>
<line x1="686.2" y1="271.1" x2="683.8" y2="270.1" stroke="#1c1c1c" stroke-width="1.1"/>
<text transform="translate(631.2 219.5) scale(1.023 1)" font-size="11.6" fill="#1a1a1a" stroke="#1a1a1a" stroke-width="0.22">2</text>
<text transform="translate(596.4 245.3) scale(1.023 1)" font-size="11.6" fill="#1a1a1a" stroke="#1a1a1a" stroke-width="0.22">2</text>
<text transform="translate(656.2 245.3) scale(1.023 1)" font-size="11.6" fill="#1a1a1a" stroke="#1a1a1a" stroke-width="0.22">2</text>
<text transform="translate(631.2 281.5) scale(1.023 1)" font-size="11.6" fill="#1a1a1a" stroke="#1a1a1a" stroke-width="0.22">2</text>
<text transform="translate(630.0 195.1) scale(1.023 1)" font-size="11.6" fill="#1a1a1a" stroke="#1a1a1a" stroke-width="0.22">4</text>
<text transform="translate(566.6 245.3) scale(1.023 1)" font-size="11.6" fill="#1a1a1a" stroke="#1a1a1a" stroke-width="0.22">4</text>
<text transform="translate(683.5 245.3) scale(1.023 1)" font-size="11.6" fill="#1a1a1a" stroke="#1a1a1a" stroke-width="0.22">4</text>
<text transform="translate(630.0 307.7) scale(1.023 1)" font-size="11.6" fill="#1a1a1a" stroke="#1a1a1a" stroke-width="0.22">4</text>
<text transform="translate(565.6 200.3) scale(0.988 1)" font-size="11.6" fill="#1a1a1a" stroke="#1a1a1a" stroke-width="0.22">135°</text>
<text transform="translate(671.0 200.3) scale(1.003 1)" font-size="11.6" fill="#1a1a1a" stroke="#1a1a1a" stroke-width="0.22">45°</text>
<text transform="translate(565.3 304.9) scale(1.013 1)" font-size="11.6" fill="#1a1a1a" stroke="#1a1a1a" stroke-width="0.22">225°</text>
<text transform="translate(671.0 304.9) scale(1.013 1)" font-size="11.6" fill="#1a1a1a" stroke="#1a1a1a" stroke-width="0.22">315°</text>
<text transform="translate(599.1 181.2) scale(1.1 1)" font-size="11" fill="#1a1a1a" stroke="#1a1a1a" stroke-width="0.22">ΔR/R(10<tspan font-size="7.5" dy="-4">-4</tspan><tspan dy="4">)</tspan></text>
<text transform="translate(562.2 187.4) scale(1 1)" font-size="16.3" font-weight="bold" fill="#111">(h)</text>
</svg>
</body></html>
